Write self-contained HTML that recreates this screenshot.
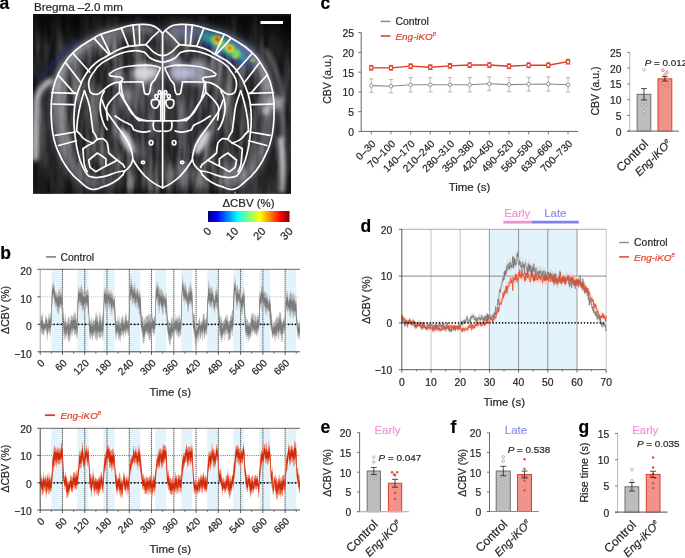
<!DOCTYPE html>
<html><head><meta charset="utf-8"><style>
html,body{margin:0;padding:0;background:#fff;}
svg{display:block;font-family:"Liberation Sans", sans-serif;will-change:transform;} text{stroke:currentColor;stroke-width:0.2px;}
</style></head><body>
<svg width="685" height="558" viewBox="0 0 685 558">
<text x="-0.60" y="8.80" font-size="17.5" text-anchor="start" fill="#000" color="#000" font-weight="bold">a</text>
<text x="0.20" y="258.70" font-size="17.5" text-anchor="start" fill="#000" color="#000" font-weight="bold">b</text>
<text x="320.60" y="9.30" font-size="17.5" text-anchor="start" fill="#000" color="#000" font-weight="bold">c</text>
<text x="360.60" y="231.90" font-size="17.5" text-anchor="start" fill="#000" color="#000" font-weight="bold">d</text>
<text x="320.60" y="432.60" font-size="17.5" text-anchor="start" fill="#000" color="#000" font-weight="bold">e</text>
<text x="450.60" y="432.60" font-size="17.5" text-anchor="start" fill="#000" color="#000" font-weight="bold">f</text>
<text x="578.60" y="432.60" font-size="17.5" text-anchor="start" fill="#000" color="#000" font-weight="bold">g</text>
<text x="34.00" y="10.50" font-size="11.6" text-anchor="start" fill="#231f20" color="#231f20">Bregma –2.0 mm</text>
<g id="brain"><defs><clipPath id="bclip"><rect x="33" y="14" width="258" height="179.7"/></clipPath><filter id="b1" filterUnits="userSpaceOnUse" x="20" y="0" width="300" height="210"><feGaussianBlur stdDeviation="1.2"/></filter><filter id="b2" filterUnits="userSpaceOnUse" x="20" y="0" width="300" height="210"><feGaussianBlur stdDeviation="2"/></filter><filter id="b3" filterUnits="userSpaceOnUse" x="20" y="0" width="300" height="210"><feGaussianBlur stdDeviation="3"/></filter><filter id="b4" filterUnits="userSpaceOnUse" x="20" y="0" width="300" height="210"><feGaussianBlur stdDeviation="4"/></filter><filter id="b8" filterUnits="userSpaceOnUse" x="20" y="0" width="300" height="210"><feGaussianBlur stdDeviation="8"/></filter><filter id="tex" x="0" y="0" width="100%" height="100%"><feTurbulence type="fractalNoise" baseFrequency="0.09 0.018" numOctaves="3" seed="5" result="n"/><feColorMatrix in="n" type="matrix" values="0 0 0 0 0.88  0 0 0 0 0.88  0 0 0 0 0.92  2.2 0 0 0 -0.85"/></filter><linearGradient id="stripes" x1="0" x2="7" y1="0" y2="0" gradientUnits="userSpaceOnUse" spreadMethod="repeat"><stop offset="0" stop-color="#fff" stop-opacity="0"/><stop offset="0.5" stop-color="#fff" stop-opacity="0.07"/><stop offset="1" stop-color="#fff" stop-opacity="0"/></linearGradient><linearGradient id="topdark" x1="0" x2="0" y1="0" y2="1"><stop offset="0" stop-color="#000" stop-opacity="0.6"/><stop offset="0.18" stop-color="#000" stop-opacity="0"/></linearGradient></defs>
<g clip-path="url(#bclip)">
<rect x="33" y="14" width="258" height="180" fill="#1e1e20"/>
<rect x="33" y="14" width="258" height="180" fill="url(#stripes)"/>
<rect x="33" y="14" width="258" height="180" fill="#fff" filter="url(#tex)" opacity="0.5"/>
<path d="M158,30 C140,25 115,29 95,38 C75,49 62,65 56,87 C53,107 54,130 60,150 C66,168 77,180 95,185" fill="none" stroke="#9a9aa6" stroke-opacity="0.5" stroke-width="18" stroke-linecap="round" filter="url(#b4)"/>
<path d="M150,28 C135,25 118,27 100,34 C85,41 72,52 62,66 C58,73 56,80 55,88" fill="none" stroke="#dcdcf4" stroke-opacity="0.55" stroke-width="8" stroke-linecap="round" filter="url(#b2)"/>
<ellipse cx="140" cy="105" rx="22" ry="40" fill="#50505a" fill-opacity="0.35" filter="url(#b8)"/>
<g transform="translate(325.2,0) scale(-1,1)"><path d="M158,30 C140,25 115,29 95,38 C75,49 62,65 56,87 C53,107 54,130 60,150 C66,168 77,180 95,185" fill="none" stroke="#9a9aa6" stroke-opacity="0.5" stroke-width="18" stroke-linecap="round" filter="url(#b4)"/>
<path d="M150,28 C135,25 118,27 100,34 C85,41 72,52 62,66 C58,73 56,80 55,88" fill="none" stroke="#dcdcf4" stroke-opacity="0.55" stroke-width="8" stroke-linecap="round" filter="url(#b2)"/>
<ellipse cx="140" cy="105" rx="22" ry="40" fill="#50505a" fill-opacity="0.35" filter="url(#b8)"/></g>
<mask id="outm" maskUnits="userSpaceOnUse" x="33" y="14" width="258" height="180"><rect x="33" y="14" width="258" height="180" fill="#fff"/><g filter="url(#b3)"><path d="M162.6,33.3 C160.5,31 158,28.5 155.5,27 C152.5,25.2 148,24.3 143,24.4 C136,24.5 128,25.3 121.3,28.1 C114,30 107,32 100.9,34.3 C97,35.8 95.5,37 93.7,38.3 C89,41 85,43.5 80.4,46.5 C76.5,49.5 73,52.5 70.2,55.7 C67.5,58.5 66,61 64.1,63.9 C60,70 57,76 55,82 C53,88 52,94 51.5,100 C51,108 51,118 51.8,126 C52.6,134 54.5,143 57.5,150 C60.5,157.5 64,164 69,170.5 C72.5,175 75.5,178 78.6,180.3 C82,183.5 85,186.5 88.6,188.3 C90.5,189.3 92.5,189.7 94.7,189.4 C97,189.2 99.5,188.2 102.1,187 L162.6,191 Z" fill="#000"/><path d="M162.6,33.3 C160.5,31 158,28.5 155.5,27 C152.5,25.2 148,24.3 143,24.4 C136,24.5 128,25.3 121.3,28.1 C114,30 107,32 100.9,34.3 C97,35.8 95.5,37 93.7,38.3 C89,41 85,43.5 80.4,46.5 C76.5,49.5 73,52.5 70.2,55.7 C67.5,58.5 66,61 64.1,63.9 C60,70 57,76 55,82 C53,88 52,94 51.5,100 C51,108 51,118 51.8,126 C52.6,134 54.5,143 57.5,150 C60.5,157.5 64,164 69,170.5 C72.5,175 75.5,178 78.6,180.3 C82,183.5 85,186.5 88.6,188.3 C90.5,189.3 92.5,189.7 94.7,189.4 C97,189.2 99.5,188.2 102.1,187 L162.6,191 Z" fill="#000" transform="translate(325.2,0) scale(-1,1)"/></g></mask>
<rect x="33" y="14" width="258" height="180" fill="#050505" opacity="0.55" mask="url(#outm)"/>
<ellipse cx="144" cy="73" rx="12" ry="9" fill="#f2f2fa" fill-opacity="0.8" filter="url(#b3)"/>
<ellipse cx="181" cy="73" rx="12" ry="9" fill="#d6d6f4" fill-opacity="0.8" filter="url(#b3)"/>
<ellipse cx="127" cy="95" rx="4" ry="6" fill="#c0c0cc" fill-opacity="0.45" filter="url(#b3)"/>
<ellipse cx="116" cy="77" rx="6" ry="8" fill="#f2f2fa" fill-opacity="0.45" filter="url(#b3)"/>
<ellipse cx="155" cy="71" rx="6" ry="5" fill="#f2f2fa" fill-opacity="0.5" filter="url(#b3)"/>
<ellipse cx="172" cy="62" rx="10" ry="5" fill="#d6d6f4" fill-opacity="0.55" filter="url(#b3)"/>
<ellipse cx="198" cy="72" rx="10" ry="13" fill="#d6d6f4" fill-opacity="0.6" filter="url(#b3)"/>
<ellipse cx="127" cy="141" rx="4.5" ry="14" fill="#f2f2fa" fill-opacity="0.85" filter="url(#b2)" transform="rotate(-28 127 141)"/>
<ellipse cx="202" cy="142" rx="4.5" ry="14" fill="#f2f2fa" fill-opacity="0.85" filter="url(#b2)" transform="rotate(28 202 142)"/>
<ellipse cx="138" cy="152" rx="9" ry="10" fill="#9a9aa4" fill-opacity="0.4" filter="url(#b4)"/>
<ellipse cx="182" cy="175" rx="16" ry="10" fill="#a0a0aa" fill-opacity="0.35" filter="url(#b4)"/>
<ellipse cx="233" cy="172" rx="10" ry="8" fill="#c8c8d0" fill-opacity="0.4" filter="url(#b4)"/>
<ellipse cx="274" cy="103" rx="10" ry="7" fill="#f2f2fa" fill-opacity="0.5" filter="url(#b3)"/>
<ellipse cx="60" cy="100" rx="6" ry="25" fill="#b0b0b8" fill-opacity="0.35" filter="url(#b4)"/>
<ellipse cx="100" cy="100" rx="5" ry="12" fill="#7a7a84" fill-opacity="0.3" filter="url(#b4)"/>
<ellipse cx="225" cy="100" rx="5" ry="12" fill="#7a7a84" fill-opacity="0.3" filter="url(#b4)"/>
<ellipse cx="266" cy="111" rx="3" ry="4" fill="#ffffff" fill-opacity="0.7" filter="url(#b2)"/>
<path d="M35.5,158 L36.5,100 C38,92 42,86 50,81" fill="none" stroke="#f2f2fa" stroke-opacity="0.75" stroke-width="6" stroke-linecap="round" filter="url(#b2)"/>
<path d="M42,60 L42,200" fill="none" stroke="#9a9a9a" stroke-opacity="0.25" stroke-width="5" stroke-linecap="round" filter="url(#b3)"/>
<path d="M40,78 C55,60 68,48 80,40" fill="none" stroke="#2030a0" stroke-opacity="0.5" stroke-width="3" stroke-linecap="round" filter="url(#b2)"/>
<path d="M281,140 C283,160 283,175 282,190" fill="none" stroke="#f2f2fa" stroke-opacity="0.8" stroke-width="6" stroke-linecap="round" filter="url(#b2)"/>
<path d="M280,100 C283,115 284,128 283,140" fill="none" stroke="#d0d0dc" stroke-opacity="0.55" stroke-width="4" stroke-linecap="round" filter="url(#b2)"/>
<path d="M266,50 C276,68 282,85 283,100" fill="none" stroke="#c8c8d8" stroke-opacity="0.45" stroke-width="4" stroke-linecap="round" filter="url(#b2)"/>
<ellipse cx="280" cy="22" rx="22" ry="16" fill="#000" fill-opacity="0.6" filter="url(#b8)"/>
<ellipse cx="60" cy="20" rx="30" ry="10" fill="#000" fill-opacity="0.4" filter="url(#b8)"/>
<ellipse cx="45" cy="185" rx="14" ry="12" fill="#000" fill-opacity="0.4" filter="url(#b8)"/>
<ellipse cx="280" cy="188" rx="12" ry="8" fill="#000" fill-opacity="0.3" filter="url(#b8)"/>
<ellipse cx="226" cy="47" rx="34" ry="11" fill="#2848b8" fill-opacity="0.55" filter="url(#b4)" transform="rotate(30 226 47)"/>
<ellipse cx="185" cy="32" rx="14" ry="6" fill="#9098e0" fill-opacity="0.5" filter="url(#b3)" transform="rotate(8 185 32)"/>
<ellipse cx="208" cy="37" rx="9" ry="5" fill="#38c0c8" fill-opacity="0.8" filter="url(#b2)" transform="rotate(20 208 37)"/>
<ellipse cx="225" cy="46" rx="18" ry="6.5" fill="#40c8a0" fill-opacity="0.85" filter="url(#b2)" transform="rotate(32 225 46)"/>
<ellipse cx="241" cy="56" rx="8" ry="3.5" fill="#40b8a8" fill-opacity="0.7" filter="url(#b2)" transform="rotate(38 241 56)"/>
<ellipse cx="217.4" cy="40.5" rx="6.5" ry="4.5" fill="#a8e040" fill-opacity="0.95" filter="url(#b1)" transform="rotate(30 217.4 40.5)"/>
<ellipse cx="229.7" cy="48.5" rx="6" ry="4" fill="#a8e040" fill-opacity="0.95" filter="url(#b1)" transform="rotate(35 229.7 48.5)"/>
<ellipse cx="236" cy="54.5" rx="3.5" ry="5" fill="#90d850" fill-opacity="0.9" filter="url(#b1)" transform="rotate(35 236 54.5)"/>
<ellipse cx="217.4" cy="40" rx="4" ry="3" fill="#f8e030" fill-opacity="1" filter="url(#b1)" transform="rotate(30 217.4 40)"/>
<ellipse cx="229.7" cy="48" rx="3.6" ry="2.6" fill="#f8d030" fill-opacity="1" filter="url(#b1)" transform="rotate(35 229.7 48)"/>
<ellipse cx="217.4" cy="39.5" rx="2.3" ry="1.7" fill="#e82010" fill-opacity="1" filter="url(#b1)" transform="rotate(30 217.4 39.5)"/>
<ellipse cx="229.7" cy="48" rx="2.1" ry="1.5" fill="#e84010" fill-opacity="1" filter="url(#b1)" transform="rotate(35 229.7 48)"/>
<ellipse cx="252.5" cy="60.3" rx="2" ry="2" fill="#a0d040" fill-opacity="0.9" filter="url(#b1)"/>
<rect x="33" y="14" width="258" height="180" fill="url(#topdark)"/>
<rect x="33" y="14" width="258" height="2.2" fill="#111"/>
</g>
<g fill="none" stroke="#fff" stroke-width="1.7" stroke-linejoin="round" stroke-linecap="round">
<path d="M162.6,33.3 C160.5,31 158,28.5 155.5,27 C152.5,25.2 148,24.3 143,24.4 C136,24.5 128,25.3 121.3,28.1 C114,30 107,32 100.9,34.3 C97,35.8 95.5,37 93.7,38.3 C89,41 85,43.5 80.4,46.5 C76.5,49.5 73,52.5 70.2,55.7 C67.5,58.5 66,61 64.1,63.9 C60,70 57,76 55,82 C53,88 52,94 51.5,100 C51,108 51,118 51.8,126 C52.6,134 54.5,143 57.5,150 C60.5,157.5 64,164 69,170.5 C72.5,175 75.5,178 78.6,180.3 C82,183.5 85,186.5 88.6,188.3 C90.5,189.3 92.5,189.7 94.7,189.4 C97,189.2 99.5,188.2 102.1,187"/>
<path d="M145.8,44.7 C140,45.1 135,45.6 130,46.2 C123,47.2 117,50 111.1,53.7 C107,56 103.5,58 99,60.5 C94,64 89.5,68.5 86.1,74 C83,78.5 81,82.5 79.7,86.9 C77.5,92 76.2,96 75.4,100.9 C74.5,106 74,112 73.9,118 C73.8,124 74.3,130 75,135 C75.6,140 76,143 76.5,145.9 C77.5,151 78.5,155.5 80,160.2 C81.5,164 83,167.5 84.3,170.2 C85.5,172.5 87,174.5 88.6,176 C92,177.5 95,177.8 98.7,177.4 C103,177 107,176 110.2,174.6 C114,173 117,172 120,171.5 C122,171.2 123.5,171 125,170.8"/>
<path d="M145.8,44.7 C147.5,46 149,47.2 150.1,48.7 C151.5,50.3 153,51.7 155.1,53 C157,54.2 158.5,55 159.4,55.1 C160.5,55.4 161.5,55.5 162.6,55.6"/>
<path d="M145.8,44.7 C149,40.5 153,36 158.5,31.6"/>
<path d="M139.3,24.6 L139.7,45.3"/>
<path d="M132.9,25.2 L135.0,45.8"/>
<path d="M121.3,28.1 L128.5,46.2"/>
<path d="M100.9,34.3 L110.0,53.7"/>
<path d="M94.7,38.9 C99,44 104,49 108.5,54"/>
<path d="M73.3,53.7 L89.6,72"/>
<path d="M65.5,62.5 L81.2,83"/>
<path d="M57.7,74.8 C63,80 68,86 72.3,91 C73.5,92.3 74.5,93 76,93.4"/>
<path d="M51.6,92.6 L75.6,93.4"/>
<path d="M51.1,104 L74.2,104.7"/>
<path d="M55.2,135.4 L75.1,132"/>
<path d="M58.5,145.5 L76.4,140.8"/>
<path d="M162.6,62.5 C158,61.5 153,60 149.5,57.5 C147.5,55.5 146.5,53.5 144.3,52.3 C140,50.6 135,50.3 130,51.2 C124,52 118,54 111.1,57.8 C106,60.5 103,62 100.9,63.9 C98,66 96,68.3 94.7,70.8 C92,74 90.5,76.5 89.4,79.4 C88.5,82 88.4,84.5 88.8,86.9 C89.2,89 89.6,90.8 90.4,92.3 C92,93.8 94.5,94.6 96.9,94.4 C99,94.2 100.8,92.8 102.3,91.2 C104.5,89 106.5,87.3 108.7,85.8 C111,84.3 113,83.2 115.2,82.6 C117,82.2 119,82 121.6,82 L143,81.8"/>
<path d="M84.5,90.8 C83,95 81.8,99 80.8,103 C79.5,108 78.5,113 77.5,120 C77,125 76.8,128 76.7,131"/>
<path d="M84.5,90.8 C86.5,96 88.2,101 89.5,106 C90.5,111 91,115 91.5,120 C92,124 92.5,128 93,131.5"/>
<path d="M109.1,74.2 C112,71.5 115,69.5 118.2,68.7 C122,67.3 126,66.3 131,66 C136,65.5 141,65.1 145.6,65.1 C149,65.2 152,65.5 154.7,66 C157,66.5 159,67 160.2,67.8 C160,69.5 159.3,71 158.4,72.4 C157,75 156,77.5 154.7,79.7 C153.3,81.5 152,82.8 151.1,84.2 C150.5,86.5 150.5,88.5 150.2,90.6 C149.8,92.3 149.2,93.6 148.4,94.3 C147,94.6 145.5,94.2 144.7,93.4 C144.2,91.8 144,90.2 143.8,88.8 C143.5,87 143.2,85 142.9,83.3"/>
<path d="M109.8,75.6 C113,76.5 117,76.8 120.5,77.2 C122,77.7 123,78.5 122.7,79.4 C122.2,80.3 121.5,81 120.5,81.8"/>
<path d="M104.4,91.2 C102.5,93.5 101.5,96 101.2,98.7 C100.5,102 100,105 100.1,108.4 C100.3,112 101,116 102.3,120 C103.5,124 105,127 107,129.5"/>
<path d="M119.5,82.6 C119.6,86 119.6,89 119.5,92.3 C116,95.5 112.5,98.5 109.8,101.9 C108,104 106.8,106 106.6,108.4 C106.4,112 106.8,116 107.6,120"/>
<path d="M119.5,92.3 C121.5,96 123.5,99.5 125.9,103 C128.5,107 131.5,111.5 134.5,115.9 C136,118 137.5,119.5 139,120.5"/>
<path d="M139,120.5 C145,120.8 152,121 162.6,120.8"/>
<path d="M120.7,82 C121,88 122,94 124,99.6 C126,104 128,106.5 129,108.9"/>
<path d="M76.7,131 C79,133 81,135 82.5,137.5 C85,140 88,141.5 93,143 C95,141.5 96,140.3 97.3,139.4 C99.5,138.6 101.5,138.5 103,138.7 C105,139.8 106.5,141.3 107.3,143 C108,146 108.5,149.5 108.7,153 C111.5,155.5 114.5,158 117.3,160.2 C119.5,162 121.5,163.5 123.1,164.5 C123.8,165.5 124.3,166.5 124.5,167.4"/>
<path d="M82.9,148.7 C83.2,153 83.5,158 84.3,164.5 C85,167.5 86,169.8 87.2,171.7"/>
<path d="M82.9,148.7 C86,146.5 89.5,144.5 93,143"/>
<path d="M88.6,160.2 C91.5,157.8 94.5,155.2 97.3,153 C100,154.5 103,156.5 105.9,158.8 L105.9,166 C102.5,167.8 99,169.8 95.8,171.7 C94,170.5 92,169 90.1,167.4 C89.5,165 89,162.5 88.6,160.2 Z"/>
<path d="M105.9,166 C110,164.5 113,162.5 117.3,160.2"/>
<path d="M93,131.5 C95,134 96.5,136.5 97.3,139.4"/>
<path d="M102.1,100 C104,106 105.5,110 107.8,113.4 C111,118 114,122.5 117.4,126.8 C121,131.5 124.5,136 127,140.2 C129.5,144.5 131,148 131.7,151.6 C132.5,155 133,157.5 132.7,159.3 C132.3,161.5 131.5,163.5 130.8,165 C129,167.5 127,169.5 125,170.8 C124,172 123.5,173.5 123.1,174.6 C120,178 117,180.5 113.6,182.2 C110,184.5 106,186 102.1,187"/>
<path d="M132.7,159.3 C136,165 140,171 145,176 C150,181 156,185 162.6,187.8"/>
<path d="M115,116 C118,118 121,120 124.3,121.7 C127,123 129.5,124 131.3,125.2 C132.5,126.5 133,128.3 133.6,129.8 C136.5,131 140,132 143,132.2 C145.5,132.3 148,131.7 150,131"/>
<path d="M151.5,100.5 C153.5,99.3 156.5,99.3 158.8,100.2 C159.8,102.5 159,105.5 157,107.5 C155.5,108.5 153.5,108.2 152.3,106.5 C151.3,104.8 151,102.5 151.5,100.5 Z"/>
<path d="M160.9,92 L160.9,120.7"/>
<path d="M153.5,121 C153,124 153,127 154,129.5 C155.5,131 158,131.5 160.9,131.2"/>
<path d="M129,108.9 C131,113 134,116.5 138.3,118.2 C141,119.5 144,120.5 147.6,120.8"/>
<ellipse cx="143.0" cy="162.4" rx="1.6" ry="1.3"/>
<ellipse cx="151.1" cy="142.7" rx="1.8" ry="2.2"/>
<ellipse cx="159.7" cy="92.4" rx="1.3" ry="1.9"/>
<ellipse cx="156.4" cy="96.3" rx="1.5" ry="1.9"/>
<g transform="translate(325.2,0) scale(-1,1)"><path d="M162.6,33.3 C160.5,31 158,28.5 155.5,27 C152.5,25.2 148,24.3 143,24.4 C136,24.5 128,25.3 121.3,28.1 C114,30 107,32 100.9,34.3 C97,35.8 95.5,37 93.7,38.3 C89,41 85,43.5 80.4,46.5 C76.5,49.5 73,52.5 70.2,55.7 C67.5,58.5 66,61 64.1,63.9 C60,70 57,76 55,82 C53,88 52,94 51.5,100 C51,108 51,118 51.8,126 C52.6,134 54.5,143 57.5,150 C60.5,157.5 64,164 69,170.5 C72.5,175 75.5,178 78.6,180.3 C82,183.5 85,186.5 88.6,188.3 C90.5,189.3 92.5,189.7 94.7,189.4 C97,189.2 99.5,188.2 102.1,187"/>
<path d="M145.8,44.7 C140,45.1 135,45.6 130,46.2 C123,47.2 117,50 111.1,53.7 C107,56 103.5,58 99,60.5 C94,64 89.5,68.5 86.1,74 C83,78.5 81,82.5 79.7,86.9 C77.5,92 76.2,96 75.4,100.9 C74.5,106 74,112 73.9,118 C73.8,124 74.3,130 75,135 C75.6,140 76,143 76.5,145.9 C77.5,151 78.5,155.5 80,160.2 C81.5,164 83,167.5 84.3,170.2 C85.5,172.5 87,174.5 88.6,176 C92,177.5 95,177.8 98.7,177.4 C103,177 107,176 110.2,174.6 C114,173 117,172 120,171.5 C122,171.2 123.5,171 125,170.8"/>
<path d="M145.8,44.7 C147.5,46 149,47.2 150.1,48.7 C151.5,50.3 153,51.7 155.1,53 C157,54.2 158.5,55 159.4,55.1 C160.5,55.4 161.5,55.5 162.6,55.6"/>
<path d="M145.8,44.7 C149,40.5 153,36 158.5,31.6"/>
<path d="M139.3,24.6 L139.7,45.3"/>
<path d="M132.9,25.2 L135.0,45.8"/>
<path d="M121.3,28.1 L128.5,46.2"/>
<path d="M100.9,34.3 L110.0,53.7"/>
<path d="M94.7,38.9 C99,44 104,49 108.5,54"/>
<path d="M73.3,53.7 L89.6,72"/>
<path d="M65.5,62.5 L81.2,83"/>
<path d="M57.7,74.8 C63,80 68,86 72.3,91 C73.5,92.3 74.5,93 76,93.4"/>
<path d="M51.6,92.6 L75.6,93.4"/>
<path d="M51.1,104 L74.2,104.7"/>
<path d="M55.2,135.4 L75.1,132"/>
<path d="M58.5,145.5 L76.4,140.8"/>
<path d="M162.6,62.5 C158,61.5 153,60 149.5,57.5 C147.5,55.5 146.5,53.5 144.3,52.3 C140,50.6 135,50.3 130,51.2 C124,52 118,54 111.1,57.8 C106,60.5 103,62 100.9,63.9 C98,66 96,68.3 94.7,70.8 C92,74 90.5,76.5 89.4,79.4 C88.5,82 88.4,84.5 88.8,86.9 C89.2,89 89.6,90.8 90.4,92.3 C92,93.8 94.5,94.6 96.9,94.4 C99,94.2 100.8,92.8 102.3,91.2 C104.5,89 106.5,87.3 108.7,85.8 C111,84.3 113,83.2 115.2,82.6 C117,82.2 119,82 121.6,82 L143,81.8"/>
<path d="M84.5,90.8 C83,95 81.8,99 80.8,103 C79.5,108 78.5,113 77.5,120 C77,125 76.8,128 76.7,131"/>
<path d="M84.5,90.8 C86.5,96 88.2,101 89.5,106 C90.5,111 91,115 91.5,120 C92,124 92.5,128 93,131.5"/>
<path d="M109.1,74.2 C112,71.5 115,69.5 118.2,68.7 C122,67.3 126,66.3 131,66 C136,65.5 141,65.1 145.6,65.1 C149,65.2 152,65.5 154.7,66 C157,66.5 159,67 160.2,67.8 C160,69.5 159.3,71 158.4,72.4 C157,75 156,77.5 154.7,79.7 C153.3,81.5 152,82.8 151.1,84.2 C150.5,86.5 150.5,88.5 150.2,90.6 C149.8,92.3 149.2,93.6 148.4,94.3 C147,94.6 145.5,94.2 144.7,93.4 C144.2,91.8 144,90.2 143.8,88.8 C143.5,87 143.2,85 142.9,83.3"/>
<path d="M109.8,75.6 C113,76.5 117,76.8 120.5,77.2 C122,77.7 123,78.5 122.7,79.4 C122.2,80.3 121.5,81 120.5,81.8"/>
<path d="M104.4,91.2 C102.5,93.5 101.5,96 101.2,98.7 C100.5,102 100,105 100.1,108.4 C100.3,112 101,116 102.3,120 C103.5,124 105,127 107,129.5"/>
<path d="M119.5,82.6 C119.6,86 119.6,89 119.5,92.3 C116,95.5 112.5,98.5 109.8,101.9 C108,104 106.8,106 106.6,108.4 C106.4,112 106.8,116 107.6,120"/>
<path d="M119.5,92.3 C121.5,96 123.5,99.5 125.9,103 C128.5,107 131.5,111.5 134.5,115.9 C136,118 137.5,119.5 139,120.5"/>
<path d="M139,120.5 C145,120.8 152,121 162.6,120.8"/>
<path d="M120.7,82 C121,88 122,94 124,99.6 C126,104 128,106.5 129,108.9"/>
<path d="M76.7,131 C79,133 81,135 82.5,137.5 C85,140 88,141.5 93,143 C95,141.5 96,140.3 97.3,139.4 C99.5,138.6 101.5,138.5 103,138.7 C105,139.8 106.5,141.3 107.3,143 C108,146 108.5,149.5 108.7,153 C111.5,155.5 114.5,158 117.3,160.2 C119.5,162 121.5,163.5 123.1,164.5 C123.8,165.5 124.3,166.5 124.5,167.4"/>
<path d="M82.9,148.7 C83.2,153 83.5,158 84.3,164.5 C85,167.5 86,169.8 87.2,171.7"/>
<path d="M82.9,148.7 C86,146.5 89.5,144.5 93,143"/>
<path d="M88.6,160.2 C91.5,157.8 94.5,155.2 97.3,153 C100,154.5 103,156.5 105.9,158.8 L105.9,166 C102.5,167.8 99,169.8 95.8,171.7 C94,170.5 92,169 90.1,167.4 C89.5,165 89,162.5 88.6,160.2 Z"/>
<path d="M105.9,166 C110,164.5 113,162.5 117.3,160.2"/>
<path d="M93,131.5 C95,134 96.5,136.5 97.3,139.4"/>
<path d="M102.1,100 C104,106 105.5,110 107.8,113.4 C111,118 114,122.5 117.4,126.8 C121,131.5 124.5,136 127,140.2 C129.5,144.5 131,148 131.7,151.6 C132.5,155 133,157.5 132.7,159.3 C132.3,161.5 131.5,163.5 130.8,165 C129,167.5 127,169.5 125,170.8 C124,172 123.5,173.5 123.1,174.6 C120,178 117,180.5 113.6,182.2 C110,184.5 106,186 102.1,187"/>
<path d="M132.7,159.3 C136,165 140,171 145,176 C150,181 156,185 162.6,187.8"/>
<path d="M115,116 C118,118 121,120 124.3,121.7 C127,123 129.5,124 131.3,125.2 C132.5,126.5 133,128.3 133.6,129.8 C136.5,131 140,132 143,132.2 C145.5,132.3 148,131.7 150,131"/>
<path d="M151.5,100.5 C153.5,99.3 156.5,99.3 158.8,100.2 C159.8,102.5 159,105.5 157,107.5 C155.5,108.5 153.5,108.2 152.3,106.5 C151.3,104.8 151,102.5 151.5,100.5 Z"/>
<path d="M160.9,92 L160.9,120.7"/>
<path d="M153.5,121 C153,124 153,127 154,129.5 C155.5,131 158,131.5 160.9,131.2"/>
<path d="M129,108.9 C131,113 134,116.5 138.3,118.2 C141,119.5 144,120.5 147.6,120.8"/>
<ellipse cx="143.0" cy="162.4" rx="1.6" ry="1.3"/>
<ellipse cx="151.1" cy="142.7" rx="1.8" ry="2.2"/>
<ellipse cx="159.7" cy="92.4" rx="1.3" ry="1.9"/>
<ellipse cx="156.4" cy="96.3" rx="1.5" ry="1.9"/></g>
<path d="M162.6,33.3 L162.6,188"/>
</g>
<rect x="260.5" y="21" width="22.5" height="3" fill="#fff"/>
<line x1="235.1" y1="191.8" x2="235.1" y2="193.7" stroke="#fff" stroke-width="0.8"/></g>
<defs><linearGradient id="jet" x1="0" x2="1" y1="0" y2="0"><stop offset="0" stop-color="#00007f"/><stop offset="0.11" stop-color="#0000ff"/><stop offset="0.36" stop-color="#00ffff"/><stop offset="0.5" stop-color="#7fff7f"/><stop offset="0.64" stop-color="#ffff00"/><stop offset="0.89" stop-color="#ff0000"/><stop offset="1" stop-color="#7f0000"/></linearGradient></defs>
<rect x="208.00" y="211.00" width="81.50" height="11.00" fill="url(#jet)"/>
<text x="248.50" y="206.60" font-size="11.45" text-anchor="middle" fill="#231f20" color="#231f20">ΔCBV (%)</text>
<text x="212.00" y="232.00" font-size="11.0" text-anchor="end" fill="#231f20" color="#231f20" transform="rotate(-45 212.00 232.00)">0</text>
<text x="239.17" y="232.00" font-size="11.0" text-anchor="end" fill="#231f20" color="#231f20" transform="rotate(-45 239.17 232.00)">10</text>
<text x="266.33" y="232.00" font-size="11.0" text-anchor="end" fill="#231f20" color="#231f20" transform="rotate(-45 266.33 232.00)">20</text>
<text x="293.50" y="232.00" font-size="11.0" text-anchor="end" fill="#231f20" color="#231f20" transform="rotate(-45 293.50 232.00)">30</text>
<rect x="51.33" y="269.30" width="11.13" height="82.50" fill="#e3f3fc"/>
<rect x="77.31" y="269.30" width="11.13" height="82.50" fill="#e3f3fc"/>
<rect x="103.29" y="269.30" width="11.13" height="82.50" fill="#e3f3fc"/>
<rect x="129.27" y="269.30" width="11.13" height="82.50" fill="#e3f3fc"/>
<rect x="155.25" y="269.30" width="11.13" height="82.50" fill="#e3f3fc"/>
<rect x="181.23" y="269.30" width="11.13" height="82.50" fill="#e3f3fc"/>
<rect x="207.21" y="269.30" width="11.13" height="82.50" fill="#e3f3fc"/>
<rect x="233.19" y="269.30" width="11.13" height="82.50" fill="#e3f3fc"/>
<rect x="259.17" y="269.30" width="11.13" height="82.50" fill="#e3f3fc"/>
<rect x="285.15" y="269.30" width="11.13" height="82.50" fill="#e3f3fc"/>
<line x1="40.20" y1="269.30" x2="300.00" y2="269.30" stroke="#444" stroke-width="0.8"/>
<line x1="40.20" y1="296.80" x2="300.00" y2="296.80" stroke="#999" stroke-width="0.7" stroke-dasharray="1 1.2"/>
<line x1="62.47" y1="269.30" x2="62.47" y2="351.80" stroke="#000" stroke-width="0.9" stroke-dasharray="1 1"/>
<line x1="84.74" y1="269.30" x2="84.74" y2="351.80" stroke="#000" stroke-width="0.9" stroke-dasharray="1 1"/>
<line x1="107.01" y1="269.30" x2="107.01" y2="351.80" stroke="#000" stroke-width="0.9" stroke-dasharray="1 1"/>
<line x1="129.27" y1="269.30" x2="129.27" y2="351.80" stroke="#000" stroke-width="0.9" stroke-dasharray="1 1"/>
<line x1="151.54" y1="269.30" x2="151.54" y2="351.80" stroke="#000" stroke-width="0.9" stroke-dasharray="1 1"/>
<line x1="173.81" y1="269.30" x2="173.81" y2="351.80" stroke="#000" stroke-width="0.9" stroke-dasharray="1 1"/>
<line x1="196.08" y1="269.30" x2="196.08" y2="351.80" stroke="#000" stroke-width="0.9" stroke-dasharray="1 1"/>
<line x1="218.35" y1="269.30" x2="218.35" y2="351.80" stroke="#000" stroke-width="0.9" stroke-dasharray="1 1"/>
<line x1="240.62" y1="269.30" x2="240.62" y2="351.80" stroke="#000" stroke-width="0.9" stroke-dasharray="1 1"/>
<line x1="262.89" y1="269.30" x2="262.89" y2="351.80" stroke="#000" stroke-width="0.9" stroke-dasharray="1 1"/>
<line x1="285.15" y1="269.30" x2="285.15" y2="351.80" stroke="#000" stroke-width="0.9" stroke-dasharray="1 1"/>
<line x1="40.20" y1="324.30" x2="300.00" y2="324.30" stroke="#000" stroke-width="1.7" stroke-dasharray="0 3.5" stroke-linecap="round"/>
<line x1="40.20" y1="324.30" x2="300.00" y2="324.30" stroke="#000" stroke-width="0.7" stroke-dasharray="0.8 0.95"/>
<polygon points="40.5,319.7 41.0,317.1 41.5,314.4 42.0,316.5 42.5,310.9 43.0,321.3 43.5,320.9 44.0,323.9 44.5,323.2 45.0,322.4 45.5,313.1 46.0,317.3 46.5,316.0 47.0,322.1 47.5,317.4 48.0,321.7 48.5,316.3 49.0,310.9 49.5,318.0 50.0,316.0 50.5,310.9 51.0,316.9 51.5,301.5 52.0,285.9 52.5,285.4 53.0,283.9 53.5,279.6 54.0,285.7 54.5,285.1 55.0,290.2 55.5,292.8 56.0,292.1 56.5,291.4 57.0,295.1 57.5,294.9 58.0,292.7 58.5,290.7 59.0,289.8 59.5,288.6 60.0,291.9 60.5,294.0 61.0,284.8 61.5,295.7 62.0,291.8 62.5,291.3 63.0,305.3 63.5,315.0 64.0,317.2 64.5,325.5 65.0,312.6 65.5,316.2 66.0,323.3 66.5,321.7 67.0,322.5 67.5,321.3 68.0,316.8 68.5,316.1 69.0,318.9 69.5,316.9 70.0,325.7 70.5,319.8 71.0,315.3 71.5,315.6 72.0,315.8 72.5,316.6 73.0,318.2 73.5,314.1 74.0,312.2 74.5,313.5 75.0,317.7 75.5,312.7 76.0,309.5 76.5,321.9 77.0,319.2 77.5,301.9 78.0,291.2 78.5,286.4 79.0,287.2 79.5,289.6 80.0,291.2 80.5,287.7 81.0,285.9 81.5,283.5 82.0,288.8 82.5,289.1 83.0,291.1 83.5,291.6 84.0,294.7 84.5,295.0 85.0,291.0 85.5,292.1 86.0,289.5 86.5,291.7 87.0,290.8 87.5,288.0 88.0,291.2 88.5,289.4 89.0,308.4 89.5,320.4 90.0,319.7 90.5,322.8 91.0,314.9 91.5,319.5 92.0,324.3 92.5,322.2 93.0,317.2 93.5,319.8 94.0,320.7 94.5,321.2 95.0,320.0 95.5,316.1 96.0,310.8 96.5,313.2 97.0,317.7 97.5,315.9 98.0,314.9 98.5,323.6 99.0,321.5 99.5,313.1 100.0,311.6 100.5,316.2 101.0,316.0 101.5,323.3 102.0,317.9 102.5,311.2 103.0,319.6 103.5,304.3 104.0,284.9 104.5,291.0 105.0,290.9 105.5,287.4 106.0,288.8 106.5,290.7 107.0,292.5 107.5,293.6 108.0,286.9 108.5,293.2 109.0,289.0 109.5,295.2 110.0,289.2 110.5,290.3 111.0,295.4 111.5,289.7 112.0,294.0 112.5,292.6 113.0,297.4 113.5,300.5 114.0,295.2 114.5,295.7 115.0,301.9 115.5,313.1 116.0,319.8 116.5,321.9 117.0,320.3 117.5,321.3 118.0,315.6 118.5,323.4 119.0,312.7 119.5,320.6 120.0,324.8 120.5,324.1 121.0,316.0 121.5,320.5 122.0,317.4 122.5,316.6 123.0,314.2 123.5,318.8 124.0,322.9 124.5,321.5 125.0,316.6 125.5,312.0 126.0,316.9 126.5,313.1 127.0,319.6 127.5,320.1 128.0,321.5 128.4,319.2 128.9,312.9 129.4,293.8 129.9,287.8 130.4,287.5 130.9,275.0 131.4,278.9 131.9,283.6 132.4,288.1 132.9,284.1 133.4,290.3 133.9,283.4 134.4,281.3 134.9,289.7 135.4,284.5 135.9,293.2 136.4,293.1 136.9,286.6 137.4,288.9 137.9,289.5 138.4,291.0 138.9,296.3 139.4,288.5 139.9,292.4 140.4,293.5 140.9,298.3 141.4,312.6 141.9,316.4 142.4,315.5 142.9,316.0 143.4,323.2 143.9,318.5 144.4,321.6 144.9,315.9 145.4,321.7 145.9,314.9 146.4,316.7 146.9,315.7 147.4,315.6 147.9,317.3 148.4,313.9 148.9,313.0 149.4,314.2 149.9,319.9 150.4,314.3 150.9,314.4 151.4,318.4 151.9,317.7 152.4,318.5 152.9,311.3 153.4,320.3 153.9,318.2 154.4,316.2 154.9,317.4 155.4,300.0 155.9,285.6 156.4,286.2 156.9,279.7 157.4,287.0 157.9,280.8 158.4,285.7 158.9,286.9 159.4,290.5 159.9,286.2 160.4,292.7 160.9,288.4 161.4,290.8 161.9,287.6 162.4,294.8 162.9,289.8 163.4,294.4 163.9,292.6 164.4,296.9 164.9,296.2 165.4,296.9 165.9,292.6 166.4,293.1 166.9,301.0 167.4,311.7 167.9,319.8 168.4,321.4 168.9,320.8 169.4,325.5 169.9,326.3 170.4,321.5 170.9,322.4 171.4,315.9 171.9,318.9 172.4,316.8 172.9,323.3 173.4,322.9 173.9,312.4 174.4,320.8 174.9,319.2 175.4,320.2 175.9,312.6 176.4,318.4 176.9,319.7 177.4,318.5 177.9,315.7 178.4,319.9 178.9,315.3 179.4,313.5 179.9,319.4 180.4,318.5 180.9,318.9 181.4,297.1 181.9,287.2 182.4,279.7 182.9,275.3 183.4,283.3 183.9,286.1 184.4,287.2 184.9,281.5 185.4,284.1 185.9,286.3 186.4,291.7 186.9,286.3 187.4,294.8 187.9,294.9 188.4,290.0 188.9,286.7 189.4,283.4 189.9,293.6 190.4,283.4 190.9,281.5 191.4,289.7 191.9,286.1 192.4,294.0 192.9,310.2 193.4,313.2 193.9,313.7 194.4,314.7 194.9,315.3 195.4,329.4 195.9,323.0 196.4,330.9 196.9,325.7 197.4,327.0 197.9,323.7 198.4,320.8 198.9,320.2 199.4,317.1 199.9,318.9 200.4,323.1 200.9,324.0 201.4,320.3 201.9,322.3 202.4,320.5 202.9,314.6 203.4,313.8 203.9,313.2 204.4,314.3 204.9,322.7 205.4,319.3 205.9,318.5 206.4,318.0 206.9,309.8 207.4,297.2 207.9,294.2 208.4,281.0 208.9,280.3 209.4,289.1 209.9,284.1 210.4,289.2 210.9,288.1 211.4,289.6 211.9,285.3 212.4,288.2 212.9,292.8 213.4,290.9 213.9,295.9 214.4,299.7 214.9,298.6 215.4,290.3 215.9,290.1 216.4,291.9 216.9,283.5 217.4,294.6 217.9,287.6 218.4,298.3 218.9,302.0 219.4,315.1 219.9,318.1 220.4,315.0 220.9,321.7 221.4,315.3 221.9,321.5 222.4,328.9 222.9,318.2 223.4,322.2 223.9,321.3 224.4,317.7 224.9,320.3 225.4,317.1 225.9,315.0 226.4,318.8 226.9,314.4 227.4,313.6 227.9,320.8 228.4,321.7 228.9,321.6 229.4,320.6 229.9,320.2 230.4,315.1 230.9,316.5 231.4,315.1 231.9,312.0 232.4,309.0 232.9,311.6 233.4,293.0 233.9,282.3 234.4,285.3 234.9,275.6 235.4,280.8 235.9,286.0 236.4,289.6 236.9,285.8 237.4,283.6 237.9,287.8 238.4,291.0 238.9,289.2 239.4,287.8 239.9,290.8 240.4,292.3 240.9,296.9 241.4,296.7 241.9,295.2 242.4,292.7 242.9,292.8 243.4,293.5 243.9,285.5 244.4,290.8 244.9,302.7 245.4,313.5 245.9,320.0 246.4,316.6 246.9,322.7 247.4,318.8 247.9,319.9 248.4,323.6 248.9,321.9 249.4,321.5 249.9,324.5 250.4,324.4 250.9,318.1 251.4,315.6 251.9,312.1 252.4,315.3 252.9,312.7 253.4,313.3 253.9,320.5 254.4,312.7 254.9,321.5 255.4,314.2 255.9,314.8 256.4,321.9 256.9,314.4 257.4,319.1 257.9,312.9 258.4,315.3 258.9,317.4 259.4,290.6 259.9,294.4 260.4,292.4 260.9,290.9 261.4,284.6 261.9,287.9 262.4,282.2 262.9,288.3 263.4,285.8 263.9,288.7 264.4,293.5 264.9,290.6 265.4,294.1 265.9,291.7 266.4,297.0 266.9,291.4 267.4,295.2 267.9,299.2 268.4,303.6 268.9,297.5 269.4,293.5 269.9,300.8 270.4,298.4 270.9,307.3 271.4,313.2 271.9,315.0 272.4,322.4 272.9,328.9 273.4,319.4 273.9,325.0 274.4,321.2 274.9,322.0 275.4,317.5 275.9,322.5 276.4,315.2 276.9,319.0 277.4,314.4 277.9,320.0 278.4,314.6 278.9,318.6 279.4,311.6 279.9,312.4 280.4,312.2 280.9,313.6 281.4,318.8 281.9,321.7 282.4,322.4 282.9,320.6 283.4,319.1 283.9,317.7 284.4,316.2 284.9,322.1 285.4,310.1 285.9,295.6 286.4,296.9 286.9,289.4 287.4,294.8 287.9,290.8 288.4,300.8 288.9,300.8 289.4,294.7 289.9,292.4 290.4,289.5 290.9,294.8 291.4,293.1 291.9,293.3 292.4,298.3 292.9,291.7 293.4,295.5 293.9,292.3 294.4,297.4 294.9,298.5 295.4,303.8 295.9,292.5 296.4,300.5 296.9,316.0 297.4,318.8 297.9,326.1 298.4,322.8 298.9,323.3 299.4,319.5 299.9,323.9 299.9,341.7 299.4,336.6 298.9,340.7 298.4,335.6 297.9,336.1 297.4,339.6 296.9,324.8 296.4,330.2 295.9,317.3 295.4,314.9 294.9,317.0 294.4,312.2 293.9,319.5 293.4,317.3 292.9,310.4 292.4,319.9 291.9,310.8 291.4,311.9 290.9,319.3 290.4,315.4 289.9,312.3 289.4,317.9 288.9,312.0 288.4,309.0 287.9,311.2 287.4,312.4 286.9,308.1 286.4,311.8 285.9,310.1 285.4,328.6 284.9,336.1 284.4,328.3 283.9,330.6 283.4,334.2 282.9,333.7 282.4,342.2 281.9,341.8 281.4,340.9 280.9,334.3 280.4,333.9 279.9,338.7 279.4,331.3 278.9,332.9 278.4,341.3 277.9,338.7 277.4,331.8 276.9,335.7 276.4,336.3 275.9,342.8 275.4,335.5 274.9,334.4 274.4,342.1 273.9,335.6 273.4,335.8 272.9,337.9 272.4,338.4 271.9,334.6 271.4,330.5 270.9,330.0 270.4,326.1 269.9,319.1 269.4,318.5 268.9,310.0 268.4,313.1 267.9,309.0 267.4,311.9 266.9,310.9 266.4,317.1 265.9,309.3 265.4,315.0 264.9,312.3 264.4,306.4 263.9,304.8 263.4,311.1 262.9,309.2 262.4,305.2 261.9,299.7 261.4,311.3 260.9,308.4 260.4,304.6 259.9,309.1 259.4,325.3 258.9,333.5 258.4,330.0 257.9,332.6 257.4,338.1 256.9,332.1 256.4,336.9 255.9,333.2 255.4,333.7 254.9,336.3 254.4,332.6 253.9,332.0 253.4,329.8 252.9,336.7 252.4,331.1 251.9,330.7 251.4,335.4 250.9,338.8 250.4,336.0 249.9,338.1 249.4,341.9 248.9,335.8 248.4,343.3 247.9,334.4 247.4,337.3 246.9,343.9 246.4,333.4 245.9,332.7 245.4,338.4 244.9,328.8 244.4,313.4 243.9,308.1 243.4,306.7 242.9,310.0 242.4,313.5 241.9,315.8 241.4,312.8 240.9,308.4 240.4,306.4 239.9,309.9 239.4,304.0 238.9,299.4 238.4,300.2 237.9,311.0 237.4,304.4 236.9,305.1 236.4,311.2 235.9,299.9 235.4,293.1 234.9,290.4 234.4,300.4 233.9,314.2 233.4,327.1 232.9,327.3 232.4,337.5 231.9,334.4 231.4,329.5 230.9,337.0 230.4,338.9 229.9,339.8 229.4,338.7 228.9,340.6 228.4,340.7 227.9,336.9 227.4,331.5 226.9,335.3 226.4,333.9 225.9,328.8 225.4,335.6 224.9,342.3 224.4,333.3 223.9,333.6 223.4,335.2 222.9,337.6 222.4,340.3 221.9,337.9 221.4,342.7 220.9,342.5 220.4,334.4 219.9,337.2 219.4,332.7 218.9,321.8 218.4,313.9 217.9,314.5 217.4,309.1 216.9,309.4 216.4,306.6 215.9,308.9 215.4,302.9 214.9,314.8 214.4,311.1 213.9,310.1 213.4,308.4 212.9,301.1 212.4,301.6 211.9,311.2 211.4,306.6 210.9,306.1 210.4,308.2 209.9,303.5 209.4,307.5 208.9,302.6 208.4,304.2 207.9,304.0 207.4,324.4 206.9,335.1 206.4,336.0 205.9,331.8 205.4,334.2 204.9,337.7 204.4,339.5 203.9,336.9 203.4,332.5 202.9,331.2 202.4,341.6 201.9,339.0 201.4,332.4 200.9,337.7 200.4,338.0 199.9,343.2 199.4,330.4 198.9,332.8 198.4,339.9 197.9,344.6 197.4,337.7 196.9,338.2 196.4,345.6 195.9,347.0 195.4,341.8 194.9,345.3 194.4,333.2 193.9,334.9 193.4,329.0 192.9,327.1 192.4,309.3 191.9,302.1 191.4,310.5 190.9,304.3 190.4,303.9 189.9,304.2 189.4,304.3 188.9,307.7 188.4,311.7 187.9,313.4 187.4,310.3 186.9,300.9 186.4,304.0 185.9,301.6 185.4,300.7 184.9,307.1 184.4,299.0 183.9,300.0 183.4,302.7 182.9,290.5 182.4,295.1 181.9,307.3 181.4,329.1 180.9,337.2 180.4,333.1 179.9,337.7 179.4,333.3 178.9,340.2 178.4,336.5 177.9,335.9 177.4,334.8 176.9,329.2 176.4,336.8 175.9,334.2 175.4,329.8 174.9,331.0 174.4,336.9 173.9,331.4 173.4,339.7 172.9,335.0 172.4,336.7 171.9,338.3 171.4,338.9 170.9,339.5 170.4,345.5 169.9,344.4 169.4,344.9 168.9,339.6 168.4,341.1 167.9,331.6 167.4,334.4 166.9,324.0 166.4,312.1 165.9,312.0 165.4,315.9 164.9,310.5 164.4,303.5 163.9,304.2 163.4,313.7 162.9,314.2 162.4,315.0 161.9,310.0 161.4,309.3 160.9,306.7 160.4,303.9 159.9,304.4 159.4,313.2 158.9,314.1 158.4,306.3 157.9,298.7 157.4,305.4 156.9,304.8 156.4,297.8 155.9,305.5 155.4,323.7 154.9,334.1 154.4,333.1 153.9,338.0 153.4,333.7 152.9,332.3 152.4,333.2 151.9,328.7 151.4,333.6 150.9,341.2 150.4,335.1 149.9,343.3 149.4,338.3 148.9,340.2 148.4,335.6 147.9,334.1 147.4,334.2 146.9,337.3 146.4,332.0 145.9,332.4 145.4,333.8 144.9,343.2 144.4,336.5 143.9,345.1 143.4,341.9 142.9,344.0 142.4,333.8 141.9,330.4 141.4,332.9 140.9,324.4 140.4,316.1 139.9,315.2 139.4,313.9 138.9,314.6 138.4,305.1 137.9,310.2 137.4,308.4 136.9,297.5 136.4,307.2 135.9,308.4 135.4,303.7 134.9,306.9 134.4,303.0 133.9,303.8 133.4,301.8 132.9,300.5 132.4,304.4 131.9,306.6 131.4,294.4 130.9,300.0 130.4,300.9 129.9,301.0 129.4,327.6 128.9,334.7 128.4,335.6 128.0,335.9 127.5,332.9 127.0,329.8 126.5,334.0 126.0,330.6 125.5,337.8 125.0,334.0 124.5,332.3 124.0,331.7 123.5,339.0 123.0,335.4 122.5,333.5 122.0,335.8 121.5,336.4 121.0,331.1 120.5,344.6 120.0,336.7 119.5,338.7 119.0,342.1 118.5,339.6 118.0,336.3 117.5,334.8 117.0,330.9 116.5,337.0 116.0,342.6 115.5,336.4 115.0,330.9 114.5,315.9 114.0,309.5 113.5,310.8 113.0,308.1 112.5,308.4 112.0,316.5 111.5,309.9 111.0,316.6 110.5,301.3 110.0,311.2 109.5,309.3 109.0,305.2 108.5,308.7 108.0,299.3 107.5,310.5 107.0,307.9 106.5,311.7 106.0,305.4 105.5,308.8 105.0,308.5 104.5,302.2 104.0,313.0 103.5,331.7 103.0,340.4 102.5,334.4 102.0,340.6 101.5,332.0 101.0,338.6 100.5,336.3 100.0,338.6 99.5,338.3 99.0,336.0 98.5,337.6 98.0,331.7 97.5,339.9 97.0,340.9 96.5,339.8 96.0,336.3 95.5,340.2 95.0,337.6 94.5,332.7 94.0,336.9 93.5,334.6 93.0,336.4 92.5,342.4 92.0,338.1 91.5,334.4 91.0,339.0 90.5,340.4 90.0,334.7 89.5,339.6 89.0,332.2 88.5,312.1 88.0,313.7 87.5,307.5 87.0,305.5 86.5,307.1 86.0,306.8 85.5,309.3 85.0,309.9 84.5,306.4 84.0,308.7 83.5,311.1 83.0,309.1 82.5,308.4 82.0,314.3 81.5,306.3 81.0,305.6 80.5,306.3 80.0,302.6 79.5,302.1 79.0,311.4 78.5,302.4 78.0,314.6 77.5,337.1 77.0,339.8 76.5,336.4 76.0,333.8 75.5,334.4 75.0,334.5 74.5,336.8 74.0,331.5 73.5,331.3 73.0,331.6 72.5,337.1 72.0,330.6 71.5,337.8 71.0,329.9 70.5,335.4 70.0,344.2 69.5,337.5 69.0,342.5 68.5,340.7 68.0,340.7 67.5,335.2 67.0,331.9 66.5,336.3 66.0,340.7 65.5,337.8 65.0,332.7 64.5,338.5 64.0,341.2 63.5,333.3 63.0,325.4 62.5,313.8 62.0,308.0 61.5,311.3 61.0,304.5 60.5,307.6 60.0,308.3 59.5,307.7 59.0,313.1 58.5,314.6 58.0,314.0 57.5,310.1 57.0,312.6 56.5,305.8 56.0,306.9 55.5,307.4 55.0,304.3 54.5,303.6 54.0,301.2 53.5,294.3 53.0,294.8 52.5,304.2 52.0,307.3 51.5,321.8 51.0,329.9 50.5,337.8 50.0,330.1 49.5,336.8 49.0,330.9 48.5,332.9 48.0,332.0 47.5,337.7 47.0,341.7 46.5,329.2 46.0,332.4 45.5,329.7 45.0,329.8 44.5,331.7 44.0,336.7 43.5,333.4 43.0,335.7 42.5,334.2 42.0,333.4 41.5,332.3 41.0,332.5 40.5,337.9" fill="#adadad" stroke="none"/>
<polygon points="40.5,321.8 41.0,320.5 41.5,320.0 42.0,320.5 42.5,318.4 43.0,323.8 43.5,324.0 44.0,324.8 44.5,324.1 45.0,324.7 45.5,320.6 46.0,319.8 46.5,318.6 47.0,325.3 47.5,322.9 48.0,324.1 48.5,322.1 49.0,318.2 49.5,320.5 50.0,319.3 50.5,318.4 51.0,320.8 51.5,302.7 52.0,290.0 52.5,288.9 53.0,288.3 53.5,287.0 54.0,289.2 54.5,290.4 55.0,294.0 55.5,295.4 56.0,295.4 56.5,296.7 57.0,297.9 57.5,299.0 58.0,296.6 58.5,295.8 59.0,297.2 59.5,296.1 60.0,296.3 60.5,297.1 61.0,292.3 61.5,299.3 62.0,296.0 62.5,294.6 63.0,306.8 63.5,319.2 64.0,321.8 64.5,326.9 65.0,320.0 65.5,322.0 66.0,328.3 66.5,326.2 67.0,325.0 67.5,324.8 68.0,324.2 68.5,323.5 69.0,324.5 69.5,323.8 70.0,328.6 70.5,323.6 71.0,319.7 71.5,320.5 72.0,320.5 72.5,320.8 73.0,320.6 73.5,320.1 74.0,319.7 74.5,319.1 75.0,320.3 75.5,320.2 76.0,317.0 76.5,324.1 77.0,325.4 77.5,304.3 78.0,296.6 78.5,292.1 79.0,292.9 79.5,292.6 80.0,293.6 80.5,293.6 81.0,293.4 81.5,291.0 82.0,293.7 82.5,295.9 83.0,296.0 83.5,295.7 84.0,297.6 84.5,297.7 85.0,295.5 85.5,297.0 86.0,295.9 86.5,294.6 87.0,295.5 87.5,295.0 88.0,295.6 88.5,295.8 89.0,311.0 89.5,323.7 90.0,324.6 90.5,325.4 91.0,322.4 91.5,325.0 92.0,326.4 92.5,326.9 93.0,323.0 93.5,324.9 94.0,325.2 94.5,324.1 95.0,322.3 95.5,320.3 96.0,318.2 96.5,320.7 97.0,322.6 97.5,320.9 98.0,321.6 98.5,325.8 99.0,325.4 99.5,320.6 100.0,319.0 100.5,321.5 101.0,323.0 101.5,326.7 102.0,323.7 102.5,318.7 103.0,323.1 103.5,306.9 104.0,292.4 104.5,293.5 105.0,293.6 105.5,294.7 106.0,292.8 106.5,293.7 107.0,295.9 107.5,295.5 108.0,292.0 108.5,295.2 109.0,294.1 109.5,297.8 110.0,294.0 110.5,294.2 111.0,298.5 111.5,297.1 112.0,298.5 112.5,296.6 113.0,299.4 113.5,302.7 114.0,298.7 114.5,299.4 115.0,307.3 115.5,319.7 116.0,324.2 116.5,324.7 117.0,324.2 117.5,326.0 118.0,323.1 118.5,325.6 119.0,320.2 119.5,326.0 120.0,328.4 120.5,327.7 121.0,323.3 121.5,324.5 122.0,323.3 122.5,320.8 123.0,320.2 123.5,324.0 124.0,324.6 124.5,324.3 125.0,323.3 125.5,318.4 126.0,320.8 126.5,320.6 127.0,322.4 127.5,322.9 128.0,324.7 128.4,323.0 128.9,319.6 129.4,297.1 129.9,290.6 130.4,289.2 130.9,282.5 131.4,285.0 131.9,287.5 132.4,291.1 132.9,289.5 133.4,293.4 133.9,289.3 134.4,288.2 134.9,293.4 135.4,292.0 135.9,295.9 136.4,295.4 136.9,291.2 137.4,291.5 137.9,293.7 138.4,296.1 138.9,298.6 139.4,294.6 139.9,297.2 140.4,298.2 140.9,305.8 141.4,320.0 141.9,321.2 142.4,322.2 142.9,323.5 143.4,327.5 143.9,326.0 144.4,325.3 144.9,323.4 145.4,325.2 145.9,322.4 146.4,323.5 146.9,323.1 147.4,323.1 147.9,322.2 148.4,321.3 148.9,320.5 149.4,321.6 149.9,326.1 150.4,321.7 150.9,321.9 151.4,322.7 151.9,322.4 152.4,321.2 152.9,317.6 153.4,322.1 153.9,321.0 154.4,320.6 154.9,321.5 155.4,303.8 155.9,291.1 156.4,290.9 156.9,286.9 157.4,289.5 157.9,286.5 158.4,292.0 158.9,294.3 159.4,295.8 159.9,293.1 160.4,296.4 160.9,295.9 161.4,296.4 161.9,295.1 162.4,298.8 162.9,295.6 163.4,296.9 163.9,296.1 164.4,298.4 164.9,299.4 165.4,300.4 165.9,298.2 166.4,300.6 166.9,308.5 167.4,318.0 167.9,323.3 168.4,326.4 168.9,326.4 169.4,328.8 169.9,328.7 170.4,327.1 170.9,326.9 171.4,322.9 171.9,323.4 172.4,322.7 172.9,328.2 173.4,327.0 173.9,319.8 174.4,323.5 174.9,322.4 175.4,322.4 175.9,320.0 176.4,321.0 176.9,321.2 177.4,322.8 177.9,323.1 178.4,324.4 178.9,321.5 179.4,320.9 179.9,322.6 180.4,322.3 180.9,322.3 181.4,299.1 181.9,292.0 182.4,284.6 182.9,282.7 183.4,286.6 183.9,289.7 184.4,291.3 184.9,288.2 185.4,289.6 185.9,291.4 186.4,293.7 186.9,291.5 187.4,296.3 187.9,297.5 188.4,295.1 188.9,291.9 189.4,290.9 189.9,294.5 190.4,290.8 190.9,289.0 191.4,292.3 191.9,291.8 192.4,295.5 192.9,310.4 193.4,320.6 193.9,320.1 194.4,322.2 194.9,322.8 195.4,330.5 195.9,329.1 196.4,332.7 196.9,328.6 197.4,328.5 197.9,327.8 198.4,325.7 198.9,324.4 199.4,322.4 199.9,324.9 200.4,325.5 200.9,325.9 201.4,324.6 201.9,324.3 202.4,324.7 202.9,322.1 203.4,318.8 203.9,318.3 204.4,321.6 204.9,325.2 205.4,323.6 205.9,322.5 206.4,321.2 206.9,317.3 207.4,301.6 207.9,296.4 208.4,288.4 208.9,287.8 209.4,293.9 209.9,291.6 210.4,292.6 210.9,294.8 211.4,293.1 211.9,292.2 212.4,293.8 212.9,295.2 213.4,296.5 213.9,300.0 214.4,301.9 214.9,300.6 215.4,295.3 215.9,294.7 216.4,294.8 216.9,291.0 217.4,296.8 217.9,295.1 218.4,300.4 218.9,308.0 219.4,318.0 219.9,320.7 220.4,321.9 220.9,325.1 221.4,322.8 221.9,325.7 222.4,330.1 222.9,325.7 223.4,324.6 223.9,324.9 224.4,323.0 224.9,324.5 225.4,321.5 225.9,319.6 226.4,321.0 226.9,320.4 227.4,320.5 227.9,324.4 228.4,323.8 228.9,324.3 229.4,325.2 229.9,324.3 230.4,319.6 230.9,320.7 231.4,320.7 231.9,319.5 232.4,316.5 232.9,319.1 233.4,298.5 233.9,289.2 234.4,287.4 234.9,282.2 235.4,284.9 235.9,289.4 236.4,293.3 236.9,293.3 237.4,291.0 237.9,292.8 238.4,294.4 238.9,294.1 239.4,293.2 239.9,294.4 240.4,297.4 240.9,300.0 241.4,299.8 241.9,298.5 242.4,296.2 242.9,295.9 243.4,296.7 243.9,293.0 244.4,295.0 244.9,310.2 245.4,319.8 245.9,324.0 246.4,323.9 246.9,328.0 247.4,325.4 247.9,324.3 248.4,325.5 248.9,326.5 249.4,325.4 249.9,327.4 250.4,327.7 250.9,322.0 251.4,319.1 251.9,317.3 252.4,320.1 252.9,320.2 253.4,320.6 253.9,323.1 254.4,320.1 254.9,324.9 255.4,321.0 255.9,322.3 256.4,325.3 256.9,321.0 257.4,322.3 257.9,319.5 258.4,320.1 258.9,320.6 259.4,298.1 259.9,298.3 260.4,296.8 260.9,295.2 261.4,292.1 261.9,292.5 262.4,289.7 262.9,293.5 263.4,293.3 263.9,295.7 264.4,298.2 264.9,296.8 265.4,298.3 265.9,298.2 266.4,300.8 266.9,297.8 267.4,298.6 267.9,301.0 268.4,306.5 268.9,301.6 269.4,299.9 269.9,303.3 270.4,304.2 270.9,314.8 271.4,320.1 271.9,322.5 272.4,326.2 272.9,330.2 273.4,325.8 273.9,327.7 274.4,326.0 274.9,326.8 275.4,325.0 275.9,326.7 276.4,322.6 276.9,324.4 277.4,320.9 277.9,323.2 278.4,322.1 278.9,323.7 279.4,319.1 279.9,319.0 280.4,319.7 280.9,321.1 281.4,323.6 281.9,325.0 282.4,325.4 282.9,323.2 283.4,322.0 283.9,320.2 284.4,321.3 284.9,326.1 285.4,310.5 285.9,299.6 286.4,300.3 286.9,296.9 287.4,297.2 287.9,296.6 288.4,303.1 288.9,302.8 289.4,300.2 289.9,298.3 290.4,296.9 290.9,300.5 291.4,299.1 291.9,300.4 292.4,302.5 292.9,299.2 293.4,300.8 293.9,299.8 294.4,301.8 294.9,303.5 295.4,304.9 295.9,300.0 296.4,305.7 296.9,319.1 297.4,323.1 297.9,327.0 298.4,325.4 298.9,328.3 299.4,325.0 299.9,325.6 299.9,334.3 299.4,333.2 298.9,336.0 298.4,332.7 297.9,332.4 297.4,332.1 296.9,324.3 296.4,322.7 295.9,310.7 295.4,311.5 294.9,311.9 294.4,309.0 293.9,312.0 293.4,311.5 292.9,307.5 292.4,312.5 291.9,308.0 291.4,307.8 290.9,311.9 290.4,310.1 289.9,306.8 289.4,310.5 288.9,308.5 288.4,306.9 287.9,308.0 287.4,304.9 286.9,305.3 286.4,306.8 285.9,308.1 285.4,326.1 284.9,332.7 284.4,326.6 283.9,326.4 283.4,327.7 282.9,330.8 282.4,334.7 281.9,334.4 281.4,333.9 280.9,330.8 280.4,329.6 279.9,331.2 279.4,328.0 278.9,330.2 278.4,333.8 277.9,331.2 277.4,329.2 276.9,332.0 276.4,332.6 275.9,336.8 275.4,333.9 274.9,331.7 274.4,335.6 273.9,333.1 273.4,332.9 272.9,334.5 272.4,334.2 271.9,331.8 271.4,327.7 270.9,325.4 270.4,322.3 269.9,311.7 269.4,311.9 268.9,308.4 268.4,310.5 267.9,307.4 267.4,306.9 266.9,307.2 266.4,309.6 265.9,306.2 265.4,307.5 264.9,306.5 264.4,304.0 263.9,302.6 263.4,304.1 262.9,302.9 262.4,300.8 261.9,297.9 261.4,303.8 260.9,303.4 260.4,302.6 259.9,304.8 259.4,322.8 258.9,328.1 258.4,327.3 257.9,327.7 257.4,330.6 256.9,328.5 256.4,333.3 255.9,329.4 255.4,329.9 254.9,331.8 254.4,329.3 253.9,328.8 253.4,328.0 252.9,331.9 252.4,327.9 251.9,326.6 251.4,327.9 250.9,331.6 250.4,333.7 249.9,334.8 249.4,334.4 248.9,333.7 248.4,336.9 247.9,330.9 247.4,335.0 246.9,337.5 246.4,331.4 245.9,330.9 245.4,331.0 244.9,323.8 244.4,312.6 243.9,302.8 243.4,303.1 242.9,304.9 242.4,306.1 241.9,308.4 241.4,307.3 240.9,305.9 240.4,302.9 239.9,303.3 239.4,300.8 238.9,298.2 238.4,299.7 237.9,304.1 237.4,300.0 236.9,302.4 236.4,303.8 235.9,296.9 235.4,290.3 234.9,289.7 234.4,294.6 233.9,306.8 233.4,322.1 232.9,326.4 232.4,330.0 231.9,329.0 231.4,326.6 230.9,330.4 230.4,331.4 229.9,333.5 229.4,333.4 228.9,333.1 228.4,333.2 227.9,331.2 227.4,328.5 226.9,330.4 226.4,328.9 225.9,326.6 225.4,330.8 224.9,334.9 224.4,330.2 223.9,329.7 223.4,332.1 222.9,333.9 222.4,336.0 221.9,334.2 221.4,335.9 220.9,335.0 220.4,330.8 219.9,330.4 219.4,325.2 218.9,320.0 218.4,311.2 217.9,307.0 217.4,303.6 216.9,301.9 216.4,301.9 215.9,303.3 215.4,300.9 214.9,307.9 214.4,307.4 213.9,306.9 213.4,303.9 212.9,299.4 212.4,300.4 211.9,303.8 211.4,302.4 210.9,302.7 210.4,300.9 209.9,300.5 209.4,302.2 208.9,300.0 208.4,299.3 207.9,304.3 207.4,325.2 206.9,329.5 206.4,330.5 205.9,329.0 205.4,330.9 204.9,333.1 204.4,332.7 203.9,330.3 203.4,328.3 202.9,328.9 202.4,334.1 201.9,331.6 201.4,329.6 200.9,331.5 200.4,332.5 199.9,335.7 199.4,328.8 198.9,330.2 198.4,334.2 197.9,337.2 197.4,333.7 196.9,335.2 196.4,339.4 195.9,339.6 195.4,336.2 194.9,337.8 194.4,330.6 193.9,329.8 193.4,328.0 192.9,323.2 192.4,308.6 191.9,298.7 191.4,303.0 190.9,301.0 190.4,300.8 189.9,300.9 189.4,299.4 188.9,301.5 188.4,304.2 187.9,305.9 187.4,303.0 186.9,298.1 186.4,300.2 185.9,299.0 185.4,298.0 184.9,300.2 184.4,296.7 183.9,296.6 183.4,297.0 182.9,289.4 182.4,291.5 181.9,299.8 181.4,324.6 180.9,330.2 180.4,328.8 179.9,330.9 179.4,330.4 178.9,333.5 178.4,331.5 177.9,332.1 177.4,331.2 176.9,327.3 176.4,330.9 175.9,330.4 175.4,328.0 174.9,328.7 174.4,331.2 173.9,329.2 173.4,333.7 172.9,333.5 172.4,332.0 171.9,332.2 171.4,333.3 170.9,335.1 170.4,338.1 169.9,336.9 169.4,337.5 168.9,335.0 168.4,335.6 167.9,330.1 167.4,328.4 166.9,322.5 166.4,311.4 165.9,306.4 165.4,309.1 164.9,306.8 164.4,302.5 163.9,301.6 163.4,306.6 162.9,306.7 162.4,307.5 161.9,306.2 161.4,305.4 160.9,303.1 160.4,301.5 159.9,301.7 159.4,305.7 158.9,306.6 158.4,300.2 157.9,295.4 157.4,297.9 156.9,299.0 156.4,295.9 155.9,303.7 155.4,324.2 154.9,329.2 154.4,328.4 153.9,330.5 153.4,328.4 152.9,327.8 152.4,328.9 151.9,327.9 151.4,329.5 150.9,333.8 150.4,332.2 149.9,335.9 149.4,333.1 148.9,332.7 148.4,331.5 147.9,329.4 147.4,331.0 146.9,332.8 146.4,330.2 145.9,330.8 145.4,330.6 144.9,335.7 144.4,334.1 143.9,337.6 143.4,335.5 142.9,336.9 142.4,330.0 141.9,327.6 141.4,328.9 140.9,324.0 140.4,313.6 139.9,307.7 139.4,306.5 138.9,307.7 138.4,302.9 137.9,302.7 137.4,300.9 136.9,297.3 136.4,302.1 135.9,303.2 135.4,301.0 134.9,300.4 134.4,297.9 133.9,298.9 133.4,298.3 132.9,297.0 132.4,298.0 131.9,299.2 131.4,291.2 130.9,295.0 130.4,295.4 129.9,298.4 129.4,325.4 128.9,328.5 128.4,330.7 128.0,331.5 127.5,328.6 127.0,327.3 126.5,329.8 126.0,328.2 125.5,330.4 125.0,330.8 124.5,330.0 124.0,329.0 123.5,332.8 123.0,330.9 122.5,329.3 122.0,331.6 121.5,331.3 121.0,330.1 120.5,337.1 120.0,334.0 119.5,335.1 119.0,334.6 118.5,332.2 118.0,332.0 117.5,331.9 117.0,329.5 116.5,331.5 116.0,335.1 115.5,330.5 115.0,323.4 114.5,311.9 114.0,305.6 113.5,306.5 113.0,304.3 112.5,304.5 112.0,309.0 111.5,306.0 111.0,309.1 110.5,300.5 110.0,303.8 109.5,304.6 109.0,301.9 108.5,301.9 108.0,298.0 107.5,303.0 107.0,304.0 106.5,304.3 106.0,301.3 105.5,304.0 105.0,303.0 104.5,299.2 104.0,305.6 103.5,329.4 103.0,333.1 102.5,328.7 102.0,333.1 101.5,330.4 101.0,332.4 100.5,331.0 100.0,331.1 99.5,332.7 99.0,331.7 98.5,333.3 98.0,329.5 97.5,332.5 97.0,333.4 96.5,333.2 96.0,331.1 95.5,332.7 95.0,330.5 94.5,330.2 94.0,332.2 93.5,331.8 93.0,332.7 92.5,335.5 92.0,333.7 91.5,332.4 91.0,333.8 90.5,333.0 90.0,331.4 89.5,332.2 89.0,324.8 88.5,311.3 88.0,306.2 87.5,303.8 87.0,301.9 86.5,302.0 86.0,303.8 85.5,304.9 85.0,302.9 84.5,303.0 84.0,305.0 83.5,305.0 83.0,305.4 82.5,305.2 82.0,306.8 81.5,301.8 81.0,302.2 80.5,302.4 80.0,299.0 79.5,299.2 79.0,303.9 78.5,300.2 78.0,307.1 77.5,331.9 77.0,334.1 76.5,330.7 76.0,328.3 75.5,330.1 75.0,330.0 74.5,329.4 74.0,328.8 73.5,328.2 73.0,328.0 72.5,329.6 72.0,327.7 71.5,330.5 71.0,327.9 70.5,332.9 70.0,336.7 69.5,332.7 69.0,335.2 68.5,336.0 68.0,334.8 67.5,331.0 67.0,329.5 66.5,333.5 66.0,336.3 65.5,334.0 65.0,329.3 64.5,333.8 64.0,334.8 63.5,325.8 63.0,322.2 62.5,306.3 62.0,304.4 61.5,306.1 61.0,302.4 60.5,303.7 60.0,303.5 59.5,305.1 59.0,307.7 58.5,307.1 58.0,306.5 57.5,305.6 57.0,306.1 56.5,303.6 56.0,302.7 55.5,302.3 55.0,300.1 54.5,298.5 54.0,297.3 53.5,293.9 53.0,293.7 52.5,298.1 52.0,303.5 51.5,322.1 51.0,327.3 50.5,330.3 50.0,326.4 49.5,329.9 49.0,327.4 48.5,329.6 48.0,329.8 47.5,332.4 47.0,334.9 46.5,325.8 46.0,328.1 45.5,327.9 45.0,328.0 44.5,328.6 44.0,331.2 43.5,329.2 43.0,330.2 42.5,329.3 42.0,329.0 41.5,328.2 41.0,327.8 40.5,330.4" fill="#7a7a7a" stroke="none"/>
<line x1="40.20" y1="269.30" x2="40.20" y2="351.80" stroke="#9a9a9a" stroke-width="0.9"/>
<line x1="40.20" y1="351.80" x2="300.00" y2="351.80" stroke="#333" stroke-width="0.9"/>
<line x1="37.20" y1="351.80" x2="40.20" y2="351.80" stroke="#333" stroke-width="0.8"/>
<text x="31.70" y="357.80" font-size="10.3" text-anchor="end" fill="#231f20" color="#231f20">−10</text>
<line x1="37.20" y1="324.30" x2="40.20" y2="324.30" stroke="#333" stroke-width="0.8"/>
<text x="31.70" y="330.30" font-size="10.3" text-anchor="end" fill="#231f20" color="#231f20">0</text>
<line x1="37.20" y1="296.80" x2="40.20" y2="296.80" stroke="#333" stroke-width="0.8"/>
<text x="31.70" y="302.80" font-size="10.3" text-anchor="end" fill="#231f20" color="#231f20">10</text>
<line x1="37.20" y1="269.30" x2="40.20" y2="269.30" stroke="#333" stroke-width="0.8"/>
<text x="31.70" y="275.30" font-size="10.3" text-anchor="end" fill="#231f20" color="#231f20">20</text>
<line x1="40.20" y1="351.80" x2="40.20" y2="354.80" stroke="#333" stroke-width="0.8"/>
<text x="45.20" y="363.70" font-size="10.3" text-anchor="end" fill="#231f20" color="#231f20" transform="rotate(-45 45.20 363.70)">0</text>
<line x1="62.47" y1="351.80" x2="62.47" y2="354.80" stroke="#333" stroke-width="0.8"/>
<text x="67.47" y="363.70" font-size="10.3" text-anchor="end" fill="#231f20" color="#231f20" transform="rotate(-45 67.47 363.70)">60</text>
<line x1="84.74" y1="351.80" x2="84.74" y2="354.80" stroke="#333" stroke-width="0.8"/>
<text x="89.74" y="363.70" font-size="10.3" text-anchor="end" fill="#231f20" color="#231f20" transform="rotate(-45 89.74 363.70)">120</text>
<line x1="107.01" y1="351.80" x2="107.01" y2="354.80" stroke="#333" stroke-width="0.8"/>
<text x="112.01" y="363.70" font-size="10.3" text-anchor="end" fill="#231f20" color="#231f20" transform="rotate(-45 112.01 363.70)">180</text>
<line x1="129.27" y1="351.80" x2="129.27" y2="354.80" stroke="#333" stroke-width="0.8"/>
<text x="134.27" y="363.70" font-size="10.3" text-anchor="end" fill="#231f20" color="#231f20" transform="rotate(-45 134.27 363.70)">240</text>
<line x1="151.54" y1="351.80" x2="151.54" y2="354.80" stroke="#333" stroke-width="0.8"/>
<text x="156.54" y="363.70" font-size="10.3" text-anchor="end" fill="#231f20" color="#231f20" transform="rotate(-45 156.54 363.70)">300</text>
<line x1="173.81" y1="351.80" x2="173.81" y2="354.80" stroke="#333" stroke-width="0.8"/>
<text x="178.81" y="363.70" font-size="10.3" text-anchor="end" fill="#231f20" color="#231f20" transform="rotate(-45 178.81 363.70)">360</text>
<line x1="196.08" y1="351.80" x2="196.08" y2="354.80" stroke="#333" stroke-width="0.8"/>
<text x="201.08" y="363.70" font-size="10.3" text-anchor="end" fill="#231f20" color="#231f20" transform="rotate(-45 201.08 363.70)">420</text>
<line x1="218.35" y1="351.80" x2="218.35" y2="354.80" stroke="#333" stroke-width="0.8"/>
<text x="223.35" y="363.70" font-size="10.3" text-anchor="end" fill="#231f20" color="#231f20" transform="rotate(-45 223.35 363.70)">480</text>
<line x1="240.62" y1="351.80" x2="240.62" y2="354.80" stroke="#333" stroke-width="0.8"/>
<text x="245.62" y="363.70" font-size="10.3" text-anchor="end" fill="#231f20" color="#231f20" transform="rotate(-45 245.62 363.70)">540</text>
<line x1="262.89" y1="351.80" x2="262.89" y2="354.80" stroke="#333" stroke-width="0.8"/>
<text x="267.89" y="363.70" font-size="10.3" text-anchor="end" fill="#231f20" color="#231f20" transform="rotate(-45 267.89 363.70)">600</text>
<line x1="285.15" y1="351.80" x2="285.15" y2="354.80" stroke="#333" stroke-width="0.8"/>
<text x="290.15" y="363.70" font-size="10.3" text-anchor="end" fill="#231f20" color="#231f20" transform="rotate(-45 290.15 363.70)">660</text>
<line x1="51.33" y1="351.80" x2="51.33" y2="353.60" stroke="#333" stroke-width="0.7"/>
<line x1="73.60" y1="351.80" x2="73.60" y2="353.60" stroke="#333" stroke-width="0.7"/>
<line x1="95.87" y1="351.80" x2="95.87" y2="353.60" stroke="#333" stroke-width="0.7"/>
<line x1="118.14" y1="351.80" x2="118.14" y2="353.60" stroke="#333" stroke-width="0.7"/>
<line x1="140.41" y1="351.80" x2="140.41" y2="353.60" stroke="#333" stroke-width="0.7"/>
<line x1="162.68" y1="351.80" x2="162.68" y2="353.60" stroke="#333" stroke-width="0.7"/>
<line x1="184.95" y1="351.80" x2="184.95" y2="353.60" stroke="#333" stroke-width="0.7"/>
<line x1="207.21" y1="351.80" x2="207.21" y2="353.60" stroke="#333" stroke-width="0.7"/>
<line x1="229.48" y1="351.80" x2="229.48" y2="353.60" stroke="#333" stroke-width="0.7"/>
<line x1="251.75" y1="351.80" x2="251.75" y2="353.60" stroke="#333" stroke-width="0.7"/>
<line x1="274.02" y1="351.80" x2="274.02" y2="353.60" stroke="#333" stroke-width="0.7"/>
<line x1="296.29" y1="351.80" x2="296.29" y2="353.60" stroke="#333" stroke-width="0.7"/>
<text x="8.80" y="309.95" font-size="10.5" text-anchor="middle" fill="#231f20" color="#231f20" transform="rotate(-90 8.80 309.95)">ΔCBV (%)</text>
<line x1="46.00" y1="256.90" x2="56.00" y2="256.90" stroke="#909090" stroke-width="1.8"/>
<text x="60.50" y="260.70" font-size="10.4" text-anchor="start" fill="#231f20" color="#231f20">Control</text>
<text x="170.20" y="395.80" font-size="11.45" text-anchor="middle" fill="#231f20" color="#231f20">Time (s)</text>
<rect x="51.33" y="428.30" width="11.13" height="81.75" fill="#e3f3fc"/>
<rect x="77.31" y="428.30" width="11.13" height="81.75" fill="#e3f3fc"/>
<rect x="103.29" y="428.30" width="11.13" height="81.75" fill="#e3f3fc"/>
<rect x="129.27" y="428.30" width="11.13" height="81.75" fill="#e3f3fc"/>
<rect x="155.25" y="428.30" width="11.13" height="81.75" fill="#e3f3fc"/>
<rect x="181.23" y="428.30" width="11.13" height="81.75" fill="#e3f3fc"/>
<rect x="207.21" y="428.30" width="11.13" height="81.75" fill="#e3f3fc"/>
<rect x="233.19" y="428.30" width="11.13" height="81.75" fill="#e3f3fc"/>
<rect x="259.17" y="428.30" width="11.13" height="81.75" fill="#e3f3fc"/>
<rect x="285.15" y="428.30" width="11.13" height="81.75" fill="#e3f3fc"/>
<line x1="40.20" y1="428.30" x2="300.00" y2="428.30" stroke="#444" stroke-width="0.8"/>
<line x1="40.20" y1="455.55" x2="300.00" y2="455.55" stroke="#333" stroke-width="0.7" stroke-dasharray="1 1.2"/>
<line x1="62.47" y1="428.30" x2="62.47" y2="510.05" stroke="#000" stroke-width="0.9" stroke-dasharray="1 1"/>
<line x1="84.74" y1="428.30" x2="84.74" y2="510.05" stroke="#000" stroke-width="0.9" stroke-dasharray="1 1"/>
<line x1="107.01" y1="428.30" x2="107.01" y2="510.05" stroke="#000" stroke-width="0.9" stroke-dasharray="1 1"/>
<line x1="129.27" y1="428.30" x2="129.27" y2="510.05" stroke="#000" stroke-width="0.9" stroke-dasharray="1 1"/>
<line x1="151.54" y1="428.30" x2="151.54" y2="510.05" stroke="#000" stroke-width="0.9" stroke-dasharray="1 1"/>
<line x1="173.81" y1="428.30" x2="173.81" y2="510.05" stroke="#000" stroke-width="0.9" stroke-dasharray="1 1"/>
<line x1="196.08" y1="428.30" x2="196.08" y2="510.05" stroke="#000" stroke-width="0.9" stroke-dasharray="1 1"/>
<line x1="218.35" y1="428.30" x2="218.35" y2="510.05" stroke="#000" stroke-width="0.9" stroke-dasharray="1 1"/>
<line x1="240.62" y1="428.30" x2="240.62" y2="510.05" stroke="#000" stroke-width="0.9" stroke-dasharray="1 1"/>
<line x1="262.89" y1="428.30" x2="262.89" y2="510.05" stroke="#000" stroke-width="0.9" stroke-dasharray="1 1"/>
<line x1="285.15" y1="428.30" x2="285.15" y2="510.05" stroke="#000" stroke-width="0.9" stroke-dasharray="1 1"/>
<line x1="40.20" y1="482.80" x2="300.00" y2="482.80" stroke="#000" stroke-width="1.7" stroke-dasharray="0 3.5" stroke-linecap="round"/>
<line x1="40.20" y1="482.80" x2="300.00" y2="482.80" stroke="#000" stroke-width="0.7" stroke-dasharray="0.8 0.95"/>
<polygon points="40.5,476.0 41.0,473.0 41.5,477.2 42.0,478.2 42.5,480.5 43.0,476.8 43.5,471.4 44.0,478.5 44.5,478.8 45.0,475.0 45.5,475.1 46.0,481.2 46.5,477.0 47.0,475.8 47.5,472.2 48.0,479.7 48.5,476.5 49.0,470.8 49.5,479.5 50.0,473.0 50.5,479.7 51.0,476.7 51.5,473.6 52.0,472.0 52.5,456.8 53.0,454.9 53.5,449.1 54.0,447.9 54.5,445.1 55.0,446.0 55.5,448.8 56.0,447.5 56.5,449.0 57.0,451.4 57.5,446.8 58.0,446.9 58.5,448.8 59.0,448.8 59.5,451.0 60.0,447.1 60.5,450.2 61.0,444.2 61.5,441.8 62.0,444.7 62.5,446.4 63.0,454.0 63.5,467.7 64.0,474.0 64.5,476.6 65.0,476.6 65.5,471.3 66.0,473.3 66.5,477.2 67.0,476.9 67.5,480.8 68.0,483.0 68.5,482.5 69.0,480.5 69.5,481.8 70.0,478.0 70.5,473.3 71.0,476.3 71.5,476.7 72.0,475.6 72.5,479.0 73.0,473.1 73.5,472.6 74.0,471.0 74.5,473.3 75.0,472.0 75.5,476.2 76.0,469.8 76.5,470.7 77.0,475.6 77.5,471.8 78.0,469.6 78.5,466.2 79.0,453.6 79.5,449.8 80.0,455.2 80.5,450.8 81.0,452.4 81.5,450.7 82.0,445.0 82.5,441.0 83.0,448.2 83.5,453.8 84.0,453.6 84.5,455.7 85.0,447.4 85.5,451.8 86.0,446.4 86.5,443.9 87.0,454.3 87.5,448.9 88.0,447.8 88.5,446.2 89.0,456.5 89.5,463.4 90.0,473.0 90.5,474.6 91.0,473.4 91.5,476.7 92.0,477.7 92.5,477.0 93.0,467.2 93.5,473.9 94.0,481.9 94.5,476.8 95.0,479.0 95.5,476.3 96.0,479.1 96.5,477.9 97.0,480.6 97.5,478.8 98.0,479.4 98.5,478.0 99.0,476.8 99.5,477.4 100.0,474.7 100.5,478.0 101.0,470.8 101.5,471.6 102.0,474.6 102.5,476.4 103.0,480.2 103.5,468.7 104.0,462.2 104.5,457.3 105.0,453.9 105.5,452.4 106.0,452.9 106.5,448.0 107.0,444.1 107.5,444.5 108.0,446.0 108.5,444.9 109.0,447.4 109.5,448.8 110.0,448.3 110.5,450.6 111.0,451.1 111.5,450.7 112.0,449.7 112.5,449.2 113.0,447.4 113.5,450.2 114.0,451.9 114.5,453.3 115.0,462.5 115.5,467.8 116.0,475.6 116.5,473.3 117.0,475.4 117.5,479.7 118.0,475.9 118.5,479.0 119.0,475.1 119.5,473.0 120.0,471.7 120.5,483.2 121.0,474.8 121.5,479.2 122.0,481.9 122.5,480.3 123.0,479.5 123.5,473.1 124.0,471.7 124.5,474.4 125.0,476.4 125.5,479.5 126.0,478.2 126.5,476.7 127.0,475.6 127.5,480.4 128.0,473.7 128.4,478.2 128.9,476.7 129.4,468.7 129.9,460.4 130.4,458.4 130.9,461.2 131.4,455.2 131.9,456.3 132.4,454.5 132.9,455.4 133.4,446.6 133.9,445.6 134.4,453.7 134.9,450.2 135.4,449.4 135.9,446.1 136.4,449.2 136.9,454.3 137.4,452.7 137.9,452.0 138.4,443.3 138.9,448.2 139.4,450.2 139.9,446.3 140.4,454.2 140.9,459.1 141.4,463.0 141.9,467.8 142.4,477.0 142.9,472.1 143.4,475.1 143.9,475.4 144.4,478.5 144.9,477.7 145.4,479.6 145.9,474.7 146.4,477.7 146.9,476.8 147.4,476.9 147.9,478.1 148.4,479.4 148.9,477.3 149.4,476.9 149.9,476.0 150.4,476.7 150.9,474.1 151.4,478.4 151.9,479.3 152.4,480.7 152.9,476.1 153.4,473.5 153.9,478.5 154.4,475.1 154.9,476.5 155.4,469.2 155.9,468.1 156.4,458.7 156.9,458.7 157.4,457.6 157.9,452.9 158.4,448.6 158.9,455.0 159.4,446.0 159.9,450.3 160.4,448.0 160.9,449.1 161.4,449.3 161.9,452.1 162.4,447.4 162.9,445.5 163.4,444.0 163.9,444.9 164.4,445.8 164.9,446.0 165.4,444.9 165.9,446.6 166.4,448.8 166.9,455.5 167.4,470.4 167.9,475.3 168.4,468.4 168.9,473.3 169.4,476.4 169.9,479.5 170.4,475.6 170.9,478.8 171.4,478.8 171.9,480.3 172.4,475.0 172.9,479.3 173.4,483.8 173.9,479.6 174.4,478.4 174.9,478.7 175.4,470.9 175.9,474.2 176.4,475.9 176.9,475.8 177.4,482.1 177.9,475.5 178.4,474.7 178.9,473.6 179.4,475.3 179.9,476.3 180.4,474.4 180.9,477.5 181.4,472.1 181.9,464.3 182.4,456.9 182.9,456.4 183.4,453.3 183.9,453.5 184.4,453.0 184.9,452.9 185.4,449.7 185.9,446.3 186.4,443.6 186.9,445.0 187.4,449.1 187.9,447.1 188.4,446.6 188.9,445.9 189.4,447.5 189.9,447.1 190.4,446.0 190.9,450.6 191.4,446.5 191.9,442.9 192.4,446.8 192.9,456.4 193.4,470.8 193.9,476.6 194.4,479.8 194.9,483.5 195.4,479.4 195.9,480.5 196.4,480.5 196.9,484.7 197.4,481.7 197.9,482.6 198.4,477.4 198.9,475.5 199.4,479.9 199.9,477.7 200.4,477.1 200.9,473.0 201.4,476.6 201.9,475.5 202.4,473.8 202.9,477.6 203.4,471.3 203.9,472.5 204.4,477.9 204.9,477.1 205.4,474.2 205.9,476.5 206.4,478.0 206.9,476.8 207.4,470.8 207.9,459.3 208.4,454.7 208.9,450.3 209.4,453.3 209.9,452.2 210.4,450.2 210.9,453.8 211.4,454.0 211.9,443.0 212.4,445.0 212.9,450.2 213.4,450.2 213.9,447.1 214.4,452.7 214.9,448.3 215.4,456.2 215.9,449.3 216.4,444.4 216.9,444.3 217.4,446.9 217.9,448.4 218.4,457.7 218.9,467.8 219.4,471.8 219.9,469.7 220.4,469.1 220.9,468.5 221.4,473.5 221.9,476.2 222.4,480.4 222.9,477.8 223.4,479.1 223.9,475.7 224.4,481.1 224.9,480.9 225.4,480.7 225.9,473.9 226.4,477.3 226.9,474.4 227.4,475.8 227.9,466.4 228.4,476.8 228.9,474.7 229.4,482.1 229.9,476.0 230.4,476.1 230.9,478.4 231.4,480.4 231.9,475.2 232.4,473.8 232.9,475.9 233.4,468.7 233.9,462.7 234.4,461.8 234.9,455.4 235.4,448.0 235.9,446.8 236.4,445.1 236.9,445.5 237.4,445.6 237.9,447.8 238.4,443.6 238.9,452.3 239.4,447.3 239.9,448.7 240.4,451.2 240.9,448.0 241.4,451.0 241.9,449.0 242.4,449.1 242.9,448.4 243.4,443.1 243.9,446.7 244.4,450.7 244.9,462.2 245.4,468.4 245.9,470.2 246.4,475.5 246.9,472.9 247.4,477.4 247.9,474.6 248.4,474.8 248.9,475.4 249.4,474.0 249.9,476.4 250.4,478.6 250.9,479.7 251.4,476.4 251.9,476.4 252.4,476.1 252.9,474.4 253.4,480.5 253.9,485.3 254.4,474.8 254.9,476.0 255.4,473.7 255.9,476.1 256.4,475.3 256.9,478.4 257.4,476.1 257.9,473.2 258.4,482.8 258.9,482.4 259.4,468.2 259.9,463.8 260.4,460.7 260.9,452.5 261.4,449.4 261.9,451.3 262.4,447.8 262.9,444.9 263.4,450.4 263.9,441.4 264.4,445.4 264.9,444.2 265.4,443.0 265.9,452.3 266.4,442.0 266.9,443.0 267.4,450.8 267.9,450.5 268.4,448.3 268.9,437.7 269.4,444.6 269.9,448.7 270.4,453.3 270.9,463.1 271.4,470.8 271.9,470.9 272.4,464.2 272.9,481.5 273.4,485.1 273.9,474.9 274.4,477.2 274.9,475.9 275.4,472.6 275.9,482.0 276.4,477.4 276.9,476.1 277.4,483.5 277.9,479.8 278.4,478.9 278.9,475.8 279.4,473.5 279.9,483.7 280.4,479.3 280.9,476.8 281.4,480.7 281.9,476.5 282.4,475.4 282.9,475.5 283.4,475.1 283.9,474.2 284.4,473.7 284.9,479.2 285.4,472.1 285.9,464.9 286.4,458.0 286.9,454.9 287.4,453.3 287.9,450.0 288.4,442.0 288.9,445.9 289.4,447.6 289.9,445.1 290.4,451.3 290.9,444.4 291.4,446.5 291.9,444.4 292.4,446.0 292.9,447.7 293.4,449.9 293.9,448.4 294.4,439.4 294.9,442.1 295.4,443.7 295.9,440.8 296.4,449.8 296.9,465.7 297.4,468.9 297.9,467.4 298.4,472.7 298.9,476.6 299.4,474.3 299.9,480.1 299.9,492.5 299.4,494.1 298.9,486.5 298.4,492.0 297.9,483.5 297.4,482.9 296.9,480.6 296.4,472.1 295.9,464.1 295.4,464.4 294.9,456.0 294.4,466.1 293.9,466.8 293.4,465.3 292.9,461.3 292.4,461.7 291.9,463.2 291.4,458.1 290.9,462.9 290.4,464.8 289.9,462.1 289.4,468.4 288.9,458.3 288.4,458.3 287.9,464.5 287.4,470.1 286.9,471.1 286.4,472.3 285.9,478.8 285.4,488.4 284.9,494.2 284.4,490.9 283.9,490.0 283.4,488.2 282.9,494.6 282.4,497.3 281.9,494.5 281.4,494.6 280.9,494.2 280.4,498.3 279.9,496.5 279.4,493.5 278.9,495.0 278.4,495.2 277.9,495.1 277.4,499.8 276.9,499.7 276.4,499.3 275.9,495.7 275.4,493.4 274.9,483.9 274.4,489.5 273.9,491.4 273.4,495.1 272.9,495.5 272.4,488.9 271.9,481.3 271.4,489.9 270.9,482.8 270.4,469.1 269.9,460.1 269.4,462.4 268.9,459.5 268.4,464.7 267.9,463.5 267.4,466.3 266.9,460.4 266.4,463.7 265.9,463.5 265.4,462.7 264.9,457.1 264.4,457.5 263.9,461.7 263.4,467.8 262.9,462.4 262.4,464.1 261.9,463.4 261.4,469.2 260.9,465.6 260.4,476.3 259.9,481.5 259.4,488.0 258.9,497.7 258.4,498.3 257.9,485.6 257.4,488.6 256.9,489.5 256.4,490.3 255.9,487.5 255.4,489.8 254.9,489.0 254.4,488.6 253.9,488.7 253.4,494.2 252.9,489.4 252.4,494.1 251.9,493.9 251.4,491.6 250.9,494.7 250.4,498.7 249.9,493.7 249.4,491.5 248.9,486.1 248.4,485.7 247.9,490.5 247.4,492.1 246.9,491.4 246.4,487.2 245.9,491.0 245.4,481.0 244.9,477.1 244.4,474.1 243.9,459.5 243.4,459.3 242.9,464.5 242.4,463.0 241.9,462.3 241.4,462.4 240.9,470.5 240.4,466.7 239.9,466.7 239.4,462.5 238.9,466.3 238.4,463.0 237.9,460.1 237.4,464.0 236.9,455.8 236.4,463.3 235.9,461.4 235.4,467.4 234.9,479.5 234.4,476.6 233.9,480.4 233.4,490.3 232.9,488.5 232.4,484.2 231.9,490.9 231.4,490.7 230.9,496.7 230.4,493.1 229.9,497.3 229.4,499.4 228.9,492.7 228.4,496.3 227.9,487.0 227.4,491.9 226.9,489.4 226.4,488.2 225.9,492.3 225.4,492.2 224.9,494.8 224.4,490.4 223.9,490.6 223.4,489.0 222.9,491.7 222.4,497.5 221.9,486.1 221.4,490.2 220.9,485.8 220.4,482.7 219.9,484.1 219.4,484.8 218.9,478.8 218.4,474.6 217.9,463.1 217.4,459.9 216.9,460.8 216.4,459.2 215.9,462.7 215.4,466.8 214.9,468.6 214.4,465.7 213.9,465.5 213.4,469.0 212.9,465.9 212.4,458.4 211.9,465.4 211.4,462.9 210.9,467.2 210.4,472.0 209.9,466.7 209.4,467.7 208.9,470.8 208.4,471.3 207.9,480.2 207.4,488.7 206.9,490.7 206.4,493.5 205.9,489.7 205.4,492.1 204.9,490.4 204.4,491.9 203.9,486.9 203.4,489.4 202.9,488.9 202.4,493.9 201.9,492.1 201.4,493.0 200.9,486.2 200.4,489.9 199.9,494.3 199.4,491.8 198.9,490.6 198.4,492.6 197.9,493.3 197.4,494.3 196.9,496.0 196.4,492.6 195.9,495.6 195.4,494.1 194.9,492.1 194.4,492.7 193.9,494.9 193.4,486.7 192.9,478.6 192.4,466.9 191.9,461.1 191.4,462.7 190.9,464.3 190.4,467.2 189.9,458.2 189.4,462.4 188.9,464.5 188.4,465.3 187.9,466.3 187.4,468.7 186.9,461.5 186.4,461.3 185.9,462.2 185.4,462.4 184.9,463.2 184.4,467.2 183.9,464.7 183.4,469.0 182.9,476.6 182.4,477.2 181.9,481.1 181.4,494.0 180.9,492.6 180.4,490.8 179.9,493.0 179.4,487.5 178.9,488.5 178.4,494.4 177.9,490.3 177.4,492.3 176.9,495.0 176.4,492.6 175.9,487.4 175.4,491.4 174.9,498.6 174.4,492.6 173.9,492.8 173.4,492.9 172.9,491.8 172.4,495.0 171.9,493.8 171.4,495.3 170.9,494.4 170.4,493.3 169.9,494.7 169.4,487.6 168.9,490.0 168.4,490.0 167.9,489.1 167.4,483.7 166.9,483.8 166.4,469.7 165.9,461.2 165.4,459.6 164.9,462.4 164.4,461.5 163.9,463.5 163.4,463.7 162.9,466.9 162.4,468.1 161.9,464.2 161.4,469.0 160.9,467.4 160.4,458.8 159.9,466.3 159.4,468.6 158.9,468.0 158.4,467.5 157.9,465.9 157.4,469.9 156.9,467.1 156.4,474.4 155.9,480.5 155.4,490.0 154.9,496.2 154.4,492.1 153.9,490.2 153.4,493.2 152.9,489.1 152.4,496.1 151.9,500.9 151.4,493.3 150.9,493.4 150.4,492.2 149.9,494.8 149.4,491.8 148.9,487.7 148.4,494.7 147.9,495.2 147.4,489.9 146.9,493.4 146.4,493.5 145.9,494.1 145.4,494.1 144.9,494.7 144.4,490.5 143.9,486.8 143.4,490.2 142.9,489.8 142.4,489.6 141.9,483.7 141.4,479.1 140.9,477.6 140.4,471.6 139.9,469.0 139.4,464.7 138.9,469.0 138.4,461.3 137.9,470.9 137.4,466.0 136.9,465.2 136.4,463.4 135.9,461.7 135.4,463.7 134.9,461.2 134.4,468.4 133.9,461.9 133.4,462.1 132.9,464.1 132.4,465.8 131.9,465.1 131.4,468.6 130.9,477.8 130.4,470.0 129.9,476.5 129.4,481.8 128.9,488.4 128.4,493.5 128.0,497.5 127.5,492.3 127.0,486.6 126.5,489.3 126.0,496.2 125.5,490.4 125.0,491.4 124.5,489.2 124.0,490.7 123.5,483.8 123.0,488.8 122.5,497.9 122.0,499.0 121.5,494.2 121.0,496.4 120.5,497.8 120.0,492.5 119.5,495.8 119.0,490.8 118.5,489.3 118.0,491.5 117.5,491.6 117.0,496.6 116.5,493.5 116.0,490.3 115.5,484.0 115.0,479.4 114.5,466.1 114.0,471.5 113.5,466.8 113.0,465.0 112.5,470.5 112.0,467.1 111.5,473.1 111.0,466.7 110.5,466.3 110.0,468.3 109.5,468.2 109.0,463.7 108.5,459.0 108.0,461.3 107.5,465.2 107.0,460.7 106.5,462.8 106.0,470.8 105.5,470.8 105.0,468.2 104.5,472.9 104.0,479.5 103.5,490.4 103.0,493.8 102.5,493.7 102.0,485.0 101.5,488.7 101.0,490.1 100.5,490.1 100.0,493.8 99.5,493.4 99.0,492.6 98.5,496.9 98.0,495.8 97.5,493.0 97.0,495.4 96.5,493.2 96.0,490.5 95.5,493.5 95.0,485.2 94.5,497.6 94.0,494.9 93.5,489.7 93.0,483.5 92.5,488.1 92.0,489.3 91.5,498.2 91.0,495.5 90.5,487.2 90.0,489.1 89.5,487.1 89.0,472.2 88.5,463.9 88.0,462.3 87.5,466.5 87.0,466.0 86.5,457.2 86.0,459.8 85.5,465.5 85.0,465.0 84.5,466.1 84.0,468.6 83.5,467.8 83.0,465.5 82.5,461.5 82.0,461.0 81.5,468.7 81.0,466.4 80.5,469.3 80.0,467.1 79.5,470.2 79.0,471.9 78.5,479.1 78.0,485.1 77.5,485.2 77.0,488.4 76.5,489.9 76.0,489.0 75.5,487.7 75.0,489.7 74.5,486.4 74.0,490.4 73.5,484.5 73.0,491.3 72.5,493.0 72.0,491.0 71.5,492.4 71.0,490.9 70.5,484.8 70.0,491.6 69.5,491.2 69.0,493.7 68.5,495.6 68.0,498.3 67.5,498.1 67.0,494.7 66.5,500.0 66.0,491.0 65.5,485.9 65.0,491.5 64.5,487.5 64.0,483.3 63.5,482.6 63.0,478.7 62.5,461.6 62.0,461.1 61.5,465.2 61.0,459.2 60.5,461.1 60.0,465.8 59.5,462.5 59.0,465.4 58.5,463.5 58.0,464.6 57.5,462.2 57.0,465.0 56.5,468.7 56.0,462.3 55.5,464.0 55.0,466.4 54.5,466.4 54.0,467.3 53.5,471.9 53.0,471.8 52.5,478.4 52.0,485.9 51.5,491.4 51.0,491.1 50.5,492.6 50.0,491.3 49.5,496.4 49.0,489.5 48.5,495.1 48.0,492.8 47.5,489.8 47.0,492.7 46.5,495.7 46.0,499.4 45.5,490.5 45.0,485.4 44.5,492.9 44.0,490.2 43.5,492.8 43.0,495.8 42.5,494.1 42.0,496.4 41.5,491.2 41.0,486.2 40.5,494.9" fill="#e8806a" stroke="none"/>
<polygon points="40.5,479.3 41.0,478.5 41.5,481.5 42.0,481.5 42.5,482.7 43.0,480.1 43.5,477.1 44.0,480.4 44.5,481.3 45.0,477.7 45.5,478.7 46.0,484.0 46.5,482.3 47.0,478.7 47.5,476.6 48.0,482.7 48.5,481.0 49.0,477.4 49.5,480.4 50.0,479.6 50.5,483.1 51.0,480.8 51.5,478.1 52.0,472.6 52.5,460.1 53.0,458.2 53.5,455.0 54.0,453.0 54.5,450.7 55.0,451.6 55.5,452.6 56.0,451.9 56.5,453.0 57.0,453.6 57.5,450.8 58.0,451.9 58.5,453.0 59.0,452.7 59.5,454.1 60.0,451.9 60.5,453.7 61.0,449.6 61.5,448.0 62.0,449.0 62.5,449.4 63.0,457.3 63.5,469.8 64.0,476.4 64.5,480.3 65.0,479.8 65.5,476.8 66.0,476.3 66.5,479.7 67.0,482.9 67.5,483.9 68.0,484.9 68.5,484.8 69.0,483.8 69.5,483.9 70.0,481.8 70.5,479.1 71.0,481.3 71.5,480.6 72.0,481.0 72.5,482.5 73.0,477.4 73.5,475.7 74.0,476.5 74.5,478.5 75.0,477.6 75.5,479.3 76.0,474.4 76.5,475.3 77.0,477.4 77.5,476.2 78.0,470.6 78.5,467.6 79.0,459.1 79.5,455.3 80.0,457.6 80.5,455.0 81.0,455.7 81.5,452.7 82.0,449.6 82.5,447.5 83.0,452.4 83.5,455.6 84.0,459.0 84.5,456.8 85.0,451.9 85.5,452.3 86.0,450.2 86.5,448.8 87.0,454.8 87.5,452.2 88.0,451.1 88.5,451.3 89.0,460.2 89.5,467.1 90.0,476.4 90.5,478.5 91.0,478.4 91.5,482.7 92.0,481.8 92.5,480.6 93.0,472.9 93.5,476.5 94.0,484.2 94.5,481.1 95.0,480.9 95.5,480.6 96.0,482.1 96.5,481.2 97.0,482.3 97.5,481.4 98.0,481.3 98.5,482.6 99.0,480.2 99.5,480.6 100.0,478.8 100.5,481.2 101.0,477.4 101.5,474.7 102.0,478.1 102.5,481.3 103.0,480.9 103.5,473.1 104.0,465.3 104.5,460.9 105.0,457.7 105.5,457.2 106.0,456.3 106.5,452.5 107.0,448.2 107.5,448.8 108.0,450.4 108.5,448.3 109.0,449.3 109.5,453.5 110.0,451.1 110.5,454.7 111.0,455.8 111.5,455.4 112.0,454.4 112.5,455.8 113.0,454.0 113.5,454.2 114.0,455.9 114.5,456.7 115.0,467.9 115.5,474.1 116.0,478.0 116.5,479.9 117.0,480.0 117.5,482.1 118.0,480.9 118.5,479.2 119.0,479.3 119.5,478.9 120.0,478.0 120.5,484.3 121.0,480.7 121.5,482.3 122.0,485.1 122.5,483.8 123.0,481.0 123.5,478.1 124.0,476.0 124.5,477.7 125.0,481.2 125.5,483.5 126.0,480.6 126.5,479.6 127.0,480.2 127.5,482.8 128.0,480.3 128.4,481.8 128.9,479.9 129.4,470.9 129.9,464.3 130.4,462.9 130.9,464.4 131.4,460.1 131.9,458.0 132.4,458.2 132.9,457.2 133.4,450.3 133.9,449.8 134.4,455.7 134.9,453.1 135.4,452.0 135.9,450.4 136.4,452.9 136.9,456.0 137.4,456.2 137.9,454.9 138.4,449.4 138.9,452.0 139.4,454.0 139.9,451.9 140.4,456.9 140.9,463.7 141.4,468.8 141.9,471.2 142.4,479.7 142.9,478.2 143.4,480.3 143.9,479.2 144.4,480.3 144.9,482.2 145.4,484.0 145.9,481.4 146.4,482.3 146.9,480.3 147.4,480.8 147.9,481.7 148.4,482.6 148.9,479.4 149.4,479.7 149.9,480.9 150.4,480.7 150.9,478.0 151.4,480.6 151.9,483.9 152.4,483.4 152.9,479.9 153.4,478.2 153.9,482.2 154.4,479.3 154.9,479.8 155.4,472.9 155.9,469.6 156.4,463.9 156.9,460.9 157.4,459.4 157.9,455.5 158.4,453.7 158.9,458.9 159.4,452.0 159.9,452.5 160.4,452.8 160.9,454.6 161.4,454.3 161.9,454.7 162.4,453.2 162.9,450.4 163.4,449.8 163.9,450.0 164.4,450.1 164.9,449.8 165.4,451.5 165.9,450.9 166.4,452.5 166.9,461.8 167.4,473.6 167.9,477.9 168.4,475.0 168.9,478.2 169.4,480.9 169.9,482.0 170.4,481.7 170.9,483.5 171.4,483.4 171.9,484.3 172.4,481.6 172.9,483.4 173.4,485.6 173.9,482.6 174.4,482.5 174.9,482.9 175.4,477.5 175.9,478.0 176.4,479.2 176.9,478.8 177.4,484.7 177.9,479.2 178.4,478.5 178.9,477.7 179.4,480.0 179.9,480.3 180.4,479.2 180.9,480.3 181.4,477.2 181.9,465.8 182.4,460.8 182.9,460.5 183.4,456.6 183.9,455.0 184.4,456.8 184.9,456.6 185.4,452.2 185.9,450.8 186.4,448.8 186.9,449.5 187.4,452.4 187.9,452.7 188.4,451.5 188.9,451.3 189.4,452.2 189.9,450.5 190.4,452.3 190.9,452.5 191.4,450.8 191.9,448.3 192.4,449.8 192.9,459.2 193.4,472.4 193.9,478.2 194.4,482.6 194.9,485.5 195.4,483.6 195.9,484.0 196.4,484.2 196.9,486.5 197.4,485.1 197.9,484.9 198.4,481.5 198.9,479.3 199.4,483.2 199.9,482.0 200.4,480.2 200.9,476.9 201.4,480.8 201.9,479.3 202.4,478.8 202.9,480.6 203.4,475.7 203.9,476.0 204.4,482.1 204.9,480.7 205.4,478.2 205.9,481.7 206.4,481.6 206.9,479.9 207.4,471.6 207.9,463.5 208.4,459.2 208.9,455.6 209.4,455.7 209.9,455.0 210.4,454.1 210.9,456.9 211.4,455.5 211.9,449.3 212.4,450.6 212.9,453.4 213.4,453.2 213.9,452.5 214.4,456.6 214.9,453.8 215.4,456.7 215.9,452.4 216.4,449.0 216.9,448.6 217.4,450.4 217.9,451.8 218.4,458.5 218.9,469.3 219.4,473.7 219.9,473.7 220.4,474.0 220.9,474.9 221.4,477.7 221.9,479.2 222.4,483.1 222.9,482.8 223.4,482.8 223.9,480.9 224.4,483.4 224.9,483.5 225.4,483.6 225.9,480.5 226.4,481.3 226.9,478.9 227.4,479.7 227.9,473.0 228.4,478.1 228.9,481.3 229.4,485.1 229.9,480.8 230.4,480.8 230.9,481.6 231.4,482.5 231.9,479.4 232.4,476.1 232.9,476.7 233.4,473.1 233.9,466.6 234.4,463.8 234.9,458.6 235.4,453.0 235.9,451.5 236.4,449.6 236.9,448.5 237.4,448.6 237.9,450.8 238.4,447.7 238.9,453.3 239.4,452.6 239.9,453.1 240.4,455.9 240.9,451.8 241.4,452.5 241.9,451.7 242.4,453.5 242.9,451.1 243.4,446.0 243.9,448.4 244.4,451.9 244.9,464.3 245.4,469.8 245.9,474.6 246.4,478.8 246.9,477.7 247.4,482.0 247.9,479.8 248.4,478.3 248.9,477.9 249.4,477.8 249.9,480.0 250.4,482.7 250.9,483.6 251.4,481.3 251.9,479.9 252.4,481.0 252.9,480.2 253.4,484.8 253.9,485.7 254.4,478.6 254.9,478.1 255.4,479.2 255.9,479.8 256.4,477.9 256.9,480.1 257.4,479.4 257.9,477.9 258.4,484.3 258.9,483.9 259.4,472.8 259.9,467.9 260.4,460.8 260.9,454.6 261.4,454.0 261.9,454.9 262.4,453.0 262.9,451.6 263.4,454.8 263.9,447.4 264.4,448.3 264.9,448.6 265.4,449.1 265.9,453.9 266.4,448.4 266.9,449.0 267.4,452.1 267.9,452.6 268.4,452.5 268.9,444.3 269.4,448.7 269.9,452.3 270.4,454.4 270.9,466.0 271.4,473.4 271.9,472.9 272.4,470.8 272.9,484.7 273.4,486.2 273.9,479.7 274.4,479.9 274.9,478.3 275.4,478.5 275.9,485.7 276.4,482.3 276.9,480.4 277.4,486.4 277.9,484.1 278.4,483.2 278.9,479.7 279.4,478.8 279.9,484.0 280.4,482.2 280.9,481.2 281.4,484.3 281.9,480.8 282.4,481.3 282.9,481.7 283.4,479.1 283.9,478.5 284.4,479.9 284.9,484.0 285.4,474.4 285.9,467.4 286.4,460.0 286.9,456.6 287.4,456.0 287.9,452.3 288.4,447.1 288.9,449.4 289.4,451.0 289.9,451.1 290.4,454.3 290.9,449.9 291.4,449.5 291.9,448.6 292.4,450.3 292.9,451.7 293.4,452.6 293.9,451.3 294.4,446.0 294.9,447.8 295.4,448.6 295.9,447.3 296.4,451.6 296.9,467.1 297.4,473.7 297.9,472.5 298.4,476.5 298.9,480.5 299.4,481.0 299.9,484.1 299.9,489.1 299.4,489.0 298.9,486.0 298.4,486.9 297.9,480.8 297.4,479.6 296.9,477.6 296.4,467.8 295.9,457.5 295.4,458.1 294.9,453.5 294.4,460.1 293.9,460.1 293.4,459.5 292.9,457.8 292.4,457.4 291.9,457.1 291.4,455.8 290.9,457.5 290.4,459.6 289.9,459.7 289.4,461.8 288.9,455.3 288.4,455.5 287.9,461.5 287.4,463.5 286.9,464.5 286.4,469.7 285.9,474.9 285.4,485.6 284.9,490.5 284.4,487.1 283.9,485.8 283.4,484.9 282.9,490.2 282.4,491.1 281.9,489.5 281.4,490.2 280.9,489.5 280.4,493.3 279.9,491.7 279.4,487.6 278.9,489.2 278.4,489.8 277.9,490.3 277.4,493.8 276.9,493.1 276.4,493.1 275.9,491.1 275.4,489.9 274.9,482.2 274.4,485.3 273.9,488.2 273.4,491.4 272.9,491.8 272.4,486.4 271.9,478.3 271.4,483.5 270.9,478.7 270.4,467.4 269.9,457.4 269.4,457.0 268.9,457.2 268.4,461.0 267.9,458.8 267.4,460.0 266.9,457.1 266.4,458.5 265.9,459.4 265.4,459.6 264.9,454.8 264.4,453.9 263.9,458.0 263.4,461.9 262.9,460.0 262.4,461.0 261.9,460.5 261.4,463.7 260.9,462.7 260.4,472.9 259.9,478.2 259.4,484.9 258.9,493.0 258.4,492.2 257.9,485.1 257.4,486.0 256.9,487.1 256.4,484.9 255.9,485.8 255.4,486.1 254.9,484.8 254.4,485.7 253.9,489.3 253.4,490.4 252.9,487.0 252.4,488.9 251.9,489.4 251.4,489.8 250.9,490.9 250.4,492.2 249.9,489.2 249.4,487.1 248.9,483.3 248.4,482.6 247.9,488.3 247.4,487.9 246.9,487.3 246.4,484.5 245.9,485.4 245.4,478.2 244.9,473.5 244.4,468.5 243.9,455.6 243.4,454.5 242.9,459.7 242.4,459.9 241.9,458.1 241.4,457.8 240.9,463.9 240.4,461.9 239.9,461.2 239.4,458.3 238.9,460.0 238.4,459.1 237.9,456.3 237.4,457.4 236.9,454.6 236.4,458.1 235.9,457.7 235.4,464.1 234.9,472.9 234.4,473.1 233.9,478.6 233.4,485.5 232.9,483.4 232.4,483.5 231.9,488.1 231.4,487.9 230.9,491.6 230.4,488.6 229.9,490.8 229.4,492.8 228.9,489.8 228.4,489.8 227.9,482.6 227.4,487.8 226.9,487.5 226.4,485.6 225.9,488.5 225.4,489.2 224.9,489.3 224.4,488.7 223.9,487.9 223.4,487.6 222.9,489.9 222.4,490.9 221.9,484.7 221.4,486.4 220.9,482.7 220.4,480.7 219.9,480.9 219.4,482.0 218.9,476.2 218.4,470.3 217.9,460.0 217.4,456.3 216.9,456.8 216.4,455.9 215.9,459.3 215.4,463.2 214.9,464.4 214.4,462.0 213.9,460.1 213.4,462.4 212.9,460.1 212.4,456.1 211.9,459.5 211.4,459.7 210.9,463.5 210.4,466.3 209.9,461.6 209.4,461.6 208.9,466.2 208.4,468.6 207.9,473.9 207.4,485.2 206.9,486.2 206.4,489.6 205.9,488.2 205.4,488.9 204.9,488.4 204.4,488.8 203.9,484.6 203.4,484.9 202.9,485.7 202.4,488.1 201.9,486.4 201.4,488.6 200.9,483.7 200.4,486.9 199.9,490.4 199.4,488.8 198.9,486.1 198.4,488.4 197.9,491.2 197.4,490.8 196.9,490.8 196.4,489.4 195.9,490.4 195.4,490.4 194.9,489.8 194.4,488.1 193.9,488.3 193.4,482.7 192.9,475.2 192.4,462.9 191.9,456.8 191.4,458.0 190.9,461.5 190.4,461.4 189.9,456.1 189.4,458.9 188.9,460.5 188.4,459.9 187.9,463.2 187.4,462.1 186.9,456.1 186.4,456.3 185.9,457.8 185.4,459.3 184.9,460.9 184.4,463.6 183.9,461.6 183.4,466.5 182.9,471.4 182.4,470.6 181.9,478.9 181.4,488.2 180.9,487.6 180.4,487.2 179.9,487.8 179.4,485.1 178.9,484.5 178.4,487.7 177.9,487.0 177.4,489.4 176.9,488.8 176.4,487.1 175.9,485.1 175.4,489.2 174.9,492.9 174.4,488.6 173.9,488.2 173.4,490.0 172.9,489.3 172.4,489.5 171.9,490.7 171.4,490.8 170.9,490.9 170.4,490.8 169.9,491.2 169.4,485.9 168.9,486.1 168.4,484.7 167.9,484.5 167.4,482.1 166.9,479.5 166.4,466.6 165.9,458.2 165.4,457.4 164.9,459.0 164.4,457.6 163.9,460.2 163.4,459.2 162.9,461.7 162.4,463.0 161.9,461.1 161.4,464.2 160.9,463.0 160.4,457.7 159.9,459.8 159.4,465.1 158.9,466.6 158.4,463.4 157.9,460.9 157.4,466.1 156.9,465.7 156.4,471.1 155.9,475.6 155.4,486.8 154.9,489.5 154.4,487.6 153.9,487.6 153.4,487.2 152.9,487.5 152.4,493.5 151.9,494.3 151.4,488.0 150.9,486.8 150.4,487.8 149.9,489.6 149.4,486.9 148.9,485.0 148.4,490.2 147.9,490.7 147.4,486.3 146.9,488.2 146.4,489.6 145.9,489.8 145.4,491.3 144.9,490.7 144.4,486.7 143.9,485.4 143.4,486.0 142.9,486.2 142.4,485.6 141.9,480.3 141.4,474.7 140.9,472.5 140.4,467.2 139.9,462.9 139.4,461.5 138.9,462.4 138.4,458.4 137.9,464.8 137.4,462.4 136.9,461.5 136.4,459.1 135.9,457.6 135.4,458.6 134.9,457.2 134.4,462.3 133.9,458.7 133.4,458.7 132.9,463.5 132.4,463.4 131.9,461.9 131.4,465.6 130.9,471.1 130.4,468.4 129.9,473.0 129.4,479.5 128.9,485.0 128.4,489.2 128.0,490.9 127.5,488.4 127.0,484.7 126.5,485.4 126.0,490.6 125.5,487.8 125.0,489.5 124.5,485.9 124.0,484.8 123.5,482.9 123.0,486.2 122.5,493.2 122.0,494.4 121.5,489.8 121.0,490.1 120.5,491.8 120.0,488.2 119.5,490.6 119.0,486.9 118.5,485.8 118.0,487.8 117.5,487.3 117.0,490.3 116.5,489.5 116.0,487.7 115.5,481.4 115.0,477.8 114.5,466.3 114.0,464.9 113.5,462.5 113.0,462.5 112.5,465.1 112.0,461.8 111.5,466.5 111.0,462.7 110.5,462.7 110.0,463.2 109.5,461.6 109.0,459.4 108.5,456.3 108.0,457.4 107.5,458.6 107.0,457.6 106.5,459.9 106.0,465.1 105.5,465.7 105.0,465.3 104.5,470.1 104.0,474.8 103.5,484.4 103.0,488.3 102.5,490.2 102.0,484.0 101.5,482.4 101.0,486.3 100.5,487.0 100.0,488.2 99.5,488.4 99.0,489.6 98.5,491.5 98.0,490.6 97.5,488.4 97.0,488.8 96.5,489.2 96.0,488.4 95.5,489.9 95.0,484.9 94.5,492.2 94.0,491.1 93.5,487.6 93.0,481.5 92.5,485.8 92.0,487.0 91.5,491.8 91.0,490.8 90.5,485.6 90.0,483.4 89.5,481.4 89.0,470.0 88.5,460.5 88.0,457.8 87.5,461.7 87.0,462.1 86.5,456.1 86.0,457.3 85.5,459.5 85.0,460.5 84.5,465.2 84.0,466.7 83.5,463.5 83.0,460.4 82.5,458.4 82.0,456.7 81.5,462.1 81.0,462.9 80.5,464.0 80.0,463.5 79.5,465.2 79.0,468.5 78.5,474.1 78.0,479.2 77.5,484.1 77.0,484.9 76.5,484.8 76.0,486.4 75.5,485.5 75.0,485.0 74.5,484.4 74.0,485.7 73.5,481.4 73.0,486.8 72.5,489.0 72.0,487.5 71.5,489.6 71.0,489.2 70.5,484.5 70.0,488.2 69.5,488.8 69.0,489.5 68.5,491.1 68.0,492.9 67.5,492.6 67.0,491.5 66.5,493.4 66.0,484.7 65.5,484.0 65.0,486.2 64.5,485.7 64.0,481.7 63.5,479.9 63.0,474.0 62.5,459.5 62.0,456.3 61.5,458.6 61.0,457.9 60.5,458.8 60.0,459.2 59.5,459.9 59.0,460.4 58.5,459.6 58.0,460.3 57.5,457.2 57.0,459.9 56.5,462.4 56.0,458.9 55.5,460.3 55.0,459.8 54.5,460.8 54.0,462.4 53.5,465.3 53.0,466.9 52.5,474.6 52.0,482.9 51.5,487.9 51.0,488.1 50.5,488.9 50.0,488.4 49.5,489.8 49.0,486.3 48.5,489.6 48.0,489.4 47.5,486.4 47.0,487.2 46.5,491.3 46.0,493.2 45.5,487.4 45.0,483.5 44.5,488.5 44.0,486.2 43.5,486.5 43.0,489.7 42.5,489.6 42.0,489.9 41.5,488.2 41.0,484.4 40.5,488.4" fill="#d22a08" stroke="none"/>
<line x1="40.20" y1="428.30" x2="40.20" y2="510.05" stroke="#333" stroke-width="0.9"/>
<line x1="40.20" y1="510.05" x2="300.00" y2="510.05" stroke="#333" stroke-width="0.9"/>
<line x1="37.20" y1="510.05" x2="40.20" y2="510.05" stroke="#333" stroke-width="0.8"/>
<text x="31.70" y="514.75" font-size="10.3" text-anchor="end" fill="#231f20" color="#231f20">−10</text>
<line x1="37.20" y1="482.80" x2="40.20" y2="482.80" stroke="#333" stroke-width="0.8"/>
<text x="31.70" y="487.50" font-size="10.3" text-anchor="end" fill="#231f20" color="#231f20">0</text>
<line x1="37.20" y1="455.55" x2="40.20" y2="455.55" stroke="#333" stroke-width="0.8"/>
<text x="31.70" y="460.25" font-size="10.3" text-anchor="end" fill="#231f20" color="#231f20">10</text>
<line x1="37.20" y1="428.30" x2="40.20" y2="428.30" stroke="#333" stroke-width="0.8"/>
<text x="31.70" y="433.00" font-size="10.3" text-anchor="end" fill="#231f20" color="#231f20">20</text>
<line x1="40.20" y1="510.05" x2="40.20" y2="513.05" stroke="#333" stroke-width="0.8"/>
<text x="45.20" y="521.95" font-size="10.3" text-anchor="end" fill="#231f20" color="#231f20" transform="rotate(-45 45.20 521.95)">0</text>
<line x1="62.47" y1="510.05" x2="62.47" y2="513.05" stroke="#333" stroke-width="0.8"/>
<text x="67.47" y="521.95" font-size="10.3" text-anchor="end" fill="#231f20" color="#231f20" transform="rotate(-45 67.47 521.95)">60</text>
<line x1="84.74" y1="510.05" x2="84.74" y2="513.05" stroke="#333" stroke-width="0.8"/>
<text x="89.74" y="521.95" font-size="10.3" text-anchor="end" fill="#231f20" color="#231f20" transform="rotate(-45 89.74 521.95)">120</text>
<line x1="107.01" y1="510.05" x2="107.01" y2="513.05" stroke="#333" stroke-width="0.8"/>
<text x="112.01" y="521.95" font-size="10.3" text-anchor="end" fill="#231f20" color="#231f20" transform="rotate(-45 112.01 521.95)">180</text>
<line x1="129.27" y1="510.05" x2="129.27" y2="513.05" stroke="#333" stroke-width="0.8"/>
<text x="134.27" y="521.95" font-size="10.3" text-anchor="end" fill="#231f20" color="#231f20" transform="rotate(-45 134.27 521.95)">240</text>
<line x1="151.54" y1="510.05" x2="151.54" y2="513.05" stroke="#333" stroke-width="0.8"/>
<text x="156.54" y="521.95" font-size="10.3" text-anchor="end" fill="#231f20" color="#231f20" transform="rotate(-45 156.54 521.95)">300</text>
<line x1="173.81" y1="510.05" x2="173.81" y2="513.05" stroke="#333" stroke-width="0.8"/>
<text x="178.81" y="521.95" font-size="10.3" text-anchor="end" fill="#231f20" color="#231f20" transform="rotate(-45 178.81 521.95)">360</text>
<line x1="196.08" y1="510.05" x2="196.08" y2="513.05" stroke="#333" stroke-width="0.8"/>
<text x="201.08" y="521.95" font-size="10.3" text-anchor="end" fill="#231f20" color="#231f20" transform="rotate(-45 201.08 521.95)">420</text>
<line x1="218.35" y1="510.05" x2="218.35" y2="513.05" stroke="#333" stroke-width="0.8"/>
<text x="223.35" y="521.95" font-size="10.3" text-anchor="end" fill="#231f20" color="#231f20" transform="rotate(-45 223.35 521.95)">480</text>
<line x1="240.62" y1="510.05" x2="240.62" y2="513.05" stroke="#333" stroke-width="0.8"/>
<text x="245.62" y="521.95" font-size="10.3" text-anchor="end" fill="#231f20" color="#231f20" transform="rotate(-45 245.62 521.95)">540</text>
<line x1="262.89" y1="510.05" x2="262.89" y2="513.05" stroke="#333" stroke-width="0.8"/>
<text x="267.89" y="521.95" font-size="10.3" text-anchor="end" fill="#231f20" color="#231f20" transform="rotate(-45 267.89 521.95)">600</text>
<line x1="285.15" y1="510.05" x2="285.15" y2="513.05" stroke="#333" stroke-width="0.8"/>
<text x="290.15" y="521.95" font-size="10.3" text-anchor="end" fill="#231f20" color="#231f20" transform="rotate(-45 290.15 521.95)">660</text>
<line x1="51.33" y1="510.05" x2="51.33" y2="511.85" stroke="#333" stroke-width="0.7"/>
<line x1="73.60" y1="510.05" x2="73.60" y2="511.85" stroke="#333" stroke-width="0.7"/>
<line x1="95.87" y1="510.05" x2="95.87" y2="511.85" stroke="#333" stroke-width="0.7"/>
<line x1="118.14" y1="510.05" x2="118.14" y2="511.85" stroke="#333" stroke-width="0.7"/>
<line x1="140.41" y1="510.05" x2="140.41" y2="511.85" stroke="#333" stroke-width="0.7"/>
<line x1="162.68" y1="510.05" x2="162.68" y2="511.85" stroke="#333" stroke-width="0.7"/>
<line x1="184.95" y1="510.05" x2="184.95" y2="511.85" stroke="#333" stroke-width="0.7"/>
<line x1="207.21" y1="510.05" x2="207.21" y2="511.85" stroke="#333" stroke-width="0.7"/>
<line x1="229.48" y1="510.05" x2="229.48" y2="511.85" stroke="#333" stroke-width="0.7"/>
<line x1="251.75" y1="510.05" x2="251.75" y2="511.85" stroke="#333" stroke-width="0.7"/>
<line x1="274.02" y1="510.05" x2="274.02" y2="511.85" stroke="#333" stroke-width="0.7"/>
<line x1="296.29" y1="510.05" x2="296.29" y2="511.85" stroke="#333" stroke-width="0.7"/>
<text x="8.80" y="468.57" font-size="10.5" text-anchor="middle" fill="#231f20" color="#231f20" transform="rotate(-90 8.80 468.57)">ΔCBV (%)</text>
<line x1="45.00" y1="415.20" x2="55.00" y2="415.20" stroke="#d9402b" stroke-width="1.8"/>
<text x="60.50" y="419.00" font-size="9.9" text-anchor="start" fill="#d9402b" color="#d9402b" font-style="italic">Eng-iKO<tspan font-size="6.3" dy="-3.8">e</tspan></text>
<text x="170.20" y="553.00" font-size="11.45" text-anchor="middle" fill="#231f20" color="#231f20">Time (s)</text>
<line x1="361.20" y1="32.35" x2="361.20" y2="131.40" stroke="#555" stroke-width="0.9"/>
<line x1="361.20" y1="131.40" x2="578.00" y2="131.40" stroke="#555" stroke-width="0.9"/>
<line x1="358.20" y1="131.40" x2="361.20" y2="131.40" stroke="#555" stroke-width="0.8"/>
<text x="354.00" y="135.90" font-size="10.3" text-anchor="end" fill="#231f20" color="#231f20">0</text>
<line x1="358.20" y1="111.65" x2="361.20" y2="111.65" stroke="#555" stroke-width="0.8"/>
<text x="354.00" y="116.15" font-size="10.3" text-anchor="end" fill="#231f20" color="#231f20">5</text>
<line x1="358.20" y1="91.90" x2="361.20" y2="91.90" stroke="#555" stroke-width="0.8"/>
<text x="354.00" y="96.40" font-size="10.3" text-anchor="end" fill="#231f20" color="#231f20">10</text>
<line x1="358.20" y1="72.15" x2="361.20" y2="72.15" stroke="#555" stroke-width="0.8"/>
<text x="354.00" y="76.65" font-size="10.3" text-anchor="end" fill="#231f20" color="#231f20">15</text>
<line x1="358.20" y1="52.40" x2="361.20" y2="52.40" stroke="#555" stroke-width="0.8"/>
<text x="354.00" y="56.90" font-size="10.3" text-anchor="end" fill="#231f20" color="#231f20">20</text>
<line x1="358.20" y1="32.65" x2="361.20" y2="32.65" stroke="#555" stroke-width="0.8"/>
<text x="354.00" y="37.15" font-size="10.3" text-anchor="end" fill="#231f20" color="#231f20">25</text>
<line x1="371.30" y1="131.40" x2="371.30" y2="134.40" stroke="#555" stroke-width="0.8"/>
<text x="376.30" y="144.50" font-size="10.3" text-anchor="end" fill="#231f20" color="#231f20" transform="rotate(-45 376.30 144.50)">0–30</text>
<line x1="390.97" y1="131.40" x2="390.97" y2="134.40" stroke="#555" stroke-width="0.8"/>
<text x="395.97" y="144.50" font-size="10.3" text-anchor="end" fill="#231f20" color="#231f20" transform="rotate(-45 395.97 144.50)">70–100</text>
<line x1="410.64" y1="131.40" x2="410.64" y2="134.40" stroke="#555" stroke-width="0.8"/>
<text x="415.64" y="144.50" font-size="10.3" text-anchor="end" fill="#231f20" color="#231f20" transform="rotate(-45 415.64 144.50)">140–170</text>
<line x1="430.31" y1="131.40" x2="430.31" y2="134.40" stroke="#555" stroke-width="0.8"/>
<text x="435.31" y="144.50" font-size="10.3" text-anchor="end" fill="#231f20" color="#231f20" transform="rotate(-45 435.31 144.50)">210–240</text>
<line x1="449.98" y1="131.40" x2="449.98" y2="134.40" stroke="#555" stroke-width="0.8"/>
<text x="454.98" y="144.50" font-size="10.3" text-anchor="end" fill="#231f20" color="#231f20" transform="rotate(-45 454.98 144.50)">280–310</text>
<line x1="469.65" y1="131.40" x2="469.65" y2="134.40" stroke="#555" stroke-width="0.8"/>
<text x="474.65" y="144.50" font-size="10.3" text-anchor="end" fill="#231f20" color="#231f20" transform="rotate(-45 474.65 144.50)">350–380</text>
<line x1="489.32" y1="131.40" x2="489.32" y2="134.40" stroke="#555" stroke-width="0.8"/>
<text x="494.32" y="144.50" font-size="10.3" text-anchor="end" fill="#231f20" color="#231f20" transform="rotate(-45 494.32 144.50)">420–450</text>
<line x1="508.99" y1="131.40" x2="508.99" y2="134.40" stroke="#555" stroke-width="0.8"/>
<text x="513.99" y="144.50" font-size="10.3" text-anchor="end" fill="#231f20" color="#231f20" transform="rotate(-45 513.99 144.50)">490–520</text>
<line x1="528.66" y1="131.40" x2="528.66" y2="134.40" stroke="#555" stroke-width="0.8"/>
<text x="533.66" y="144.50" font-size="10.3" text-anchor="end" fill="#231f20" color="#231f20" transform="rotate(-45 533.66 144.50)">560–590</text>
<line x1="548.33" y1="131.40" x2="548.33" y2="134.40" stroke="#555" stroke-width="0.8"/>
<text x="553.33" y="144.50" font-size="10.3" text-anchor="end" fill="#231f20" color="#231f20" transform="rotate(-45 553.33 144.50)">630–660</text>
<line x1="568.00" y1="131.40" x2="568.00" y2="134.40" stroke="#555" stroke-width="0.8"/>
<text x="573.00" y="144.50" font-size="10.3" text-anchor="end" fill="#231f20" color="#231f20" transform="rotate(-45 573.00 144.50)">700–730</text>
<text x="469.50" y="190.80" font-size="11.45" text-anchor="middle" fill="#231f20" color="#231f20">Time (s)</text>
<text x="331.30" y="79.30" font-size="10.5" text-anchor="middle" fill="#231f20" color="#231f20" transform="rotate(-90 331.30 79.30)">CBV (a.u.)</text>
<line x1="371.30" y1="92.30" x2="371.30" y2="78.87" stroke="#a8a8a8" stroke-width="0.8"/>
<line x1="369.00" y1="92.30" x2="373.60" y2="92.30" stroke="#a8a8a8" stroke-width="0.8"/>
<line x1="369.00" y1="78.87" x2="373.60" y2="78.87" stroke="#a8a8a8" stroke-width="0.8"/>
<line x1="390.97" y1="92.89" x2="390.97" y2="79.46" stroke="#a8a8a8" stroke-width="0.8"/>
<line x1="388.67" y1="92.89" x2="393.27" y2="92.89" stroke="#a8a8a8" stroke-width="0.8"/>
<line x1="388.67" y1="79.46" x2="393.27" y2="79.46" stroke="#a8a8a8" stroke-width="0.8"/>
<line x1="410.64" y1="91.90" x2="410.64" y2="77.68" stroke="#a8a8a8" stroke-width="0.8"/>
<line x1="408.34" y1="91.90" x2="412.94" y2="91.90" stroke="#a8a8a8" stroke-width="0.8"/>
<line x1="408.34" y1="77.68" x2="412.94" y2="77.68" stroke="#a8a8a8" stroke-width="0.8"/>
<line x1="430.31" y1="91.90" x2="430.31" y2="77.68" stroke="#a8a8a8" stroke-width="0.8"/>
<line x1="428.01" y1="91.90" x2="432.61" y2="91.90" stroke="#a8a8a8" stroke-width="0.8"/>
<line x1="428.01" y1="77.68" x2="432.61" y2="77.68" stroke="#a8a8a8" stroke-width="0.8"/>
<line x1="449.98" y1="91.90" x2="449.98" y2="77.68" stroke="#a8a8a8" stroke-width="0.8"/>
<line x1="447.68" y1="91.90" x2="452.28" y2="91.90" stroke="#a8a8a8" stroke-width="0.8"/>
<line x1="447.68" y1="77.68" x2="452.28" y2="77.68" stroke="#a8a8a8" stroke-width="0.8"/>
<line x1="469.65" y1="91.90" x2="469.65" y2="77.68" stroke="#a8a8a8" stroke-width="0.8"/>
<line x1="467.35" y1="91.90" x2="471.95" y2="91.90" stroke="#a8a8a8" stroke-width="0.8"/>
<line x1="467.35" y1="77.68" x2="471.95" y2="77.68" stroke="#a8a8a8" stroke-width="0.8"/>
<line x1="489.32" y1="90.72" x2="489.32" y2="76.89" stroke="#a8a8a8" stroke-width="0.8"/>
<line x1="487.02" y1="90.72" x2="491.62" y2="90.72" stroke="#a8a8a8" stroke-width="0.8"/>
<line x1="487.02" y1="76.89" x2="491.62" y2="76.89" stroke="#a8a8a8" stroke-width="0.8"/>
<line x1="508.99" y1="91.70" x2="508.99" y2="77.48" stroke="#a8a8a8" stroke-width="0.8"/>
<line x1="506.69" y1="91.70" x2="511.29" y2="91.70" stroke="#a8a8a8" stroke-width="0.8"/>
<line x1="506.69" y1="77.48" x2="511.29" y2="77.48" stroke="#a8a8a8" stroke-width="0.8"/>
<line x1="528.66" y1="91.11" x2="528.66" y2="77.28" stroke="#a8a8a8" stroke-width="0.8"/>
<line x1="526.36" y1="91.11" x2="530.96" y2="91.11" stroke="#a8a8a8" stroke-width="0.8"/>
<line x1="526.36" y1="77.28" x2="530.96" y2="77.28" stroke="#a8a8a8" stroke-width="0.8"/>
<line x1="548.33" y1="91.11" x2="548.33" y2="76.89" stroke="#a8a8a8" stroke-width="0.8"/>
<line x1="546.03" y1="91.11" x2="550.63" y2="91.11" stroke="#a8a8a8" stroke-width="0.8"/>
<line x1="546.03" y1="76.89" x2="550.63" y2="76.89" stroke="#a8a8a8" stroke-width="0.8"/>
<line x1="568.00" y1="91.90" x2="568.00" y2="77.68" stroke="#a8a8a8" stroke-width="0.8"/>
<line x1="565.70" y1="91.90" x2="570.30" y2="91.90" stroke="#a8a8a8" stroke-width="0.8"/>
<line x1="565.70" y1="77.68" x2="570.30" y2="77.68" stroke="#a8a8a8" stroke-width="0.8"/>
<polyline points="371.3,85.6 391.0,86.2 410.6,84.8 430.3,84.8 450.0,84.8 469.7,84.8 489.3,83.8 509.0,84.6 528.7,84.2 548.3,84.0 568.0,84.8" fill="none" stroke="#8a8a8a" stroke-width="1.1"/>
<circle cx="371.30" cy="85.58" r="1.8" fill="#fff" stroke="#8a8a8a" stroke-width="0.9"/>
<circle cx="390.97" cy="86.17" r="1.8" fill="#fff" stroke="#8a8a8a" stroke-width="0.9"/>
<circle cx="410.64" cy="84.79" r="1.8" fill="#fff" stroke="#8a8a8a" stroke-width="0.9"/>
<circle cx="430.31" cy="84.79" r="1.8" fill="#fff" stroke="#8a8a8a" stroke-width="0.9"/>
<circle cx="449.98" cy="84.79" r="1.8" fill="#fff" stroke="#8a8a8a" stroke-width="0.9"/>
<circle cx="469.65" cy="84.79" r="1.8" fill="#fff" stroke="#8a8a8a" stroke-width="0.9"/>
<circle cx="489.32" cy="83.80" r="1.8" fill="#fff" stroke="#8a8a8a" stroke-width="0.9"/>
<circle cx="508.99" cy="84.59" r="1.8" fill="#fff" stroke="#8a8a8a" stroke-width="0.9"/>
<circle cx="528.66" cy="84.20" r="1.8" fill="#fff" stroke="#8a8a8a" stroke-width="0.9"/>
<circle cx="548.33" cy="84.00" r="1.8" fill="#fff" stroke="#8a8a8a" stroke-width="0.9"/>
<circle cx="568.00" cy="84.79" r="1.8" fill="#fff" stroke="#8a8a8a" stroke-width="0.9"/>
<line x1="371.30" y1="70.17" x2="371.30" y2="65.43" stroke="#e05a44" stroke-width="1.1"/>
<line x1="369.00" y1="70.17" x2="373.60" y2="70.17" stroke="#e05a44" stroke-width="1.1"/>
<line x1="369.00" y1="65.43" x2="373.60" y2="65.43" stroke="#e05a44" stroke-width="1.1"/>
<line x1="390.97" y1="70.17" x2="390.97" y2="65.43" stroke="#e05a44" stroke-width="1.1"/>
<line x1="388.67" y1="70.17" x2="393.27" y2="70.17" stroke="#e05a44" stroke-width="1.1"/>
<line x1="388.67" y1="65.43" x2="393.27" y2="65.43" stroke="#e05a44" stroke-width="1.1"/>
<line x1="410.64" y1="68.59" x2="410.64" y2="63.86" stroke="#e05a44" stroke-width="1.1"/>
<line x1="408.34" y1="68.59" x2="412.94" y2="68.59" stroke="#e05a44" stroke-width="1.1"/>
<line x1="408.34" y1="63.86" x2="412.94" y2="63.86" stroke="#e05a44" stroke-width="1.1"/>
<line x1="430.31" y1="69.58" x2="430.31" y2="64.84" stroke="#e05a44" stroke-width="1.1"/>
<line x1="428.01" y1="69.58" x2="432.61" y2="69.58" stroke="#e05a44" stroke-width="1.1"/>
<line x1="428.01" y1="64.84" x2="432.61" y2="64.84" stroke="#e05a44" stroke-width="1.1"/>
<line x1="449.98" y1="68.20" x2="449.98" y2="63.46" stroke="#e05a44" stroke-width="1.1"/>
<line x1="447.68" y1="68.20" x2="452.28" y2="68.20" stroke="#e05a44" stroke-width="1.1"/>
<line x1="447.68" y1="63.46" x2="452.28" y2="63.46" stroke="#e05a44" stroke-width="1.1"/>
<line x1="469.65" y1="67.41" x2="469.65" y2="62.67" stroke="#e05a44" stroke-width="1.1"/>
<line x1="467.35" y1="67.41" x2="471.95" y2="67.41" stroke="#e05a44" stroke-width="1.1"/>
<line x1="467.35" y1="62.67" x2="471.95" y2="62.67" stroke="#e05a44" stroke-width="1.1"/>
<line x1="489.32" y1="67.41" x2="489.32" y2="62.67" stroke="#e05a44" stroke-width="1.1"/>
<line x1="487.02" y1="67.41" x2="491.62" y2="67.41" stroke="#e05a44" stroke-width="1.1"/>
<line x1="487.02" y1="62.67" x2="491.62" y2="62.67" stroke="#e05a44" stroke-width="1.1"/>
<line x1="508.99" y1="68.59" x2="508.99" y2="63.86" stroke="#e05a44" stroke-width="1.1"/>
<line x1="506.69" y1="68.59" x2="511.29" y2="68.59" stroke="#e05a44" stroke-width="1.1"/>
<line x1="506.69" y1="63.86" x2="511.29" y2="63.86" stroke="#e05a44" stroke-width="1.1"/>
<line x1="528.66" y1="67.61" x2="528.66" y2="62.87" stroke="#e05a44" stroke-width="1.1"/>
<line x1="526.36" y1="67.61" x2="530.96" y2="67.61" stroke="#e05a44" stroke-width="1.1"/>
<line x1="526.36" y1="62.87" x2="530.96" y2="62.87" stroke="#e05a44" stroke-width="1.1"/>
<line x1="548.33" y1="67.61" x2="548.33" y2="62.87" stroke="#e05a44" stroke-width="1.1"/>
<line x1="546.03" y1="67.61" x2="550.63" y2="67.61" stroke="#e05a44" stroke-width="1.1"/>
<line x1="546.03" y1="62.87" x2="550.63" y2="62.87" stroke="#e05a44" stroke-width="1.1"/>
<line x1="568.00" y1="64.05" x2="568.00" y2="59.31" stroke="#e05a44" stroke-width="1.1"/>
<line x1="565.70" y1="64.05" x2="570.30" y2="64.05" stroke="#e05a44" stroke-width="1.1"/>
<line x1="565.70" y1="59.31" x2="570.30" y2="59.31" stroke="#e05a44" stroke-width="1.1"/>
<polyline points="371.3,67.8 391.0,67.8 410.6,66.2 430.3,67.2 450.0,65.8 469.7,65.0 489.3,65.0 509.0,66.2 528.7,65.2 548.3,65.2 568.0,61.7" fill="none" stroke="#d93c22" stroke-width="1.35"/>
<circle cx="371.30" cy="67.81" r="1.8" fill="#fff" stroke="#d93c22" stroke-width="1.2"/>
<circle cx="390.97" cy="67.81" r="1.8" fill="#fff" stroke="#d93c22" stroke-width="1.2"/>
<circle cx="410.64" cy="66.23" r="1.8" fill="#fff" stroke="#d93c22" stroke-width="1.2"/>
<circle cx="430.31" cy="67.21" r="1.8" fill="#fff" stroke="#d93c22" stroke-width="1.2"/>
<circle cx="449.98" cy="65.83" r="1.8" fill="#fff" stroke="#d93c22" stroke-width="1.2"/>
<circle cx="469.65" cy="65.04" r="1.8" fill="#fff" stroke="#d93c22" stroke-width="1.2"/>
<circle cx="489.32" cy="65.04" r="1.8" fill="#fff" stroke="#d93c22" stroke-width="1.2"/>
<circle cx="508.99" cy="66.23" r="1.8" fill="#fff" stroke="#d93c22" stroke-width="1.2"/>
<circle cx="528.66" cy="65.24" r="1.8" fill="#fff" stroke="#d93c22" stroke-width="1.2"/>
<circle cx="548.33" cy="65.24" r="1.8" fill="#fff" stroke="#d93c22" stroke-width="1.2"/>
<circle cx="568.00" cy="61.68" r="1.8" fill="#fff" stroke="#d93c22" stroke-width="1.2"/>
<line x1="380.70" y1="21.40" x2="390.40" y2="21.40" stroke="#909090" stroke-width="1.6"/>
<text x="395.40" y="25.10" font-size="10.4" text-anchor="start" fill="#231f20" color="#231f20">Control</text>
<line x1="380.70" y1="36.00" x2="390.40" y2="36.00" stroke="#d9402b" stroke-width="1.6"/>
<text x="395.40" y="39.70" font-size="9.9" text-anchor="start" fill="#d9402b" color="#d9402b" font-style="italic">Eng-iKO<tspan font-size="6.3" dy="-3.8">e</tspan></text>
<rect x="637.10" y="94.29" width="13.70" height="36.91" fill="#bdbdbd" stroke="#6f6f6f" stroke-width="1.0"/>
<rect x="658.00" y="78.83" width="13.80" height="52.37" fill="#f0938a" stroke="#dc3f2c" stroke-width="1.0"/>
<circle cx="643.95" cy="69.68" r="1.3" fill="#fff" fill-opacity="0.6" stroke="#9a9a9a" stroke-width="0.7"/>
<circle cx="643.95" cy="98.70" r="1.3" fill="#fff" fill-opacity="0.6" stroke="#9a9a9a" stroke-width="0.7"/>
<circle cx="641.95" cy="105.01" r="1.3" fill="#fff" fill-opacity="0.6" stroke="#9a9a9a" stroke-width="0.7"/>
<circle cx="645.95" cy="104.38" r="1.3" fill="#fff" fill-opacity="0.6" stroke="#9a9a9a" stroke-width="0.7"/>
<circle cx="643.95" cy="111.32" r="1.3" fill="#fff" fill-opacity="0.6" stroke="#9a9a9a" stroke-width="0.7"/>
<line x1="643.95" y1="99.97" x2="643.95" y2="88.61" stroke="#222" stroke-width="0.8"/>
<line x1="640.95" y1="88.61" x2="646.95" y2="88.61" stroke="#222" stroke-width="0.8"/>
<line x1="640.95" y1="99.97" x2="646.95" y2="99.97" stroke="#222" stroke-width="0.8"/>
<circle cx="662.90" cy="70.31" r="1.3" fill="#fff" fill-opacity="0.6" stroke="#e0533f" stroke-width="0.7"/>
<circle cx="666.90" cy="72.20" r="1.3" fill="#fff" fill-opacity="0.6" stroke="#e0533f" stroke-width="0.7"/>
<circle cx="664.90" cy="75.04" r="1.3" fill="#fff" fill-opacity="0.6" stroke="#e0533f" stroke-width="0.7"/>
<circle cx="661.90" cy="80.72" r="1.3" fill="#fff" fill-opacity="0.6" stroke="#e0533f" stroke-width="0.7"/>
<circle cx="667.90" cy="80.09" r="1.3" fill="#fff" fill-opacity="0.6" stroke="#e0533f" stroke-width="0.7"/>
<circle cx="662.90" cy="86.71" r="1.3" fill="#fff" fill-opacity="0.6" stroke="#e0533f" stroke-width="0.7"/>
<circle cx="666.90" cy="85.77" r="1.3" fill="#fff" fill-opacity="0.6" stroke="#e0533f" stroke-width="0.7"/>
<line x1="664.90" y1="81.04" x2="664.90" y2="76.62" stroke="#222" stroke-width="0.8"/>
<line x1="661.90" y1="76.62" x2="667.90" y2="76.62" stroke="#222" stroke-width="0.8"/>
<line x1="661.90" y1="81.04" x2="667.90" y2="81.04" stroke="#222" stroke-width="0.8"/>
<line x1="629.80" y1="52.02" x2="629.80" y2="131.20" stroke="#b0b0b0" stroke-width="0.9"/>
<line x1="627.20" y1="131.20" x2="678.80" y2="131.20" stroke="#808080" stroke-width="1.2"/>
<line x1="627.20" y1="131.20" x2="629.80" y2="131.20" stroke="#555" stroke-width="0.8"/>
<text x="621.50" y="135.70" font-size="10.3" text-anchor="end" fill="#231f20" color="#231f20">0</text>
<line x1="627.20" y1="115.42" x2="629.80" y2="115.42" stroke="#555" stroke-width="0.8"/>
<text x="621.50" y="119.92" font-size="10.3" text-anchor="end" fill="#231f20" color="#231f20">5</text>
<line x1="627.20" y1="99.65" x2="629.80" y2="99.65" stroke="#555" stroke-width="0.8"/>
<text x="621.50" y="104.15" font-size="10.3" text-anchor="end" fill="#231f20" color="#231f20">10</text>
<line x1="627.20" y1="83.88" x2="629.80" y2="83.88" stroke="#555" stroke-width="0.8"/>
<text x="621.50" y="88.38" font-size="10.3" text-anchor="end" fill="#231f20" color="#231f20">15</text>
<line x1="627.20" y1="68.10" x2="629.80" y2="68.10" stroke="#555" stroke-width="0.8"/>
<text x="621.50" y="72.60" font-size="10.3" text-anchor="end" fill="#231f20" color="#231f20">20</text>
<line x1="627.20" y1="52.32" x2="629.80" y2="52.32" stroke="#555" stroke-width="0.8"/>
<text x="621.50" y="56.82" font-size="10.3" text-anchor="end" fill="#231f20" color="#231f20">25</text>
<text x="648.95" y="144.70" font-size="12.2" text-anchor="end" fill="#231f20" color="#231f20" transform="rotate(-45 648.95 144.70)">Control</text>
<text x="672.10" y="144.20" font-size="11.2" text-anchor="end" fill="#231f20" color="#231f20" font-style="italic" transform="rotate(-45 672.10 144.20)">Eng-iKO<tspan font-size="7.0" dy="-4.5">e</tspan></text>
<text x="598.80" y="91.00" font-size="10.5" text-anchor="middle" fill="#231f20" color="#231f20" transform="rotate(-90 598.80 91.00)">CBV (a.u.)</text>
<text x="644.70" y="65.50" font-size="9.9" text-anchor="start" fill="#231f20" color="#231f20"><tspan font-style="italic">P</tspan> = 0.012</text>
<rect x="367.20" y="471.01" width="13.20" height="40.69" fill="#bdbdbd" stroke="#6f6f6f" stroke-width="1.0"/>
<rect x="388.40" y="483.26" width="13.30" height="28.44" fill="#f0938a" stroke="#dc3f2c" stroke-width="1.0"/>
<circle cx="373.80" cy="457.19" r="1.3" fill="#fff" fill-opacity="0.6" stroke="#9a9a9a" stroke-width="0.7"/>
<circle cx="373.80" cy="461.93" r="1.3" fill="#fff" fill-opacity="0.6" stroke="#9a9a9a" stroke-width="0.7"/>
<circle cx="371.80" cy="478.91" r="1.3" fill="#fff" fill-opacity="0.6" stroke="#9a9a9a" stroke-width="0.7"/>
<circle cx="375.80" cy="478.52" r="1.3" fill="#fff" fill-opacity="0.6" stroke="#9a9a9a" stroke-width="0.7"/>
<line x1="373.80" y1="474.57" x2="373.80" y2="467.46" stroke="#222" stroke-width="0.8"/>
<line x1="370.80" y1="467.46" x2="376.80" y2="467.46" stroke="#222" stroke-width="0.8"/>
<line x1="370.80" y1="474.57" x2="376.80" y2="474.57" stroke="#222" stroke-width="0.8"/>
<circle cx="392.05" cy="472.20" r="1.25" fill="#e0533f" stroke="none"/>
<circle cx="394.05" cy="474.57" r="1.25" fill="#e0533f" stroke="none"/>
<circle cx="397.05" cy="472.20" r="1.25" fill="#e0533f" stroke="none"/>
<circle cx="395.05" cy="475.36" r="1.25" fill="#e0533f" stroke="none"/>
<circle cx="395.05" cy="492.74" r="1.25" fill="#e0533f" stroke="none"/>
<circle cx="395.05" cy="499.06" r="1.25" fill="#e0533f" stroke="none"/>
<line x1="395.05" y1="487.21" x2="395.05" y2="479.31" stroke="#222" stroke-width="0.8"/>
<line x1="392.05" y1="479.31" x2="398.05" y2="479.31" stroke="#222" stroke-width="0.8"/>
<line x1="392.05" y1="487.21" x2="398.05" y2="487.21" stroke="#222" stroke-width="0.8"/>
<line x1="359.60" y1="432.40" x2="359.60" y2="511.70" stroke="#5a5a5a" stroke-width="0.9"/>
<line x1="357.00" y1="511.70" x2="408.90" y2="511.70" stroke="#b8b8b8" stroke-width="1.2"/>
<line x1="357.00" y1="511.70" x2="359.60" y2="511.70" stroke="#555" stroke-width="0.8"/>
<text x="351.30" y="516.20" font-size="10.3" text-anchor="end" fill="#231f20" color="#231f20">0</text>
<line x1="357.00" y1="491.95" x2="359.60" y2="491.95" stroke="#555" stroke-width="0.8"/>
<text x="351.30" y="496.45" font-size="10.3" text-anchor="end" fill="#231f20" color="#231f20">5</text>
<line x1="357.00" y1="472.20" x2="359.60" y2="472.20" stroke="#555" stroke-width="0.8"/>
<text x="351.30" y="476.70" font-size="10.3" text-anchor="end" fill="#231f20" color="#231f20">10</text>
<line x1="357.00" y1="452.45" x2="359.60" y2="452.45" stroke="#555" stroke-width="0.8"/>
<text x="351.30" y="456.95" font-size="10.3" text-anchor="end" fill="#231f20" color="#231f20">15</text>
<line x1="357.00" y1="432.70" x2="359.60" y2="432.70" stroke="#555" stroke-width="0.8"/>
<text x="351.30" y="437.20" font-size="10.3" text-anchor="end" fill="#231f20" color="#231f20">20</text>
<text x="378.80" y="525.20" font-size="12.2" text-anchor="end" fill="#231f20" color="#231f20" transform="rotate(-45 378.80 525.20)">Control</text>
<text x="402.25" y="524.70" font-size="11.2" text-anchor="end" fill="#231f20" color="#231f20" font-style="italic" transform="rotate(-45 402.25 524.70)">Eng-iKO<tspan font-size="7.0" dy="-4.5">e</tspan></text>
<text x="331.50" y="472.90" font-size="10.5" text-anchor="middle" fill="#231f20" color="#231f20" transform="rotate(-90 331.50 472.90)">ΔCBV (%)</text>
<text x="378.60" y="461.00" font-size="9.9" text-anchor="start" fill="#231f20" color="#231f20"><tspan font-style="italic">P</tspan> = 0.047</text>
<text x="387.50" y="434.00" font-size="11.45" text-anchor="middle" fill="#f58fd6" color="#f58fd6">Early</text>
<rect x="496.20" y="471.02" width="14.10" height="40.48" fill="#bdbdbd" stroke="#6f6f6f" stroke-width="1.0"/>
<rect x="517.50" y="474.56" width="14.00" height="36.94" fill="#f0938a" stroke="#dc3f2c" stroke-width="1.0"/>
<circle cx="503.25" cy="456.87" r="1.3" fill="#fff" fill-opacity="0.6" stroke="#9a9a9a" stroke-width="0.7"/>
<circle cx="503.25" cy="461.20" r="1.3" fill="#fff" fill-opacity="0.6" stroke="#9a9a9a" stroke-width="0.7"/>
<circle cx="502.25" cy="476.52" r="1.3" fill="#fff" fill-opacity="0.6" stroke="#9a9a9a" stroke-width="0.7"/>
<circle cx="504.25" cy="474.95" r="1.3" fill="#fff" fill-opacity="0.6" stroke="#9a9a9a" stroke-width="0.7"/>
<circle cx="503.25" cy="486.35" r="1.3" fill="#fff" fill-opacity="0.6" stroke="#9a9a9a" stroke-width="0.7"/>
<line x1="503.25" y1="475.74" x2="503.25" y2="466.31" stroke="#222" stroke-width="0.8"/>
<line x1="500.25" y1="466.31" x2="506.25" y2="466.31" stroke="#222" stroke-width="0.8"/>
<line x1="500.25" y1="475.74" x2="506.25" y2="475.74" stroke="#222" stroke-width="0.8"/>
<circle cx="524.50" cy="459.23" r="1.25" fill="#e0533f" stroke="none"/>
<circle cx="524.50" cy="468.66" r="1.25" fill="#e0533f" stroke="none"/>
<circle cx="522.50" cy="476.13" r="1.25" fill="#e0533f" stroke="none"/>
<circle cx="526.50" cy="476.92" r="1.25" fill="#e0533f" stroke="none"/>
<circle cx="524.50" cy="480.85" r="1.25" fill="#e0533f" stroke="none"/>
<circle cx="524.50" cy="490.28" r="1.25" fill="#e0533f" stroke="none"/>
<line x1="524.50" y1="478.10" x2="524.50" y2="471.02" stroke="#222" stroke-width="0.8"/>
<line x1="521.50" y1="471.02" x2="527.50" y2="471.02" stroke="#222" stroke-width="0.8"/>
<line x1="521.50" y1="478.10" x2="527.50" y2="478.10" stroke="#222" stroke-width="0.8"/>
<line x1="489.50" y1="432.60" x2="489.50" y2="511.50" stroke="#5a5a5a" stroke-width="0.9"/>
<line x1="486.90" y1="511.50" x2="538.90" y2="511.50" stroke="#8a8a8a" stroke-width="1.2"/>
<line x1="486.90" y1="511.50" x2="489.50" y2="511.50" stroke="#555" stroke-width="0.8"/>
<text x="481.20" y="516.00" font-size="10.3" text-anchor="end" fill="#231f20" color="#231f20">0</text>
<line x1="486.90" y1="491.85" x2="489.50" y2="491.85" stroke="#555" stroke-width="0.8"/>
<text x="481.20" y="496.35" font-size="10.3" text-anchor="end" fill="#231f20" color="#231f20">5</text>
<line x1="486.90" y1="472.20" x2="489.50" y2="472.20" stroke="#555" stroke-width="0.8"/>
<text x="481.20" y="476.70" font-size="10.3" text-anchor="end" fill="#231f20" color="#231f20">10</text>
<line x1="486.90" y1="452.55" x2="489.50" y2="452.55" stroke="#555" stroke-width="0.8"/>
<text x="481.20" y="457.05" font-size="10.3" text-anchor="end" fill="#231f20" color="#231f20">15</text>
<line x1="486.90" y1="432.90" x2="489.50" y2="432.90" stroke="#555" stroke-width="0.8"/>
<text x="481.20" y="437.40" font-size="10.3" text-anchor="end" fill="#231f20" color="#231f20">20</text>
<text x="508.25" y="525.00" font-size="12.2" text-anchor="end" fill="#231f20" color="#231f20" transform="rotate(-45 508.25 525.00)">Control</text>
<text x="531.70" y="524.50" font-size="11.2" text-anchor="end" fill="#231f20" color="#231f20" font-style="italic" transform="rotate(-45 531.70 524.50)">Eng-iKO<tspan font-size="7.0" dy="-4.5">e</tspan></text>
<text x="466.30" y="472.90" font-size="10.5" text-anchor="middle" fill="#231f20" color="#231f20" transform="rotate(-90 466.30 472.90)">ΔCBV (%)</text>
<text x="507.70" y="452.80" font-size="9.9" text-anchor="start" fill="#231f20" color="#231f20"><tspan font-style="italic">P</tspan> = 0.538</text>
<text x="516.00" y="434.00" font-size="11.45" text-anchor="middle" fill="#8c8cf2" color="#8c8cf2">Late</text>
<rect x="625.00" y="486.74" width="13.80" height="25.46" fill="#bdbdbd" stroke="#6f6f6f" stroke-width="1.0"/>
<rect x="646.30" y="474.40" width="13.70" height="37.80" fill="#f0938a" stroke="#dc3f2c" stroke-width="1.0"/>
<circle cx="631.90" cy="469.68" r="1.3" fill="#fff" fill-opacity="0.6" stroke="#9a9a9a" stroke-width="0.7"/>
<circle cx="631.90" cy="480.70" r="1.3" fill="#fff" fill-opacity="0.6" stroke="#9a9a9a" stroke-width="0.7"/>
<circle cx="631.90" cy="489.10" r="1.3" fill="#fff" fill-opacity="0.6" stroke="#9a9a9a" stroke-width="0.7"/>
<circle cx="631.90" cy="496.98" r="1.3" fill="#fff" fill-opacity="0.6" stroke="#9a9a9a" stroke-width="0.7"/>
<line x1="631.90" y1="490.94" x2="631.90" y2="482.54" stroke="#222" stroke-width="0.8"/>
<line x1="628.90" y1="482.54" x2="634.90" y2="482.54" stroke="#222" stroke-width="0.8"/>
<line x1="628.90" y1="490.94" x2="634.90" y2="490.94" stroke="#222" stroke-width="0.8"/>
<circle cx="653.15" cy="457.60" r="1.25" fill="#e0533f" stroke="none"/>
<circle cx="653.15" cy="467.58" r="1.25" fill="#e0533f" stroke="none"/>
<circle cx="653.15" cy="473.88" r="1.25" fill="#e0533f" stroke="none"/>
<circle cx="651.15" cy="475.98" r="1.25" fill="#e0533f" stroke="none"/>
<circle cx="655.15" cy="478.08" r="1.25" fill="#e0533f" stroke="none"/>
<circle cx="653.15" cy="483.33" r="1.25" fill="#e0533f" stroke="none"/>
<circle cx="653.15" cy="488.05" r="1.25" fill="#e0533f" stroke="none"/>
<line x1="653.15" y1="477.55" x2="653.15" y2="471.25" stroke="#222" stroke-width="0.8"/>
<line x1="650.15" y1="471.25" x2="656.15" y2="471.25" stroke="#222" stroke-width="0.8"/>
<line x1="650.15" y1="477.55" x2="656.15" y2="477.55" stroke="#222" stroke-width="0.8"/>
<line x1="617.60" y1="433.15" x2="617.60" y2="512.20" stroke="#b0b0b0" stroke-width="0.9"/>
<line x1="615.00" y1="512.20" x2="667.50" y2="512.20" stroke="#707070" stroke-width="1.2"/>
<line x1="615.00" y1="512.20" x2="617.60" y2="512.20" stroke="#555" stroke-width="0.8"/>
<text x="609.30" y="516.70" font-size="10.3" text-anchor="end" fill="#231f20" color="#231f20">0</text>
<line x1="615.00" y1="485.95" x2="617.60" y2="485.95" stroke="#555" stroke-width="0.8"/>
<text x="609.30" y="490.45" font-size="10.3" text-anchor="end" fill="#231f20" color="#231f20">5</text>
<line x1="615.00" y1="459.70" x2="617.60" y2="459.70" stroke="#555" stroke-width="0.8"/>
<text x="609.30" y="464.20" font-size="10.3" text-anchor="end" fill="#231f20" color="#231f20">10</text>
<line x1="615.00" y1="433.45" x2="617.60" y2="433.45" stroke="#555" stroke-width="0.8"/>
<text x="609.30" y="437.95" font-size="10.3" text-anchor="end" fill="#231f20" color="#231f20">15</text>
<text x="636.90" y="525.70" font-size="12.2" text-anchor="end" fill="#231f20" color="#231f20" transform="rotate(-45 636.90 525.70)">Control</text>
<text x="660.35" y="525.20" font-size="11.2" text-anchor="end" fill="#231f20" color="#231f20" font-style="italic" transform="rotate(-45 660.35 525.20)">Eng-iKO<tspan font-size="7.0" dy="-4.5">e</tspan></text>
<text x="587.60" y="472.60" font-size="10.7" text-anchor="middle" fill="#231f20" color="#231f20" transform="rotate(-90 587.60 472.60)">Rise time (s)</text>
<text x="637.00" y="446.80" font-size="9.9" text-anchor="start" fill="#231f20" color="#231f20"><tspan font-style="italic">P</tspan> = 0.035</text>
<text x="645.20" y="434.00" font-size="11.45" text-anchor="middle" fill="#f58fd6" color="#f58fd6">Early</text>
<rect x="489.40" y="229.30" width="87.60" height="140.40" fill="#e3f3fc"/>
<line x1="431.00" y1="229.30" x2="431.00" y2="369.70" stroke="#b0b0b0" stroke-width="0.75"/>
<line x1="460.20" y1="229.30" x2="460.20" y2="369.70" stroke="#b0b0b0" stroke-width="0.75"/>
<line x1="489.40" y1="229.30" x2="489.40" y2="369.70" stroke="#7a7a7a" stroke-width="0.75"/>
<line x1="518.60" y1="229.30" x2="518.60" y2="369.70" stroke="#7a7a7a" stroke-width="0.75"/>
<line x1="547.80" y1="229.30" x2="547.80" y2="369.70" stroke="#7a7a7a" stroke-width="0.75"/>
<line x1="577.00" y1="229.30" x2="577.00" y2="369.70" stroke="#7a7a7a" stroke-width="0.75"/>
<line x1="606.20" y1="229.30" x2="606.20" y2="369.70" stroke="#b0b0b0" stroke-width="0.75"/>
<line x1="401.80" y1="229.30" x2="606.20" y2="229.30" stroke="#8a8a8a" stroke-width="0.7"/>
<line x1="401.80" y1="276.10" x2="606.20" y2="276.10" stroke="#555" stroke-width="0.7"/>
<polygon points="401.8,319.6 402.1,318.4 402.4,314.7 402.7,319.3 403.0,318.9 403.3,320.0 403.6,318.3 403.8,318.6 404.1,320.5 404.4,320.9 404.7,318.7 405.0,323.2 405.3,318.9 405.6,319.7 405.9,316.8 406.2,319.5 406.5,316.8 406.8,318.2 407.1,320.6 407.3,324.6 407.6,320.1 407.9,319.3 408.2,320.8 408.5,319.0 408.8,321.6 409.1,321.7 409.4,315.5 409.7,319.8 410.0,321.2 410.3,319.9 410.6,317.4 410.9,321.2 411.1,319.3 411.4,319.2 411.7,321.4 412.0,319.2 412.3,322.0 412.6,318.1 412.9,320.4 413.2,316.7 413.5,318.6 413.8,319.9 414.1,323.2 414.4,321.7 414.6,323.6 414.9,323.0 415.2,324.6 415.5,320.6 415.8,319.5 416.1,322.7 416.4,323.2 416.7,323.2 417.0,324.4 417.3,320.4 417.6,324.3 417.9,321.9 418.2,323.6 418.4,320.7 418.7,319.8 419.0,321.0 419.3,323.7 419.6,321.6 419.9,318.6 420.2,322.0 420.5,319.1 420.8,321.6 421.1,323.6 421.4,322.9 421.7,325.5 421.9,323.9 422.2,320.1 422.5,327.2 422.8,322.8 423.1,323.3 423.4,325.6 423.7,323.0 424.0,324.4 424.3,322.0 424.6,324.5 424.9,322.0 425.2,325.3 425.5,325.7 425.7,322.8 426.0,325.9 426.3,323.8 426.6,323.4 426.9,323.5 427.2,322.9 427.5,319.5 427.8,325.3 428.1,325.0 428.4,321.7 428.7,325.3 429.0,325.3 429.2,323.4 429.5,321.6 429.8,321.2 430.1,322.8 430.4,321.6 430.7,324.3 431.0,319.4 431.3,321.3 431.6,321.1 431.9,323.1 432.2,321.8 432.5,322.4 432.8,325.1 433.0,323.2 433.3,326.1 433.6,324.5 433.9,322.6 434.2,324.7 434.5,324.9 434.8,324.4 435.1,321.1 435.4,321.9 435.7,322.9 436.0,321.7 436.3,324.0 436.5,325.3 436.8,322.1 437.1,327.4 437.4,324.6 437.7,322.4 438.0,324.5 438.3,325.9 438.6,321.6 438.9,321.6 439.2,318.7 439.5,323.3 439.8,322.9 440.1,323.0 440.3,318.9 440.6,319.6 440.9,323.5 441.2,324.1 441.5,322.3 441.8,325.3 442.1,320.6 442.4,321.6 442.7,323.1 443.0,322.0 443.3,323.5 443.6,324.1 443.8,320.5 444.1,322.7 444.4,326.8 444.7,327.5 445.0,326.1 445.3,324.5 445.6,323.0 445.9,328.8 446.2,322.1 446.5,322.8 446.8,320.9 447.1,320.7 447.4,321.5 447.6,320.3 447.9,325.6 448.2,321.0 448.5,327.0 448.8,328.3 449.1,323.7 449.4,325.2 449.7,328.2 450.0,326.1 450.3,328.3 450.6,327.2 450.9,327.2 451.1,329.6 451.4,325.5 451.7,328.9 452.0,326.2 452.3,323.7 452.6,324.0 452.9,326.7 453.2,326.5 453.5,324.0 453.8,327.9 454.1,322.3 454.4,325.0 454.7,322.9 454.9,324.9 455.2,324.1 455.5,326.0 455.8,323.9 456.1,323.7 456.4,324.6 456.7,326.3 457.0,326.4 457.3,324.9 457.6,323.1 457.9,325.4 458.2,321.1 458.4,321.0 458.7,321.6 459.0,324.8 459.3,323.2 459.6,325.7 459.9,321.0 460.2,321.0 460.5,323.5 460.8,324.5 461.1,318.4 461.4,320.3 461.7,321.4 462.0,322.2 462.2,320.5 462.5,318.2 462.8,321.5 463.1,320.6 463.4,319.9 463.7,318.5 464.0,317.6 464.3,319.2 464.6,317.9 464.9,317.7 465.2,318.3 465.5,317.3 465.7,319.8 466.0,316.1 466.3,316.0 466.6,315.6 466.9,317.6 467.2,312.8 467.5,316.6 467.8,319.2 468.1,320.1 468.4,319.3 468.7,318.7 469.0,315.4 469.3,316.5 469.5,318.4 469.8,319.3 470.1,317.7 470.4,321.2 470.7,312.7 471.0,315.9 471.3,315.5 471.6,310.5 471.9,314.2 472.2,313.4 472.5,314.1 472.8,312.6 473.0,312.5 473.3,315.2 473.6,313.0 473.9,313.4 474.2,312.9 474.5,315.3 474.8,317.1 475.1,315.7 475.4,316.6 475.7,314.5 476.0,313.0 476.3,319.1 476.6,315.9 476.8,319.8 477.1,318.2 477.4,315.8 477.7,317.5 478.0,314.8 478.3,316.0 478.6,315.2 478.9,313.0 479.2,314.2 479.5,313.0 479.8,315.6 480.1,314.1 480.3,317.7 480.6,314.9 480.9,317.8 481.2,315.0 481.5,311.3 481.8,312.5 482.1,314.4 482.4,315.9 482.7,314.0 483.0,317.7 483.3,316.0 483.6,316.4 483.9,314.5 484.1,315.8 484.4,313.1 484.7,318.7 485.0,315.7 485.3,312.9 485.6,313.3 485.9,318.1 486.2,311.3 486.5,312.4 486.8,313.5 487.1,318.0 487.4,310.9 487.6,317.5 487.9,311.9 488.2,315.3 488.5,314.5 488.8,312.5 489.1,316.8 489.4,310.0 489.7,312.4 490.0,313.0 490.3,314.9 490.6,316.0 490.9,312.7 491.2,313.6 491.4,316.6 491.7,315.2 492.0,315.0 492.3,310.4 492.6,314.0 492.9,314.3 493.2,311.0 493.5,311.3 493.8,316.4 494.1,311.1 494.4,312.0 494.7,308.8 494.9,311.0 495.2,312.3 495.5,303.5 495.8,310.1 496.1,312.5 496.4,308.1 496.7,304.5 497.0,303.6 497.3,302.8 497.6,303.1 497.9,295.8 498.2,302.0 498.5,293.4 498.7,297.8 499.0,290.0 499.3,289.1 499.6,284.6 499.9,288.5 500.2,284.4 500.5,285.6 500.8,282.9 501.1,284.5 501.4,282.0 501.7,281.1 502.0,277.6 502.2,278.6 502.5,275.6 502.8,274.3 503.1,271.7 503.4,272.1 503.7,271.9 504.0,275.1 504.3,265.3 504.6,273.4 504.9,270.4 505.2,265.8 505.5,269.7 505.8,264.0 506.0,267.9 506.3,268.0 506.6,261.1 506.9,263.8 507.2,260.9 507.5,257.5 507.8,260.2 508.1,259.9 508.4,262.2 508.7,262.0 509.0,259.6 509.3,255.3 509.5,264.1 509.8,260.6 510.1,257.9 510.4,257.8 510.7,259.7 511.0,263.1 511.3,260.4 511.6,261.9 511.9,261.1 512.2,256.7 512.5,251.5 512.8,250.7 513.1,260.6 513.3,251.5 513.6,263.0 513.9,260.0 514.2,257.7 514.5,252.5 514.8,259.7 515.1,253.9 515.4,260.1 515.7,256.7 516.0,259.7 516.3,257.1 516.6,257.6 516.8,249.3 517.1,248.8 517.4,250.4 517.7,246.9 518.0,254.9 518.3,259.0 518.6,257.3 518.9,260.7 519.2,256.8 519.5,255.6 519.8,257.6 520.1,256.1 520.4,255.8 520.6,260.4 520.9,263.3 521.2,258.3 521.5,261.9 521.8,263.4 522.1,266.3 522.4,255.8 522.7,258.0 523.0,261.2 523.3,262.6 523.6,259.4 523.9,262.6 524.1,256.9 524.4,269.6 524.7,261.6 525.0,258.0 525.3,257.7 525.6,257.8 525.9,259.5 526.2,259.5 526.5,260.2 526.8,265.2 527.1,270.7 527.4,267.5 527.7,260.1 527.9,267.5 528.2,254.2 528.5,259.0 528.8,266.6 529.1,259.8 529.4,265.0 529.7,258.6 530.0,265.5 530.3,259.3 530.6,266.0 530.9,267.7 531.2,268.9 531.4,261.5 531.7,269.5 532.0,261.6 532.3,270.5 532.6,262.8 532.9,261.5 533.2,265.9 533.5,266.1 533.8,256.6 534.1,267.4 534.4,262.6 534.7,262.3 535.0,266.7 535.2,271.1 535.5,264.5 535.8,265.4 536.1,263.1 536.4,265.7 536.7,271.0 537.0,271.9 537.3,267.8 537.6,267.7 537.9,264.9 538.2,265.7 538.5,269.1 538.7,270.1 539.0,267.9 539.3,265.8 539.6,265.7 539.9,266.4 540.2,269.2 540.5,265.7 540.8,265.5 541.1,268.0 541.4,266.2 541.7,270.5 542.0,270.2 542.3,270.1 542.5,265.2 542.8,269.3 543.1,271.9 543.4,268.7 543.7,265.6 544.0,265.9 544.3,268.2 544.6,273.9 544.9,268.0 545.2,275.9 545.5,267.5 545.8,266.5 546.0,275.4 546.3,269.9 546.6,274.0 546.9,269.9 547.2,271.3 547.5,272.2 547.8,267.2 548.1,270.8 548.4,268.0 548.7,267.9 549.0,274.1 549.3,272.9 549.6,268.1 549.8,268.9 550.1,275.1 550.4,267.4 550.7,271.7 551.0,268.0 551.3,271.8 551.6,268.9 551.9,269.7 552.2,272.1 552.5,276.0 552.8,271.0 553.1,278.3 553.3,274.8 553.6,277.9 553.9,279.7 554.2,276.2 554.5,277.3 554.8,278.6 555.1,269.9 555.4,274.0 555.7,266.2 556.0,269.3 556.3,273.2 556.6,276.5 556.9,279.4 557.1,278.1 557.4,279.5 557.7,277.4 558.0,274.2 558.3,274.7 558.6,269.4 558.9,278.0 559.2,269.5 559.5,276.6 559.8,267.5 560.1,269.3 560.4,267.5 560.6,273.8 560.9,277.2 561.2,277.1 561.5,272.9 561.8,280.0 562.1,271.6 562.4,274.0 562.7,276.4 563.0,270.5 563.3,274.8 563.6,274.4 563.9,271.7 564.2,275.1 564.4,276.4 564.7,279.2 565.0,274.1 565.3,276.5 565.6,271.2 565.9,272.0 566.2,275.5 566.5,273.2 566.8,275.1 567.1,270.7 567.4,273.6 567.7,274.9 567.9,270.8 568.2,275.8 568.5,275.5 568.8,278.9 569.1,276.7 569.4,276.3 569.7,274.6 570.0,280.5 570.3,281.0 570.6,273.8 570.9,272.1 571.2,276.4 571.5,279.6 571.7,281.0 572.0,275.9 572.3,279.4 572.6,276.3 572.9,279.2 573.2,274.6 573.5,278.0 573.8,275.9 574.1,278.5 574.4,279.5 574.7,280.9 575.0,276.6 575.2,283.5 575.5,276.0 575.8,280.7 576.1,278.1 576.4,275.3 576.7,280.7 577.0,274.9 577.3,279.9 577.6,272.9 577.9,276.9 578.2,272.9 578.5,278.6 578.8,277.6 579.0,279.9 579.3,275.9 579.6,278.2 579.9,277.3 580.2,270.1 580.5,274.9 580.8,281.1 581.1,279.1 581.4,277.6 581.7,281.6 582.0,280.5 582.3,277.8 582.5,279.8 582.8,274.4 583.1,286.3 583.4,281.0 583.7,277.3 584.0,281.3 584.3,280.0 584.6,289.0 584.9,285.4 585.2,287.5 585.5,284.6 585.8,282.6 586.1,287.7 586.3,283.0 586.6,286.9 586.9,287.1 587.2,290.1 587.5,288.2 587.8,291.2 588.1,289.9 588.4,289.1 588.7,295.5 589.0,293.2 589.3,301.9 589.6,295.2 589.8,300.1 590.1,296.4 590.4,297.7 590.7,297.4 591.0,298.1 591.3,301.6 591.6,300.0 591.9,305.1 592.2,303.5 592.5,304.2 592.8,305.6 593.1,304.0 593.4,305.3 593.6,308.3 593.9,307.5 594.2,308.1 594.5,310.7 594.8,308.7 595.1,308.6 595.4,312.7 595.7,309.7 596.0,306.7 596.3,313.1 596.6,310.2 596.9,314.8 597.1,316.8 597.4,312.6 597.7,313.0 598.0,311.5 598.3,311.0 598.6,316.1 598.9,315.8 599.2,314.9 599.5,314.8 599.8,315.5 600.1,319.0 600.4,315.8 600.7,318.3 600.9,322.0 601.2,320.4 601.5,318.8 601.8,322.1 602.1,324.6 602.4,320.9 602.7,321.0 603.0,321.9 603.3,321.7 603.6,320.5 603.9,323.9 604.2,322.0 604.4,320.9 604.7,322.2 605.0,324.3 605.3,324.3 605.6,321.6 605.9,328.0 606.2,326.6 606.2,330.9 605.9,333.5 605.6,327.3 605.3,330.6 605.0,328.5 604.7,327.7 604.4,325.2 604.2,326.8 603.9,328.1 603.6,326.3 603.3,326.7 603.0,327.4 602.7,325.1 602.4,326.4 602.1,329.6 601.8,327.1 601.5,324.7 601.2,328.0 600.9,327.6 600.7,324.1 600.4,322.8 600.1,325.5 599.8,320.3 599.5,319.5 599.2,320.2 598.9,322.4 598.6,321.6 598.3,316.3 598.0,318.7 597.7,322.2 597.4,317.8 597.1,321.5 596.9,320.3 596.6,316.4 596.3,318.3 596.0,316.3 595.7,315.3 595.4,318.1 595.1,314.1 594.8,315.1 594.5,315.7 594.2,314.1 593.9,313.2 593.6,316.0 593.4,312.9 593.1,309.3 592.8,315.4 592.5,309.7 592.2,310.1 591.9,310.6 591.6,307.1 591.3,307.5 591.0,304.6 590.7,306.5 590.4,303.5 590.1,307.1 589.8,306.0 589.6,301.7 589.3,308.5 589.0,300.4 588.7,303.3 588.4,295.2 588.1,299.9 587.8,300.7 587.5,301.2 587.2,297.8 586.9,295.4 586.6,298.5 586.3,291.8 586.1,295.2 585.8,293.4 585.5,295.3 585.2,296.4 584.9,292.6 584.6,297.4 584.3,289.1 584.0,289.0 583.7,285.6 583.4,290.8 583.1,294.5 582.8,282.4 582.5,295.9 582.3,287.3 582.0,291.6 581.7,291.5 581.4,288.4 581.1,285.9 580.8,288.7 580.5,285.5 580.2,279.6 579.9,284.8 579.6,288.4 579.3,288.4 579.0,289.2 578.8,284.9 578.5,288.3 578.2,285.8 577.9,283.8 577.6,286.5 577.3,286.7 577.0,283.3 576.7,290.2 576.4,282.9 576.1,288.3 575.8,289.9 575.5,285.8 575.2,293.7 575.0,284.1 574.7,289.8 574.4,286.9 574.1,288.0 573.8,284.9 573.5,287.3 573.2,282.1 572.9,286.1 572.6,286.1 572.3,288.5 572.0,283.0 571.7,294.4 571.5,287.5 571.2,284.4 570.9,281.1 570.6,282.6 570.3,290.2 570.0,290.1 569.7,282.6 569.4,295.9 569.1,287.5 568.8,288.0 568.5,289.1 568.2,285.6 567.9,278.9 567.7,284.4 567.4,283.5 567.1,281.7 566.8,283.3 566.5,284.8 566.2,285.7 565.9,281.7 565.6,281.7 565.3,286.7 565.0,282.8 564.7,287.7 564.4,284.4 564.2,288.4 563.9,283.5 563.6,281.9 563.3,283.6 563.0,281.1 562.7,286.7 562.4,281.3 562.1,283.0 561.8,287.7 561.5,283.4 561.2,287.8 560.9,284.7 560.6,280.7 560.4,275.6 560.1,278.8 559.8,274.6 559.5,285.5 559.2,281.1 558.9,285.6 558.6,283.2 558.3,281.9 558.0,287.4 557.7,289.2 557.4,289.5 557.1,290.5 556.9,286.9 556.6,286.4 556.3,280.7 556.0,280.8 555.7,280.8 555.4,285.5 555.1,277.0 554.8,285.9 554.5,287.0 554.2,287.1 553.9,289.2 553.6,287.2 553.3,282.5 553.1,285.6 552.8,279.5 552.5,285.9 552.2,281.0 551.9,286.3 551.6,278.3 551.3,281.3 551.0,281.0 550.7,280.9 550.4,277.6 550.1,282.2 549.8,277.0 549.6,277.7 549.3,281.9 549.0,284.1 548.7,278.3 548.4,275.9 548.1,278.6 547.8,276.0 547.5,281.5 547.2,280.4 546.9,278.5 546.6,283.9 546.3,280.5 546.0,284.1 545.8,275.9 545.5,275.9 545.2,284.2 544.9,279.6 544.6,284.9 544.3,277.2 544.0,274.6 543.7,276.3 543.4,282.0 543.1,284.9 542.8,279.2 542.5,276.3 542.3,282.4 542.0,279.4 541.7,280.6 541.4,279.7 541.1,278.5 540.8,275.4 540.5,275.7 540.2,278.5 539.9,274.3 539.6,279.1 539.3,276.6 539.0,276.3 538.7,284.1 538.5,278.4 538.2,276.4 537.9,276.3 537.6,281.1 537.3,276.4 537.0,280.3 536.7,282.2 536.4,279.3 536.1,271.5 535.8,274.3 535.5,278.5 535.2,281.6 535.0,274.5 534.7,274.8 534.4,273.3 534.1,275.0 533.8,270.2 533.5,273.7 533.2,276.4 532.9,272.4 532.6,271.9 532.3,280.0 532.0,269.9 531.7,279.3 531.4,277.3 531.2,284.2 530.9,277.2 530.6,277.0 530.3,270.9 530.0,275.8 529.7,269.9 529.4,273.3 529.1,270.2 528.8,277.1 528.5,270.1 528.2,271.4 527.9,278.7 527.7,272.6 527.4,276.1 527.1,278.9 526.8,274.2 526.5,274.9 526.2,272.8 525.9,270.2 525.6,271.2 525.3,267.5 525.0,269.3 524.7,270.8 524.4,277.5 524.1,271.8 523.9,271.6 523.6,268.1 523.3,272.3 523.0,272.1 522.7,268.6 522.4,267.0 522.1,278.0 521.8,272.6 521.5,270.9 521.2,270.5 520.9,271.6 520.6,269.4 520.4,267.6 520.1,266.5 519.8,270.1 519.5,264.2 519.2,266.9 518.9,270.9 518.6,268.6 518.3,267.6 518.0,267.7 517.7,257.4 517.4,262.0 517.1,259.8 516.8,258.1 516.6,267.4 516.3,267.4 516.0,268.5 515.7,270.1 515.4,270.3 515.1,264.4 514.8,268.6 514.5,263.4 514.2,271.9 513.9,268.3 513.6,272.3 513.3,260.6 513.1,275.3 512.8,263.9 512.5,261.9 512.2,269.3 511.9,272.5 511.6,272.5 511.3,268.5 511.0,272.6 510.7,270.3 510.4,265.9 510.1,269.4 509.8,270.9 509.5,274.1 509.3,269.8 509.0,268.7 508.7,271.9 508.4,275.5 508.1,271.2 507.8,271.3 507.5,271.1 507.2,272.1 506.9,277.9 506.6,271.2 506.3,277.2 506.0,280.1 505.8,276.8 505.5,280.4 505.2,275.1 504.9,279.8 504.6,280.8 504.3,276.8 504.0,284.1 503.7,279.0 503.4,279.5 503.1,289.5 502.8,282.2 502.5,282.5 502.2,286.2 502.0,285.8 501.7,289.6 501.4,288.5 501.1,291.9 500.8,293.5 500.5,298.1 500.2,295.3 499.9,295.6 499.6,293.7 499.3,295.3 499.0,298.0 498.7,304.6 498.5,304.0 498.2,307.5 497.9,302.3 497.6,312.3 497.3,310.9 497.0,311.0 496.7,312.4 496.4,315.0 496.1,317.6 495.8,318.2 495.5,309.3 495.2,317.4 494.9,317.3 494.7,315.0 494.4,318.5 494.1,316.0 493.8,323.3 493.5,317.5 493.2,317.3 492.9,318.8 492.6,320.6 492.3,319.5 492.0,320.8 491.7,321.0 491.4,321.7 491.2,320.9 490.9,319.9 490.6,321.5 490.3,322.0 490.0,319.9 489.7,317.2 489.4,317.4 489.1,321.7 488.8,316.9 488.5,322.6 488.2,323.9 487.9,318.4 487.6,323.6 487.4,316.2 487.1,323.4 486.8,317.9 486.5,318.3 486.2,318.9 485.9,323.2 485.6,319.1 485.3,318.9 485.0,322.8 484.7,324.1 484.4,319.1 484.1,325.3 483.9,321.3 483.6,323.3 483.3,322.1 483.0,322.6 482.7,320.4 482.4,321.1 482.1,322.8 481.8,317.3 481.5,318.9 481.2,320.8 480.9,322.4 480.6,320.8 480.3,322.8 480.1,321.3 479.8,323.3 479.5,320.9 479.2,320.4 478.9,320.7 478.6,320.0 478.3,320.9 478.0,320.0 477.7,322.8 477.4,321.0 477.1,323.0 476.8,325.6 476.6,322.2 476.3,324.4 476.0,320.9 475.7,321.2 475.4,323.2 475.1,321.6 474.8,323.7 474.5,320.0 474.2,321.1 473.9,317.9 473.6,319.7 473.3,321.2 473.0,317.7 472.8,320.5 472.5,319.0 472.2,320.2 471.9,319.6 471.6,321.2 471.3,321.8 471.0,321.1 470.7,319.5 470.4,326.2 470.1,322.5 469.8,324.1 469.5,323.7 469.3,320.7 469.0,323.3 468.7,323.5 468.4,324.0 468.1,324.9 467.8,323.7 467.5,321.5 467.2,319.0 466.9,322.4 466.6,322.8 466.3,322.2 466.0,322.0 465.7,324.7 465.5,324.6 465.2,326.5 464.9,322.3 464.6,324.7 464.3,324.5 464.0,322.3 463.7,325.3 463.4,325.7 463.1,325.6 462.8,327.6 462.5,323.8 462.2,326.1 462.0,326.9 461.7,326.9 461.4,326.1 461.1,323.8 460.8,329.0 460.5,327.5 460.2,327.7 459.9,325.9 459.6,331.7 459.3,329.9 459.0,328.8 458.7,328.4 458.4,329.5 458.2,328.1 457.9,330.5 457.6,328.7 457.3,330.3 457.0,331.0 456.7,330.7 456.4,330.0 456.1,328.3 455.8,330.5 455.5,334.6 455.2,330.4 454.9,329.3 454.7,327.6 454.4,329.1 454.1,331.1 453.8,333.3 453.5,329.8 453.2,330.9 452.9,331.0 452.6,330.3 452.3,329.8 452.0,330.9 451.7,333.1 451.4,329.8 451.1,333.8 450.9,332.9 450.6,331.9 450.3,334.8 450.0,331.3 449.7,332.8 449.4,330.0 449.1,330.6 448.8,333.1 448.5,332.4 448.2,329.4 447.9,330.6 447.6,325.1 447.4,328.0 447.1,326.7 446.8,328.8 446.5,328.6 446.2,330.6 445.9,333.5 445.6,330.7 445.3,328.8 445.0,331.0 444.7,331.7 444.4,331.1 444.1,332.7 443.8,325.2 443.6,329.1 443.3,329.2 443.0,328.9 442.7,328.5 442.4,326.5 442.1,328.6 441.8,329.6 441.5,328.4 441.2,329.0 440.9,329.4 440.6,327.3 440.3,328.7 440.1,329.9 439.8,327.5 439.5,328.9 439.2,326.2 438.9,327.8 438.6,328.0 438.3,331.9 438.0,329.5 437.7,327.0 437.4,329.0 437.1,331.6 436.8,328.6 436.5,331.7 436.3,331.1 436.0,326.0 435.7,326.9 435.4,326.1 435.1,326.9 434.8,329.3 434.5,329.6 434.2,329.3 433.9,328.0 433.6,330.8 433.3,331.8 433.0,328.0 432.8,331.3 432.5,330.1 432.2,326.6 431.9,328.5 431.6,329.9 431.3,327.4 431.0,327.8 430.7,330.3 430.4,327.8 430.1,328.7 429.8,325.9 429.5,326.8 429.2,328.2 429.0,330.1 428.7,329.8 428.4,326.5 428.1,331.6 427.8,329.5 427.5,325.0 427.2,327.8 426.9,328.9 426.6,329.9 426.3,329.4 426.0,330.8 425.7,330.8 425.5,332.1 425.2,331.0 424.9,328.9 424.6,330.5 424.3,326.5 424.0,328.5 423.7,329.7 423.4,330.4 423.1,329.6 422.8,329.8 422.5,331.2 422.2,325.0 421.9,328.1 421.7,330.1 421.4,328.8 421.1,327.9 420.8,327.0 420.5,325.4 420.2,331.6 419.9,324.7 419.6,326.8 419.3,328.4 419.0,326.5 418.7,326.4 418.4,325.9 418.2,327.7 417.9,327.6 417.6,328.4 417.3,327.1 417.0,330.0 416.7,329.2 416.4,328.1 416.1,329.4 415.8,324.1 415.5,326.0 415.2,329.6 414.9,327.6 414.6,330.1 414.4,327.8 414.1,329.1 413.8,324.7 413.5,322.7 413.2,323.1 412.9,324.5 412.6,323.6 412.3,328.1 412.0,326.2 411.7,327.1 411.4,324.8 411.1,325.1 410.9,325.5 410.6,322.5 410.3,324.0 410.0,325.9 409.7,325.5 409.4,321.6 409.1,326.1 408.8,326.4 408.5,323.4 408.2,326.4 407.9,325.4 407.6,327.1 407.3,329.6 407.1,325.8 406.8,324.2 406.5,322.7 406.2,325.1 405.9,322.1 405.6,326.3 405.3,324.1 405.0,329.1 404.7,326.2 404.4,328.3 404.1,325.0 403.8,324.0 403.6,322.9 403.3,324.5 403.0,324.0 402.7,326.5 402.4,321.1 402.1,323.2 401.8,324.9" fill="#d8d8d8" stroke="none"/>
<polygon points="401.8,316.5 402.1,311.8 402.4,317.5 402.7,315.2 403.0,317.1 403.3,316.1 403.6,317.3 403.8,313.9 404.1,318.4 404.4,318.2 404.7,316.6 405.0,317.1 405.3,321.0 405.6,319.4 405.9,319.1 406.2,318.8 406.5,321.6 406.8,319.1 407.1,321.9 407.3,318.5 407.6,318.5 407.9,321.4 408.2,321.4 408.5,319.7 408.8,321.1 409.1,317.0 409.4,319.8 409.7,318.1 410.0,320.1 410.3,321.7 410.6,318.1 410.9,320.0 411.1,322.6 411.4,320.7 411.7,320.0 412.0,321.9 412.3,320.7 412.6,319.7 412.9,318.2 413.2,318.1 413.5,322.3 413.8,318.7 414.1,319.1 414.4,321.2 414.6,318.2 414.9,322.6 415.2,321.6 415.5,322.6 415.8,325.2 416.1,323.2 416.4,322.0 416.7,322.4 417.0,323.5 417.3,322.1 417.6,320.5 417.9,320.4 418.2,319.9 418.4,320.8 418.7,323.2 419.0,323.7 419.3,323.0 419.6,322.0 419.9,321.1 420.2,322.1 420.5,324.3 420.8,323.5 421.1,324.6 421.4,324.2 421.7,325.4 421.9,325.1 422.2,323.6 422.5,321.9 422.8,320.4 423.1,324.0 423.4,323.8 423.7,322.1 424.0,320.4 424.3,324.5 424.6,324.4 424.9,324.1 425.2,324.0 425.5,325.2 425.7,324.7 426.0,325.7 426.3,327.0 426.6,324.8 426.9,327.4 427.2,327.5 427.5,325.2 427.8,325.1 428.1,325.4 428.4,324.8 428.7,324.8 429.0,325.4 429.2,325.1 429.5,324.3 429.8,325.4 430.1,325.5 430.4,322.5 430.7,325.1 431.0,324.3 431.3,326.6 431.6,324.9 431.9,326.3 432.2,325.6 432.5,327.2 432.8,325.7 433.0,328.6 433.3,323.0 433.6,325.5 433.9,327.4 434.2,326.3 434.5,323.9 434.8,323.6 435.1,328.9 435.4,322.3 435.7,326.4 436.0,323.3 436.3,322.6 436.5,324.7 436.8,325.7 437.1,326.1 437.4,328.1 437.7,326.2 438.0,326.6 438.3,326.7 438.6,326.0 438.9,324.5 439.2,326.2 439.5,325.2 439.8,328.1 440.1,326.6 440.3,326.7 440.6,325.6 440.9,326.6 441.2,325.2 441.5,325.1 441.8,328.4 442.1,324.6 442.4,325.0 442.7,325.5 443.0,322.9 443.3,321.9 443.6,327.8 443.8,325.3 444.1,322.5 444.4,325.2 444.7,325.2 445.0,324.8 445.3,326.5 445.6,324.5 445.9,323.7 446.2,322.4 446.5,324.7 446.8,324.3 447.1,325.0 447.4,325.8 447.6,324.4 447.9,325.4 448.2,325.6 448.5,323.8 448.8,324.7 449.1,326.0 449.4,324.0 449.7,322.4 450.0,323.8 450.3,325.1 450.6,324.2 450.9,324.9 451.1,321.5 451.4,325.3 451.7,323.1 452.0,324.1 452.3,323.8 452.6,323.2 452.9,326.8 453.2,326.0 453.5,325.0 453.8,323.5 454.1,324.4 454.4,325.1 454.7,323.4 454.9,326.1 455.2,326.9 455.5,322.8 455.8,325.4 456.1,324.7 456.4,324.2 456.7,325.3 457.0,325.7 457.3,324.6 457.6,327.5 457.9,327.5 458.2,324.2 458.4,325.9 458.7,325.8 459.0,324.9 459.3,326.1 459.6,325.0 459.9,323.9 460.2,322.6 460.5,325.1 460.8,326.5 461.1,328.2 461.4,325.8 461.7,326.2 462.0,326.9 462.2,329.0 462.5,326.8 462.8,326.0 463.1,325.8 463.4,326.7 463.7,326.4 464.0,327.3 464.3,328.2 464.6,326.0 464.9,326.5 465.2,326.5 465.5,327.1 465.7,326.5 466.0,326.0 466.3,325.0 466.6,326.4 466.9,326.3 467.2,325.5 467.5,327.0 467.8,327.3 468.1,325.4 468.4,324.9 468.7,323.2 469.0,325.9 469.3,322.2 469.5,323.1 469.8,324.1 470.1,324.1 470.4,325.3 470.7,325.0 471.0,321.4 471.3,321.7 471.6,326.5 471.9,326.2 472.2,322.4 472.5,324.8 472.8,323.7 473.0,323.4 473.3,323.0 473.6,326.3 473.9,323.6 474.2,323.6 474.5,324.6 474.8,324.7 475.1,320.8 475.4,320.3 475.7,321.9 476.0,321.9 476.3,322.6 476.6,323.5 476.8,321.3 477.1,321.7 477.4,322.2 477.7,323.6 478.0,323.7 478.3,320.5 478.6,321.7 478.9,318.4 479.2,320.6 479.5,320.5 479.8,321.9 480.1,321.9 480.3,323.7 480.6,323.3 480.9,321.3 481.2,321.8 481.5,320.6 481.8,324.1 482.1,323.0 482.4,321.3 482.7,319.9 483.0,319.7 483.3,321.0 483.6,316.1 483.9,322.2 484.1,321.0 484.4,323.2 484.7,322.6 485.0,320.7 485.3,322.0 485.6,319.6 485.9,320.7 486.2,319.6 486.5,316.7 486.8,318.3 487.1,315.9 487.4,320.3 487.6,319.5 487.9,319.5 488.2,319.2 488.5,319.5 488.8,317.6 489.1,320.0 489.4,319.9 489.7,317.3 490.0,315.2 490.3,314.6 490.6,314.4 490.9,317.5 491.2,317.8 491.4,314.4 491.7,317.3 492.0,316.4 492.3,317.6 492.6,321.1 492.9,316.3 493.2,317.8 493.5,314.6 493.8,315.3 494.1,315.6 494.4,314.2 494.7,313.5 494.9,315.7 495.2,313.5 495.5,315.2 495.8,315.6 496.1,312.8 496.4,310.5 496.7,310.2 497.0,308.4 497.3,307.0 497.6,309.2 497.9,305.2 498.2,308.0 498.5,304.9 498.7,307.2 499.0,307.8 499.3,303.1 499.6,299.7 499.9,299.6 500.2,298.2 500.5,298.1 500.8,300.4 501.1,302.0 501.4,299.6 501.7,298.8 502.0,296.1 502.2,295.3 502.5,295.3 502.8,295.0 503.1,289.4 503.4,293.9 503.7,290.3 504.0,291.3 504.3,289.9 504.6,287.0 504.9,290.7 505.2,287.0 505.5,287.5 505.8,287.3 506.0,281.7 506.3,284.6 506.6,282.6 506.9,288.9 507.2,288.7 507.5,284.1 507.8,280.0 508.1,283.6 508.4,281.7 508.7,283.1 509.0,280.1 509.3,278.2 509.5,277.4 509.8,279.6 510.1,279.1 510.4,276.3 510.7,273.4 511.0,275.9 511.3,276.2 511.6,279.9 511.9,277.0 512.2,278.9 512.5,278.6 512.8,286.7 513.1,273.6 513.3,278.4 513.6,275.9 513.9,274.1 514.2,271.6 514.5,276.0 514.8,275.5 515.1,273.6 515.4,270.0 515.7,275.8 516.0,274.5 516.3,276.3 516.6,270.0 516.8,271.6 517.1,277.8 517.4,274.8 517.7,270.3 518.0,276.4 518.3,270.2 518.6,270.5 518.9,267.3 519.2,270.8 519.5,270.0 519.8,266.3 520.1,272.1 520.4,273.5 520.6,269.5 520.9,269.7 521.2,274.6 521.5,270.3 521.8,268.1 522.1,271.5 522.4,273.1 522.7,269.9 523.0,269.0 523.3,267.4 523.6,272.2 523.9,273.2 524.1,273.1 524.4,272.6 524.7,276.9 525.0,268.4 525.3,268.0 525.6,275.0 525.9,274.7 526.2,269.4 526.5,270.1 526.8,270.8 527.1,271.8 527.4,273.0 527.7,268.6 527.9,268.0 528.2,271.1 528.5,270.5 528.8,271.2 529.1,271.1 529.4,274.4 529.7,275.2 530.0,275.8 530.3,278.5 530.6,278.2 530.9,271.8 531.2,269.6 531.4,273.6 531.7,273.3 532.0,269.5 532.3,271.4 532.6,270.0 532.9,270.6 533.2,276.1 533.5,271.8 533.8,275.1 534.1,274.0 534.4,275.5 534.7,271.6 535.0,276.8 535.2,275.1 535.5,269.8 535.8,273.7 536.1,274.4 536.4,269.5 536.7,272.1 537.0,276.7 537.3,275.3 537.6,273.1 537.9,275.6 538.2,274.4 538.5,271.5 538.7,272.7 539.0,270.5 539.3,270.9 539.6,275.1 539.9,270.1 540.2,272.3 540.5,275.0 540.8,273.8 541.1,271.6 541.4,273.1 541.7,271.8 542.0,274.0 542.3,276.2 542.5,275.6 542.8,276.3 543.1,275.4 543.4,272.4 543.7,274.4 544.0,272.1 544.3,274.8 544.6,276.3 544.9,271.9 545.2,272.9 545.5,276.8 545.8,271.8 546.0,275.9 546.3,271.4 546.6,274.2 546.9,270.7 547.2,273.3 547.5,275.6 547.8,275.0 548.1,273.3 548.4,276.3 548.7,276.7 549.0,278.7 549.3,269.7 549.6,271.3 549.8,272.5 550.1,272.4 550.4,274.0 550.7,275.6 551.0,276.5 551.3,274.1 551.6,275.1 551.9,269.9 552.2,272.0 552.5,273.5 552.8,270.5 553.1,274.1 553.3,269.7 553.6,272.4 553.9,277.7 554.2,276.2 554.5,273.0 554.8,270.8 555.1,277.8 555.4,275.0 555.7,278.2 556.0,274.3 556.3,275.7 556.6,276.3 556.9,272.5 557.1,277.7 557.4,275.7 557.7,274.6 558.0,276.0 558.3,276.0 558.6,279.2 558.9,278.0 559.2,275.3 559.5,272.9 559.8,270.1 560.1,270.7 560.4,272.8 560.6,276.4 560.9,278.8 561.2,274.5 561.5,274.0 561.8,274.9 562.1,275.7 562.4,276.4 562.7,271.0 563.0,274.7 563.3,276.4 563.6,273.7 563.9,273.1 564.2,278.3 564.4,273.2 564.7,275.4 565.0,274.7 565.3,273.8 565.6,280.5 565.9,277.5 566.2,275.8 566.5,277.2 566.8,277.7 567.1,272.4 567.4,274.7 567.7,274.9 567.9,276.8 568.2,274.4 568.5,275.9 568.8,271.9 569.1,273.3 569.4,276.7 569.7,274.6 570.0,277.2 570.3,274.3 570.6,273.6 570.9,277.2 571.2,275.1 571.5,274.7 571.7,275.7 572.0,272.1 572.3,276.3 572.6,273.8 572.9,272.5 573.2,279.9 573.5,280.0 573.8,281.6 574.1,278.5 574.4,276.2 574.7,274.2 575.0,280.0 575.2,276.4 575.5,279.0 575.8,273.4 576.1,279.7 576.4,278.0 576.7,275.6 577.0,276.5 577.3,277.4 577.6,280.0 577.9,279.0 578.2,282.6 578.5,276.3 578.8,278.5 579.0,276.1 579.3,277.6 579.6,273.1 579.9,280.0 580.2,279.7 580.5,282.9 580.8,277.3 581.1,279.4 581.4,282.4 581.7,277.2 582.0,281.9 582.3,281.9 582.5,277.7 582.8,281.5 583.1,280.3 583.4,282.4 583.7,284.7 584.0,280.0 584.3,284.5 584.6,285.1 584.9,286.3 585.2,281.1 585.5,283.7 585.8,286.6 586.1,286.6 586.3,283.8 586.6,284.0 586.9,287.0 587.2,288.9 587.5,287.1 587.8,284.2 588.1,289.2 588.4,287.3 588.7,290.4 589.0,288.0 589.3,287.1 589.6,290.7 589.8,294.2 590.1,294.1 590.4,293.3 590.7,291.8 591.0,298.3 591.3,296.7 591.6,293.1 591.9,295.1 592.2,297.8 592.5,295.3 592.8,297.7 593.1,298.0 593.4,297.0 593.6,302.7 593.9,299.7 594.2,305.1 594.5,301.9 594.8,302.1 595.1,302.1 595.4,301.4 595.7,303.8 596.0,302.3 596.3,303.9 596.6,306.1 596.9,307.7 597.1,310.8 597.4,307.9 597.7,307.0 598.0,308.3 598.3,309.5 598.6,311.3 598.9,310.3 599.2,311.9 599.5,314.8 599.8,312.5 600.1,316.6 600.4,316.5 600.7,313.0 600.9,311.0 601.2,313.8 601.5,314.9 601.8,312.9 602.1,315.3 602.4,312.2 602.7,311.0 603.0,313.4 603.3,314.3 603.6,312.3 603.9,311.6 604.2,314.4 604.4,314.0 604.7,314.4 605.0,314.5 605.3,314.3 605.6,318.4 605.9,319.0 606.2,313.3 606.2,318.5 605.9,324.1 605.6,322.8 605.3,320.7 605.0,320.4 604.7,322.3 604.4,318.2 604.2,321.8 603.9,317.8 603.6,319.0 603.3,321.0 603.0,317.5 602.7,315.5 602.4,319.1 602.1,319.4 601.8,317.9 601.5,320.3 601.2,318.9 600.9,320.4 600.7,319.1 600.4,320.8 600.1,323.3 599.8,318.3 599.5,320.2 599.2,317.5 598.9,319.5 598.6,316.4 598.3,316.3 598.0,316.2 597.7,314.1 597.4,314.7 597.1,316.0 596.9,312.9 596.6,311.0 596.3,313.6 596.0,307.4 595.7,310.0 595.4,306.9 595.1,310.3 594.8,309.8 594.5,312.4 594.2,311.0 593.9,306.4 593.6,307.9 593.4,303.1 593.1,304.9 592.8,304.6 592.5,303.2 592.2,303.7 591.9,302.4 591.6,303.0 591.3,303.3 591.0,303.5 590.7,302.1 590.4,301.9 590.1,300.4 589.8,299.9 589.6,296.6 589.3,296.3 589.0,297.2 588.7,297.4 588.4,293.6 588.1,295.7 587.8,291.4 587.5,293.1 587.2,296.7 586.9,294.2 586.6,290.0 586.3,290.8 586.1,293.4 585.8,293.3 585.5,290.6 585.2,291.2 584.9,292.8 584.6,293.3 584.3,294.5 584.0,289.2 583.7,292.3 583.4,290.9 583.1,288.1 582.8,288.4 582.5,289.9 582.3,288.6 582.0,294.0 581.7,290.5 581.4,290.2 581.1,289.2 580.8,285.1 580.5,289.9 580.2,286.1 579.9,288.6 579.6,286.7 579.3,286.8 579.0,287.2 578.8,286.3 578.5,282.6 578.2,290.5 577.9,290.6 577.6,290.7 577.3,285.8 577.0,285.2 576.7,282.3 576.4,284.9 576.1,288.0 575.8,285.0 575.5,285.2 575.2,285.6 575.0,289.3 574.7,286.0 574.4,285.3 574.1,285.0 573.8,288.3 573.5,286.8 573.2,287.6 572.9,280.5 572.6,283.5 572.3,285.6 572.0,281.5 571.7,284.7 571.5,284.1 571.2,284.5 570.9,283.7 570.6,282.9 570.3,281.2 570.0,285.7 569.7,284.2 569.4,285.7 569.1,280.4 568.8,279.1 568.5,284.6 568.2,283.3 567.9,283.3 567.7,283.9 567.4,281.8 567.1,283.9 566.8,284.3 566.5,283.5 566.2,282.3 565.9,284.4 565.6,288.3 565.3,283.4 565.0,286.2 564.7,285.5 564.4,279.6 564.2,286.7 563.9,281.4 563.6,283.2 563.3,282.9 563.0,284.5 562.7,280.6 562.4,285.7 562.1,286.9 561.8,284.6 561.5,286.3 561.2,282.5 560.9,287.8 560.6,284.5 560.4,281.4 560.1,277.4 559.8,281.7 559.5,279.8 559.2,284.4 558.9,287.9 558.6,285.4 558.3,283.9 558.0,284.4 557.7,282.7 557.4,287.9 557.1,289.5 556.9,283.4 556.6,284.1 556.3,285.7 556.0,283.1 555.7,287.6 555.4,283.2 555.1,287.7 554.8,277.9 554.5,280.4 554.2,284.1 553.9,284.4 553.6,282.0 553.3,277.7 553.1,284.4 552.8,282.9 552.5,282.8 552.2,283.4 551.9,282.6 551.6,281.7 551.3,280.3 551.0,286.0 550.7,283.1 550.4,283.7 550.1,282.0 549.8,280.2 549.6,277.8 549.3,279.7 549.0,285.2 548.7,284.8 548.4,283.4 548.1,279.6 547.8,284.9 547.5,284.2 547.2,281.5 546.9,281.0 546.6,285.5 546.3,283.0 546.0,285.1 545.8,279.8 545.5,283.2 545.2,281.3 544.9,281.2 544.6,283.9 544.3,286.4 544.0,282.1 543.7,284.6 543.4,281.3 543.1,285.1 542.8,286.8 542.5,289.1 542.3,284.8 542.0,286.8 541.7,278.1 541.4,280.3 541.1,280.9 540.8,283.3 540.5,284.9 540.2,281.9 539.9,279.0 539.6,281.8 539.3,278.8 539.0,281.6 538.7,281.3 538.5,281.5 538.2,281.2 537.9,283.2 537.6,282.0 537.3,281.9 537.0,283.1 536.7,281.2 536.4,280.1 536.1,281.1 535.8,280.5 535.5,277.2 535.2,281.8 535.0,284.1 534.7,279.3 534.4,285.1 534.1,280.5 533.8,286.9 533.5,278.6 533.2,284.2 532.9,278.0 532.6,279.7 532.3,280.9 532.0,276.6 531.7,280.8 531.4,280.7 531.2,278.9 530.9,279.5 530.6,284.9 530.3,285.1 530.0,283.0 529.7,281.7 529.4,284.1 529.1,281.5 528.8,278.0 528.5,277.9 528.2,283.4 527.9,277.2 527.7,276.7 527.4,282.5 527.1,283.3 526.8,278.3 526.5,277.6 526.2,276.5 525.9,285.4 525.6,282.7 525.3,277.3 525.0,282.3 524.7,285.4 524.4,280.3 524.1,279.6 523.9,279.8 523.6,278.8 523.3,280.0 523.0,278.9 522.7,277.0 522.4,280.2 522.1,280.6 521.8,275.2 521.5,279.8 521.2,281.7 520.9,278.6 520.6,279.7 520.4,280.6 520.1,278.6 519.8,273.1 519.5,278.3 519.2,283.2 518.9,276.3 518.6,280.4 518.3,280.8 518.0,283.6 517.7,284.7 517.4,282.5 517.1,285.7 516.8,279.0 516.6,278.2 516.3,283.2 516.0,285.1 515.7,282.1 515.4,277.9 515.1,285.6 514.8,282.7 514.5,284.0 514.2,282.7 513.9,283.2 513.6,282.2 513.3,285.1 513.1,280.1 512.8,294.1 512.5,287.2 512.2,285.7 511.9,283.9 511.6,286.6 511.3,285.0 511.0,282.2 510.7,281.8 510.4,286.3 510.1,286.7 509.8,286.2 509.5,285.4 509.3,286.4 509.0,288.9 508.7,290.3 508.4,290.3 508.1,289.4 507.8,291.2 507.5,293.9 507.2,295.4 506.9,297.5 506.6,289.2 506.3,294.8 506.0,290.0 505.8,296.6 505.5,293.0 505.2,293.5 504.9,297.3 504.6,294.2 504.3,295.6 504.0,299.8 503.7,296.9 503.4,300.9 503.1,295.2 502.8,302.3 502.5,303.7 502.2,301.2 502.0,303.1 501.7,304.9 501.4,305.0 501.1,307.2 500.8,306.9 500.5,306.5 500.2,306.1 499.9,304.5 499.6,306.1 499.3,309.7 499.0,312.7 498.7,316.3 498.5,310.5 498.2,312.4 497.9,310.0 497.6,315.7 497.3,315.2 497.0,314.2 496.7,315.5 496.4,314.6 496.1,319.4 495.8,320.8 495.5,319.7 495.2,319.2 494.9,319.7 494.7,319.5 494.4,320.0 494.1,320.3 493.8,320.0 493.5,321.8 493.2,323.8 492.9,322.5 492.6,325.1 492.3,321.8 492.0,320.6 491.7,321.4 491.4,320.7 491.2,321.8 490.9,321.9 490.6,321.6 490.3,320.8 490.0,323.2 489.7,322.8 489.4,324.0 489.1,324.2 488.8,324.5 488.5,327.2 488.2,322.9 487.9,324.0 487.6,323.8 487.4,324.2 487.1,321.3 486.8,323.7 486.5,321.5 486.2,324.2 485.9,324.9 485.6,325.6 485.3,327.1 485.0,325.1 484.7,328.3 484.4,328.1 484.1,325.2 483.9,326.8 483.6,325.3 483.3,324.7 483.0,323.4 482.7,323.4 482.4,326.5 482.1,328.2 481.8,327.8 481.5,325.4 481.2,325.8 480.9,326.4 480.6,327.5 480.3,327.7 480.1,326.6 479.8,325.9 479.5,325.1 479.2,324.4 478.9,324.7 478.6,326.2 478.3,326.5 478.0,327.6 477.7,328.0 477.4,326.3 477.1,327.3 476.8,325.7 476.6,327.7 476.3,327.7 476.0,327.6 475.7,329.4 475.4,327.0 475.1,328.3 474.8,328.6 474.5,331.3 474.2,327.8 473.9,327.7 473.6,330.6 473.3,329.4 473.0,327.4 472.8,330.1 472.5,329.7 472.2,326.4 471.9,332.6 471.6,333.4 471.3,325.9 471.0,328.0 470.7,329.4 470.4,330.5 470.1,328.2 469.8,327.6 469.5,328.5 469.3,327.3 469.0,330.3 468.7,328.5 468.4,329.2 468.1,330.6 467.8,331.8 467.5,333.4 467.2,330.1 466.9,331.1 466.6,330.6 466.3,331.6 466.0,331.8 465.7,332.4 465.5,330.9 465.2,332.0 464.9,330.1 464.6,331.5 464.3,332.4 464.0,334.6 463.7,330.8 463.4,331.8 463.1,330.1 462.8,332.5 462.5,331.9 462.2,335.0 462.0,330.7 461.7,330.0 461.4,332.7 461.1,332.4 460.8,330.6 460.5,329.7 460.2,330.1 459.9,327.9 459.6,331.9 459.3,330.5 459.0,328.8 458.7,333.6 458.4,329.7 458.2,328.9 457.9,332.0 457.6,331.4 457.3,331.2 457.0,329.3 456.7,329.8 456.4,328.3 456.1,329.6 455.8,331.6 455.5,329.0 455.2,332.3 454.9,332.3 454.7,328.3 454.4,331.2 454.1,329.8 453.8,327.2 453.5,328.8 453.2,331.7 452.9,330.6 452.6,328.9 452.3,328.2 452.0,329.3 451.7,329.3 451.4,329.8 451.1,328.8 450.9,329.5 450.6,329.8 450.3,329.0 450.0,329.5 449.7,328.5 449.4,329.6 449.1,331.9 448.8,330.3 448.5,328.6 448.2,329.2 447.9,332.1 447.6,329.0 447.4,330.8 447.1,329.0 446.8,329.3 446.5,331.7 446.2,327.5 445.9,327.9 445.6,328.4 445.3,330.7 445.0,329.1 444.7,330.4 444.4,328.9 444.1,330.1 443.8,329.2 443.6,331.9 443.3,329.1 443.0,330.1 442.7,330.7 442.4,331.0 442.1,331.5 441.8,332.3 441.5,329.2 441.2,331.3 440.9,333.7 440.6,333.2 440.3,331.7 440.1,331.0 439.8,333.3 439.5,330.0 439.2,332.3 438.9,332.3 438.6,330.3 438.3,331.8 438.0,330.2 437.7,330.4 437.4,332.2 437.1,331.9 436.8,330.0 436.5,329.0 436.3,327.3 436.0,327.9 435.7,331.2 435.4,327.1 435.1,332.6 434.8,332.8 434.5,329.6 434.2,333.0 433.9,331.3 433.6,329.5 433.3,331.2 433.0,334.0 432.8,331.3 432.5,331.2 432.2,330.3 431.9,330.4 431.6,331.9 431.3,330.5 431.0,329.2 430.7,329.9 430.4,329.4 430.1,332.9 429.8,329.5 429.5,329.9 429.2,330.7 429.0,329.6 428.7,329.7 428.4,328.9 428.1,330.4 427.8,329.9 427.5,333.1 427.2,331.5 426.9,331.3 426.6,329.7 426.3,331.1 426.0,329.6 425.7,328.4 425.5,329.6 425.2,329.4 424.9,327.9 424.6,328.4 424.3,329.9 424.0,325.1 423.7,325.8 423.4,328.6 423.1,328.3 422.8,324.1 422.5,326.7 422.2,328.8 421.9,329.4 421.7,330.5 421.4,329.3 421.1,331.8 420.8,329.0 420.5,328.0 420.2,326.3 419.9,326.9 419.6,326.7 419.3,326.8 419.0,327.5 418.7,327.3 418.4,325.0 418.2,327.1 417.9,326.0 417.6,325.7 417.3,326.6 417.0,328.2 416.7,326.9 416.4,328.5 416.1,327.1 415.8,331.2 415.5,327.1 415.2,325.5 414.9,326.2 414.6,324.4 414.4,325.8 414.1,324.7 413.8,323.8 413.5,326.3 413.2,323.5 412.9,324.0 412.6,326.9 412.3,324.7 412.0,327.9 411.7,324.2 411.4,326.1 411.1,326.3 410.9,324.6 410.6,323.2 410.3,325.4 410.0,325.5 409.7,325.1 409.4,325.4 409.1,322.8 408.8,326.5 408.5,325.0 408.2,325.2 407.9,326.6 407.6,323.5 407.3,323.3 407.1,325.8 406.8,324.6 406.5,325.9 406.2,323.9 405.9,324.9 405.6,324.5 405.3,327.3 405.0,322.9 404.7,321.9 404.4,322.2 404.1,323.5 403.8,320.1 403.6,321.3 403.3,322.6 403.0,321.0 402.7,320.4 402.4,321.8 402.1,317.6 401.8,323.7" fill="#f7c3b8" stroke="none"/>
<polyline points="401.8,322.4 402.1,321.0 402.4,318.1 402.7,323.1 403.0,321.6 403.3,322.4 403.6,320.7 403.8,321.4 404.1,322.9 404.4,324.8 404.7,322.7 405.0,326.3 405.3,321.6 405.6,323.2 405.9,319.6 406.2,322.5 406.5,319.9 406.8,321.3 407.1,323.4 407.3,327.3 407.6,323.8 407.9,322.5 408.2,323.7 408.5,321.3 408.8,324.1 409.1,324.0 409.4,318.7 409.7,322.8 410.0,323.7 410.3,322.1 410.6,320.1 410.9,323.5 411.1,322.4 411.4,322.1 411.7,324.4 412.0,322.9 412.3,325.2 412.6,321.0 412.9,322.5 413.2,320.1 413.5,320.8 413.8,322.4 414.1,326.3 414.4,324.9 414.6,327.0 414.9,325.4 415.2,327.2 415.5,323.5 415.8,322.0 416.1,326.2 416.4,325.8 416.7,326.4 417.0,327.4 417.3,323.9 417.6,326.5 417.9,324.9 418.2,325.8 418.4,323.5 418.7,323.3 419.0,323.9 419.3,326.2 419.6,324.3 419.9,321.8 420.2,327.0 420.5,322.5 420.8,324.5 421.1,325.9 421.4,326.0 421.7,327.9 421.9,326.1 422.2,322.6 422.5,329.3 422.8,326.5 423.1,326.6 423.4,328.1 423.7,326.5 424.0,326.6 424.3,324.4 424.6,327.7 424.9,325.6 425.2,328.3 425.5,329.1 425.7,327.1 426.0,328.5 426.3,326.7 426.6,326.8 426.9,326.3 427.2,325.5 427.5,322.4 427.8,327.5 428.1,328.4 428.4,324.3 428.7,327.6 429.0,327.8 429.2,325.9 429.5,324.3 429.8,323.6 430.1,325.9 430.4,324.9 430.7,327.4 431.0,323.8 431.3,324.5 431.6,325.7 431.9,325.9 432.2,324.3 432.5,326.5 432.8,328.4 433.0,325.7 433.3,329.1 433.6,327.8 433.9,325.4 434.2,327.1 434.5,327.4 434.8,326.9 435.1,324.1 435.4,324.1 435.7,325.0 436.0,323.9 436.3,327.7 436.5,328.7 436.8,325.5 437.1,329.6 437.4,326.9 437.7,324.8 438.0,327.1 438.3,329.1 438.6,325.0 438.9,324.9 439.2,322.6 439.5,326.3 439.8,325.4 440.1,326.6 440.3,324.1 440.6,323.7 440.9,326.6 441.2,326.7 441.5,325.5 441.8,327.6 442.1,324.8 442.4,324.2 442.7,326.0 443.0,325.6 443.3,326.5 443.6,326.7 443.8,323.0 444.1,328.0 444.4,329.1 444.7,329.7 445.0,328.7 445.3,326.7 445.6,327.1 445.9,331.3 446.2,326.6 446.5,325.8 446.8,325.1 447.1,323.8 447.4,324.9 447.6,322.8 447.9,328.2 448.2,325.4 448.5,329.8 448.8,330.8 449.1,327.3 449.4,327.7 449.7,330.6 450.0,328.9 450.3,331.7 450.6,329.7 450.9,330.2 451.1,331.8 451.4,327.8 451.7,331.1 452.0,328.6 452.3,326.9 452.6,327.3 452.9,329.0 453.2,328.8 453.5,327.1 453.8,330.7 454.1,326.9 454.4,327.2 454.7,325.4 454.9,327.2 455.2,327.4 455.5,330.6 455.8,327.3 456.1,326.1 456.4,327.4 456.7,328.6 457.0,328.8 457.3,327.7 457.6,326.0 457.9,328.1 458.2,324.8 458.4,325.5 458.7,325.1 459.0,326.9 459.3,326.7 459.6,328.9 459.9,323.5 460.2,324.5 460.5,325.6 460.8,326.8 461.1,321.2 461.4,323.4 461.7,324.3 462.0,324.7 462.2,323.4 462.5,321.1 462.8,324.7 463.1,323.2 463.4,323.0 463.7,322.1 464.0,320.0 464.3,322.0 464.6,321.5 464.9,320.1 465.2,322.6 465.5,321.2 465.7,322.4 466.0,319.2 466.3,319.3 466.6,319.4 466.9,320.1 467.2,316.1 467.5,319.2 467.8,321.5 468.1,322.6 468.4,321.7 468.7,321.3 469.0,319.6 469.3,318.7 469.5,321.2 469.8,321.8 470.1,320.2 470.4,323.8 470.7,316.3 471.0,318.6 471.3,318.8 471.6,316.2 471.9,317.0 472.2,317.0 472.5,316.7 472.8,316.8 473.0,315.3 473.3,318.3 473.6,316.5 473.9,315.8 474.2,317.2 474.5,317.8 474.8,320.6 475.1,318.8 475.4,320.0 475.7,318.0 476.0,317.2 476.3,321.9 476.6,319.2 476.8,322.9 477.1,320.7 477.4,318.5 477.7,320.3 478.0,317.5 478.3,318.6 478.6,317.7 478.9,317.0 479.2,317.5 479.5,317.2 479.8,319.7 480.1,317.9 480.3,320.4 480.6,318.0 480.9,320.2 481.2,318.0 481.5,315.3 481.8,315.0 482.1,318.8 482.4,318.7 482.7,317.3 483.0,320.3 483.3,319.2 483.6,320.0 483.9,318.1 484.1,320.8 484.4,316.3 484.7,321.5 485.0,319.4 485.3,316.1 485.6,316.4 485.9,320.7 486.2,315.3 486.5,315.5 486.8,315.8 487.1,320.8 487.4,313.7 487.6,320.7 487.9,315.3 488.2,319.8 488.5,318.7 488.8,314.8 489.1,319.3 489.4,313.9 489.7,314.9 490.0,316.6 490.3,318.7 490.6,318.9 490.9,316.5 491.2,317.5 491.4,319.3 491.7,318.2 492.0,318.0 492.3,315.2 492.6,317.5 492.9,316.7 493.2,314.3 493.5,314.5 493.8,320.1 494.1,313.7 494.4,315.4 494.7,312.1 494.9,314.3 495.2,315.0 495.5,306.5 495.8,314.4 496.1,315.1 496.4,311.7 496.7,308.7 497.0,307.5 497.3,307.1 497.6,307.9 497.9,299.2 498.2,304.9 498.5,299.0 498.7,301.4 499.0,294.2 499.3,292.3 499.6,289.4 499.9,292.2 500.2,290.2 500.5,292.2 500.8,288.5 501.1,288.4 501.4,285.4 501.7,285.5 502.0,281.9 502.2,282.6 502.5,279.2 502.8,278.4 503.1,281.1 503.4,276.0 503.7,275.6 504.0,279.9 504.3,271.4 504.6,277.3 504.9,275.4 505.2,270.7 505.5,275.3 505.8,270.7 506.0,274.3 506.3,272.9 506.6,266.4 506.9,271.2 507.2,266.8 507.5,264.6 507.8,266.0 508.1,265.8 508.4,269.2 508.7,267.2 509.0,264.4 509.3,262.9 509.5,269.4 509.8,266.1 510.1,264.0 510.4,262.1 510.7,265.2 511.0,268.1 511.3,264.7 511.6,267.5 511.9,267.1 512.2,263.3 512.5,257.0 512.8,257.7 513.1,268.3 513.3,256.3 513.6,267.9 513.9,264.4 514.2,265.1 514.5,258.2 514.8,264.4 515.1,259.4 515.4,265.5 515.7,263.7 516.0,264.4 516.3,262.5 516.6,262.8 516.8,253.9 517.1,254.6 517.4,256.5 517.7,252.4 518.0,261.6 518.3,263.5 518.6,263.2 518.9,266.0 519.2,262.1 519.5,260.1 519.8,264.2 520.1,261.6 520.4,262.0 520.6,265.1 520.9,267.7 521.2,264.7 521.5,266.6 521.8,268.2 522.1,272.5 522.4,261.7 522.7,263.6 523.0,266.9 523.3,267.7 523.6,264.0 523.9,267.3 524.1,264.8 524.4,273.7 524.7,266.4 525.0,263.9 525.3,262.8 525.6,264.9 525.9,265.1 526.2,266.5 526.5,267.9 526.8,269.9 527.1,275.0 527.4,272.0 527.7,266.7 527.9,273.4 528.2,263.3 528.5,264.9 528.8,272.1 529.1,265.3 529.4,269.3 529.7,264.5 530.0,270.9 530.3,265.4 530.6,271.8 530.9,272.7 531.2,277.0 531.4,269.8 531.7,274.6 532.0,266.0 532.3,275.5 532.6,267.6 532.9,267.2 533.2,271.4 533.5,270.1 533.8,263.8 534.1,271.4 534.4,268.2 534.7,268.9 535.0,270.8 535.2,276.6 535.5,271.9 535.8,270.1 536.1,267.5 536.4,272.8 536.7,276.9 537.0,276.4 537.3,272.4 537.6,274.7 537.9,270.9 538.2,271.3 538.5,274.0 538.7,277.5 539.0,272.3 539.3,271.5 539.6,272.8 539.9,270.6 540.2,274.1 540.5,270.9 540.8,270.7 541.1,273.5 541.4,273.3 541.7,275.8 542.0,275.1 542.3,276.6 542.5,271.0 542.8,274.5 543.1,278.8 543.4,275.7 543.7,271.2 544.0,270.5 544.3,272.9 544.6,279.7 544.9,274.1 545.2,280.2 545.5,271.9 545.8,271.4 546.0,280.0 546.3,275.4 546.6,279.2 546.9,274.4 547.2,276.1 547.5,277.1 547.8,271.9 548.1,274.9 548.4,272.2 548.7,273.4 549.0,279.3 549.3,277.6 549.6,273.2 549.8,273.2 550.1,278.8 550.4,272.8 550.7,276.6 551.0,274.9 551.3,276.8 551.6,273.8 551.9,278.4 552.2,276.8 552.5,281.2 552.8,275.5 553.1,282.1 553.3,278.8 553.6,282.8 553.9,284.7 554.2,281.9 554.5,282.4 554.8,282.4 555.1,273.6 555.4,280.0 555.7,273.9 556.0,275.4 556.3,277.2 556.6,281.7 556.9,283.4 557.1,284.6 557.4,284.7 557.7,283.6 558.0,281.2 558.3,278.5 558.6,276.7 558.9,282.0 559.2,275.6 559.5,281.3 559.8,271.3 560.1,274.3 560.4,271.8 560.6,277.4 560.9,281.1 561.2,282.7 561.5,278.4 561.8,284.0 562.1,277.6 562.4,277.9 562.7,281.8 563.0,276.1 563.3,279.4 563.6,278.4 563.9,277.9 564.2,282.1 564.4,280.6 564.7,283.7 565.0,278.7 565.3,281.9 565.6,276.7 565.9,277.1 566.2,280.9 566.5,279.3 566.8,279.5 567.1,276.5 567.4,278.8 567.7,279.9 567.9,275.0 568.2,281.0 568.5,282.6 568.8,283.7 569.1,282.4 569.4,286.6 569.7,278.8 570.0,285.6 570.3,285.9 570.6,278.4 570.9,276.8 571.2,280.6 571.5,283.8 571.7,288.0 572.0,279.6 572.3,284.2 572.6,281.4 572.9,282.8 573.2,278.5 573.5,282.9 573.8,280.6 574.1,283.5 574.4,283.4 574.7,285.6 575.0,280.6 575.2,288.8 575.5,281.2 575.8,285.5 576.1,283.5 576.4,279.3 576.7,285.7 577.0,279.3 577.3,283.5 577.6,280.1 577.9,280.5 578.2,279.7 578.5,283.7 578.8,281.4 579.0,284.8 579.3,282.5 579.6,283.6 579.9,281.3 580.2,275.1 580.5,280.5 580.8,285.1 581.1,282.7 581.4,283.3 581.7,286.8 582.0,286.3 582.3,282.8 582.5,288.3 582.8,278.6 583.1,290.6 583.4,286.2 583.7,281.7 584.0,285.3 584.3,284.8 584.6,293.4 584.9,289.2 585.2,292.2 585.5,290.2 585.8,288.3 586.1,291.6 586.3,287.6 586.6,293.0 586.9,291.4 587.2,294.1 587.5,295.0 587.8,296.2 588.1,295.2 588.4,292.3 588.7,299.6 589.0,297.0 589.3,305.4 589.6,298.6 589.8,303.2 590.1,302.0 590.4,300.8 590.7,302.2 591.0,301.6 591.3,304.7 591.6,303.8 591.9,308.0 592.2,307.0 592.5,307.1 592.8,310.7 593.1,306.8 593.4,309.3 593.6,312.3 593.9,310.5 594.2,311.3 594.5,313.3 594.8,312.1 595.1,311.5 595.4,315.5 595.7,312.6 596.0,311.8 596.3,315.8 596.6,313.5 596.9,317.7 597.1,319.3 597.4,315.3 597.7,317.8 598.0,315.3 598.3,313.8 598.6,319.0 598.9,319.3 599.2,317.7 599.5,317.2 599.8,318.0 600.1,322.4 600.4,319.4 600.7,321.4 600.9,324.9 601.2,324.4 601.5,321.9 601.8,324.8 602.1,327.2 602.4,323.8 602.7,323.2 603.0,324.8 603.3,324.4 603.6,323.5 603.9,326.1 604.2,324.5 604.4,323.2 604.7,325.1 605.0,326.5 605.3,327.6 605.6,324.6 605.9,330.9 606.2,328.9" fill="none" stroke="#6a6a6a" stroke-width="0.55"/>
<polyline points="401.8,320.3 402.1,314.9 402.4,319.8 402.7,317.9 403.0,319.2 403.3,319.5 403.6,319.4 403.8,317.2 404.1,321.1 404.4,320.3 404.7,319.4 405.0,320.1 405.3,324.3 405.6,322.1 405.9,322.1 406.2,321.5 406.5,323.9 406.8,322.0 407.1,324.0 407.3,321.0 407.6,321.1 407.9,324.2 408.2,323.4 408.5,322.5 408.8,324.0 409.1,320.0 409.4,322.8 409.7,321.8 410.0,323.0 410.3,323.7 410.6,320.8 410.9,322.4 411.1,324.5 411.4,323.6 411.7,322.2 412.0,325.1 412.3,322.8 412.6,323.5 412.9,321.3 413.2,320.9 413.5,324.4 413.8,321.4 414.1,322.1 414.4,323.7 414.6,321.5 414.9,324.5 415.2,323.6 415.5,325.0 415.8,328.4 416.1,325.2 416.4,325.4 416.7,324.8 417.0,326.0 417.3,324.5 417.6,323.2 417.9,323.3 418.2,323.7 418.4,323.0 418.7,325.3 419.0,325.7 419.3,325.0 419.6,324.5 419.9,324.2 420.2,324.3 420.5,326.3 420.8,326.4 421.1,328.4 421.4,326.9 421.7,328.1 421.9,327.4 422.2,326.3 422.5,324.4 422.8,322.4 423.1,326.3 423.4,326.3 423.7,324.0 424.0,322.9 424.3,327.3 424.6,326.5 424.9,326.1 425.2,326.8 425.5,327.5 425.7,326.7 426.0,327.7 426.3,329.2 426.6,327.4 426.9,329.5 427.2,329.6 427.5,329.3 427.8,327.6 428.1,328.0 428.4,327.0 428.7,327.3 429.0,327.6 429.2,328.1 429.5,327.2 429.8,327.5 430.1,329.4 430.4,326.1 430.7,327.6 431.0,326.9 431.3,328.6 431.6,328.6 431.9,328.5 432.2,328.0 432.5,329.3 432.8,328.6 433.0,331.5 433.3,327.3 433.6,327.6 433.9,329.5 434.2,329.8 434.5,326.9 434.8,328.4 435.1,330.8 435.4,324.8 435.7,328.9 436.0,325.7 436.3,325.1 436.5,327.0 436.8,328.0 437.1,329.2 437.4,330.3 437.7,328.4 438.0,328.5 438.3,329.4 438.6,328.3 438.9,328.6 439.2,329.4 439.5,327.7 439.8,330.8 440.1,328.9 440.3,329.3 440.6,329.6 440.9,330.4 441.2,328.4 441.5,327.3 441.8,330.5 442.1,328.2 442.4,328.1 442.7,328.2 443.0,326.7 443.3,325.7 443.6,330.0 443.8,327.3 444.1,326.5 444.4,327.2 444.7,327.9 445.0,327.1 445.3,328.7 445.6,326.6 445.9,325.9 446.2,325.1 446.5,328.4 446.8,326.9 447.1,327.1 447.4,328.4 447.6,326.8 447.9,328.9 448.2,327.5 448.5,326.3 448.8,327.6 449.1,329.1 449.4,327.0 449.7,325.6 450.0,326.8 450.3,327.2 450.6,327.2 450.9,327.3 451.1,325.3 451.4,327.7 451.7,326.4 452.0,326.8 452.3,326.1 452.6,326.2 452.9,328.8 453.2,329.0 453.5,327.0 453.8,325.5 454.1,327.3 454.4,328.3 454.7,326.0 454.9,329.3 455.2,329.8 455.5,326.0 455.8,328.7 456.1,327.3 456.4,326.3 456.7,327.7 457.0,327.6 457.3,328.1 457.6,329.5 457.9,329.8 458.2,326.6 458.4,327.9 458.7,329.9 459.0,326.9 459.3,328.4 459.6,328.6 459.9,326.0 460.2,326.5 460.5,327.5 460.8,328.7 461.1,330.4 461.4,329.4 461.7,328.2 462.0,328.9 462.2,332.2 462.5,329.5 462.8,329.4 463.1,328.1 463.4,329.4 463.7,328.7 464.0,331.1 464.3,330.4 464.6,328.9 464.9,328.4 465.2,329.4 465.5,329.1 465.7,329.6 466.0,329.1 466.3,328.5 466.6,328.6 466.9,328.8 467.2,327.9 467.5,330.4 467.8,329.7 468.1,328.1 468.4,327.2 468.7,326.0 469.0,328.2 469.3,324.9 469.5,325.9 469.8,325.9 470.1,326.3 470.4,328.0 470.7,327.4 471.0,324.9 471.3,323.9 471.6,330.1 471.9,329.6 472.2,324.5 472.5,327.4 472.8,327.1 473.0,325.5 473.3,326.4 473.6,328.5 473.9,325.8 474.2,325.8 474.5,328.1 474.8,326.8 475.1,324.7 475.4,323.8 475.7,325.9 476.0,324.9 476.3,325.3 476.6,325.7 476.8,323.6 477.1,324.6 477.4,324.4 477.7,325.9 478.0,325.7 478.3,323.7 478.6,324.1 478.9,321.7 479.2,322.6 479.5,323.0 479.8,324.0 480.1,324.4 480.3,325.8 480.6,325.5 480.9,324.0 481.2,323.9 481.5,323.1 481.8,326.1 482.1,325.8 482.4,324.0 482.7,321.7 483.0,321.7 483.3,323.0 483.6,321.0 483.9,324.6 484.1,323.2 484.4,325.8 484.7,325.6 485.0,323.0 485.3,324.7 485.6,322.8 485.9,322.9 486.2,322.0 486.5,319.2 486.8,321.2 487.1,318.8 487.4,322.4 487.6,321.8 487.9,321.9 488.2,321.2 488.5,323.6 488.8,321.3 489.1,322.2 489.4,322.1 489.7,320.2 490.0,319.4 490.3,317.9 490.6,318.2 490.9,319.8 491.2,319.9 491.4,317.7 491.7,319.5 492.0,318.6 492.3,319.8 492.6,323.2 492.9,319.6 493.2,321.0 493.5,318.4 493.8,317.8 494.1,318.1 494.4,317.3 494.7,316.7 494.9,317.8 495.2,316.5 495.5,317.6 495.8,318.3 496.1,316.3 496.4,312.6 496.7,313.0 497.0,311.4 497.3,311.3 497.6,312.7 497.9,307.7 498.2,310.3 498.5,307.8 498.7,312.0 499.0,310.4 499.3,306.6 499.6,303.0 499.9,302.2 500.2,302.4 500.5,302.5 500.8,303.8 501.1,304.8 501.4,302.4 501.7,302.0 502.0,299.8 502.2,298.4 502.5,299.7 502.8,298.9 503.1,292.5 503.4,297.6 503.7,293.8 504.0,295.8 504.3,292.9 504.6,290.8 504.9,294.1 505.2,290.4 505.5,290.4 505.8,292.2 506.0,286.0 506.3,290.0 506.6,286.1 506.9,293.4 507.2,292.2 507.5,289.2 507.8,285.9 508.1,286.7 508.4,286.2 508.7,286.9 509.0,284.7 509.3,282.5 509.5,281.6 509.8,283.1 510.1,283.1 510.4,281.5 510.7,277.8 511.0,279.3 511.3,280.9 511.6,283.4 511.9,280.6 512.2,282.5 512.5,283.2 512.8,290.6 513.1,277.1 513.3,282.0 513.6,279.2 513.9,278.9 514.2,277.4 514.5,280.2 514.8,279.3 515.1,279.9 515.4,274.2 515.7,279.1 516.0,280.1 516.3,279.9 516.6,274.3 516.8,275.5 517.1,282.0 517.4,278.9 517.7,277.9 518.0,280.2 518.3,275.8 518.6,275.7 518.9,272.1 519.2,277.3 519.5,274.4 519.8,269.9 520.1,275.5 520.4,277.2 520.6,274.8 520.9,274.4 521.2,278.3 521.5,275.3 521.8,271.8 522.1,276.3 522.4,276.8 522.7,273.6 523.0,274.2 523.3,274.0 523.6,275.6 523.9,276.7 524.1,276.5 524.4,276.6 524.7,281.4 525.0,275.7 525.3,272.9 525.6,279.0 525.9,280.3 526.2,273.2 526.5,274.1 526.8,274.7 527.1,277.8 527.4,278.0 527.7,272.9 527.9,272.9 528.2,277.6 528.5,274.4 528.8,274.8 529.1,276.6 529.4,279.5 529.7,278.6 530.0,279.6 530.3,282.0 530.6,281.8 530.9,275.9 531.2,274.5 531.4,277.3 531.7,277.2 532.0,273.2 532.3,276.4 532.6,275.1 532.9,274.5 533.2,280.4 533.5,275.4 533.8,281.3 534.1,277.4 534.4,280.6 534.7,275.7 535.0,280.6 535.2,278.6 535.5,273.7 535.8,277.3 536.1,277.9 536.4,275.1 536.7,276.9 537.0,280.1 537.3,278.8 537.6,277.8 537.9,279.6 538.2,278.0 538.5,276.7 538.7,277.2 539.0,276.3 539.3,275.0 539.6,278.6 539.9,274.7 540.2,277.3 540.5,280.2 540.8,278.8 541.1,276.5 541.4,276.9 541.7,275.1 542.0,280.7 542.3,280.7 542.5,282.7 542.8,281.8 543.1,280.5 543.4,277.1 543.7,279.7 544.0,277.4 544.3,280.9 544.6,280.3 544.9,276.8 545.2,277.3 545.5,280.2 545.8,276.0 546.0,280.7 546.3,277.5 546.6,280.1 546.9,276.1 547.2,277.6 547.5,280.1 547.8,280.2 548.1,276.6 548.4,280.0 548.7,281.0 549.0,282.1 549.3,275.0 549.6,274.7 549.8,276.5 550.1,277.4 550.4,279.1 550.7,279.6 551.0,281.5 551.3,277.4 551.6,278.6 551.9,276.6 552.2,278.0 552.5,278.4 552.8,277.0 553.1,279.5 553.3,273.9 553.6,277.4 553.9,281.2 554.2,280.4 554.5,276.9 554.8,274.5 555.1,283.0 555.4,279.3 555.7,283.1 556.0,278.9 556.3,280.9 556.6,280.4 556.9,278.2 557.1,283.9 557.4,282.1 557.7,278.8 558.0,280.4 558.3,280.2 558.6,282.4 558.9,283.2 559.2,280.1 559.5,276.5 559.8,276.2 560.1,274.2 560.4,277.3 560.6,280.7 560.9,283.5 561.2,278.7 561.5,280.5 561.8,280.0 562.1,281.6 562.4,281.3 562.7,276.1 563.0,279.9 563.3,279.9 563.6,278.7 563.9,277.4 564.2,282.8 564.4,276.6 564.7,280.7 565.0,280.8 565.3,278.9 565.6,284.6 565.9,281.2 566.2,279.2 566.5,280.6 566.8,281.2 567.1,278.5 567.4,278.5 567.7,279.7 567.9,280.2 568.2,279.1 568.5,280.5 568.8,275.7 569.1,277.1 569.4,281.4 569.7,279.7 570.0,281.7 570.3,278.0 570.6,278.5 570.9,280.6 571.2,280.0 571.5,279.7 571.7,280.4 572.0,277.1 572.3,281.2 572.6,278.9 572.9,276.7 573.2,284.0 573.5,283.6 573.8,285.1 574.1,281.9 574.4,281.0 574.7,280.4 575.0,284.9 575.2,281.3 575.5,282.2 575.8,279.5 576.1,284.1 576.4,281.6 576.7,279.1 577.0,281.1 577.3,281.8 577.6,285.6 577.9,285.1 578.2,286.8 578.5,279.6 578.8,282.6 579.0,282.0 579.3,282.5 579.6,280.3 579.9,284.5 580.2,283.1 580.5,286.6 580.8,281.4 581.1,284.6 581.4,286.5 581.7,284.2 582.0,288.3 582.3,285.5 582.5,284.1 582.8,285.2 583.1,284.4 583.4,286.9 583.7,288.7 584.0,284.8 584.3,289.8 584.6,289.4 584.9,289.7 585.2,286.4 585.5,287.3 585.8,290.1 586.1,290.2 586.3,287.5 586.6,287.2 586.9,290.8 587.2,293.0 587.5,290.3 587.8,288.0 588.1,292.6 588.4,290.6 588.7,294.1 589.0,292.8 589.3,291.9 589.6,293.8 589.8,297.2 590.1,297.4 590.4,297.8 590.7,297.2 591.0,301.1 591.3,300.2 591.6,298.3 591.9,299.0 592.2,300.9 592.5,299.5 592.8,301.3 593.1,301.6 593.4,300.2 593.6,305.5 593.9,303.2 594.2,308.2 594.5,307.4 594.8,306.1 595.1,306.4 595.4,304.3 595.7,307.1 596.0,305.0 596.3,309.0 596.6,308.7 596.9,310.5 597.1,313.5 597.4,311.5 597.7,310.7 598.0,312.4 598.3,313.1 598.6,314.0 598.9,315.1 599.2,314.8 599.5,317.7 599.8,315.6 600.1,320.1 600.4,318.7 600.7,316.2 600.9,315.9 601.2,316.5 601.5,317.7 601.8,315.5 602.1,317.5 602.4,315.8 602.7,313.4 603.0,315.6 603.3,317.8 603.6,315.8 603.9,314.9 604.2,318.3 604.4,316.2 604.7,318.5 605.0,317.6 605.3,317.7 605.6,320.7 605.9,321.7 606.2,316.0" fill="none" stroke="#e54a2d" stroke-width="0.75"/>
<line x1="401.80" y1="322.90" x2="606.20" y2="322.90" stroke="#000" stroke-width="1.6" stroke-dasharray="0 3.15" stroke-linecap="round"/>
<line x1="401.80" y1="229.00" x2="401.80" y2="369.70" stroke="#444" stroke-width="0.9"/>
<line x1="401.80" y1="369.70" x2="606.20" y2="369.70" stroke="#444" stroke-width="0.9"/>
<line x1="398.80" y1="369.70" x2="401.80" y2="369.70" stroke="#444" stroke-width="0.8"/>
<text x="392.20" y="374.00" font-size="10.3" text-anchor="end" fill="#231f20" color="#231f20">−10</text>
<line x1="398.80" y1="322.90" x2="401.80" y2="322.90" stroke="#444" stroke-width="0.8"/>
<text x="392.20" y="327.20" font-size="10.3" text-anchor="end" fill="#231f20" color="#231f20">0</text>
<line x1="398.80" y1="276.10" x2="401.80" y2="276.10" stroke="#444" stroke-width="0.8"/>
<text x="392.20" y="280.40" font-size="10.3" text-anchor="end" fill="#231f20" color="#231f20">10</text>
<line x1="398.80" y1="229.30" x2="401.80" y2="229.30" stroke="#444" stroke-width="0.8"/>
<text x="392.20" y="233.60" font-size="10.3" text-anchor="end" fill="#231f20" color="#231f20">20</text>
<line x1="401.80" y1="369.70" x2="401.80" y2="372.70" stroke="#444" stroke-width="0.8"/>
<text x="401.80" y="385.90" font-size="10.3" text-anchor="middle" fill="#231f20" color="#231f20">0</text>
<line x1="431.00" y1="369.70" x2="431.00" y2="372.70" stroke="#444" stroke-width="0.8"/>
<text x="431.00" y="385.90" font-size="10.3" text-anchor="middle" fill="#231f20" color="#231f20">10</text>
<line x1="460.20" y1="369.70" x2="460.20" y2="372.70" stroke="#444" stroke-width="0.8"/>
<text x="460.20" y="385.90" font-size="10.3" text-anchor="middle" fill="#231f20" color="#231f20">20</text>
<line x1="489.40" y1="369.70" x2="489.40" y2="372.70" stroke="#444" stroke-width="0.8"/>
<text x="489.40" y="385.90" font-size="10.3" text-anchor="middle" fill="#231f20" color="#231f20">30</text>
<line x1="518.60" y1="369.70" x2="518.60" y2="372.70" stroke="#444" stroke-width="0.8"/>
<text x="518.60" y="385.90" font-size="10.3" text-anchor="middle" fill="#231f20" color="#231f20">40</text>
<line x1="547.80" y1="369.70" x2="547.80" y2="372.70" stroke="#444" stroke-width="0.8"/>
<text x="547.80" y="385.90" font-size="10.3" text-anchor="middle" fill="#231f20" color="#231f20">50</text>
<line x1="577.00" y1="369.70" x2="577.00" y2="372.70" stroke="#444" stroke-width="0.8"/>
<text x="577.00" y="385.90" font-size="10.3" text-anchor="middle" fill="#231f20" color="#231f20">60</text>
<line x1="606.20" y1="369.70" x2="606.20" y2="372.70" stroke="#444" stroke-width="0.8"/>
<text x="606.20" y="385.90" font-size="10.3" text-anchor="middle" fill="#231f20" color="#231f20">70</text>
<line x1="416.40" y1="369.70" x2="416.40" y2="371.50" stroke="#444" stroke-width="0.7"/>
<line x1="445.60" y1="369.70" x2="445.60" y2="371.50" stroke="#444" stroke-width="0.7"/>
<line x1="474.80" y1="369.70" x2="474.80" y2="371.50" stroke="#444" stroke-width="0.7"/>
<line x1="504.00" y1="369.70" x2="504.00" y2="371.50" stroke="#444" stroke-width="0.7"/>
<line x1="533.20" y1="369.70" x2="533.20" y2="371.50" stroke="#444" stroke-width="0.7"/>
<line x1="562.40" y1="369.70" x2="562.40" y2="371.50" stroke="#444" stroke-width="0.7"/>
<line x1="591.60" y1="369.70" x2="591.60" y2="371.50" stroke="#444" stroke-width="0.7"/>
<text x="504.20" y="405.60" font-size="11.45" text-anchor="middle" fill="#231f20" color="#231f20">Time (s)</text>
<text x="370.20" y="299.90" font-size="10.5" text-anchor="middle" fill="#231f20" color="#231f20" transform="rotate(-90 370.20 299.90)">ΔCBV (%)</text>
<line x1="503.30" y1="222.20" x2="531.50" y2="222.20" stroke="#f58fd6" stroke-width="2.8"/>
<line x1="531.50" y1="222.20" x2="578.80" y2="222.20" stroke="#8080ee" stroke-width="2.8"/>
<text x="517.20" y="216.50" font-size="11.45" text-anchor="middle" fill="#f58fd6" color="#f58fd6">Early</text>
<text x="555.30" y="216.50" font-size="11.45" text-anchor="middle" fill="#8c8cf2" color="#8c8cf2">Late</text>
<line x1="619.20" y1="242.50" x2="629.00" y2="242.50" stroke="#909090" stroke-width="1.5"/>
<text x="634.10" y="246.20" font-size="10.4" text-anchor="start" fill="#231f20" color="#231f20">Control</text>
<line x1="619.20" y1="256.90" x2="629.00" y2="256.90" stroke="#e0442b" stroke-width="1.5"/>
<text x="634.10" y="260.60" font-size="9.9" text-anchor="start" fill="#e0442b" color="#e0442b" font-style="italic">Eng-iKO<tspan font-size="6.3" dy="-3.8">e</tspan></text>
</svg></body></html>
